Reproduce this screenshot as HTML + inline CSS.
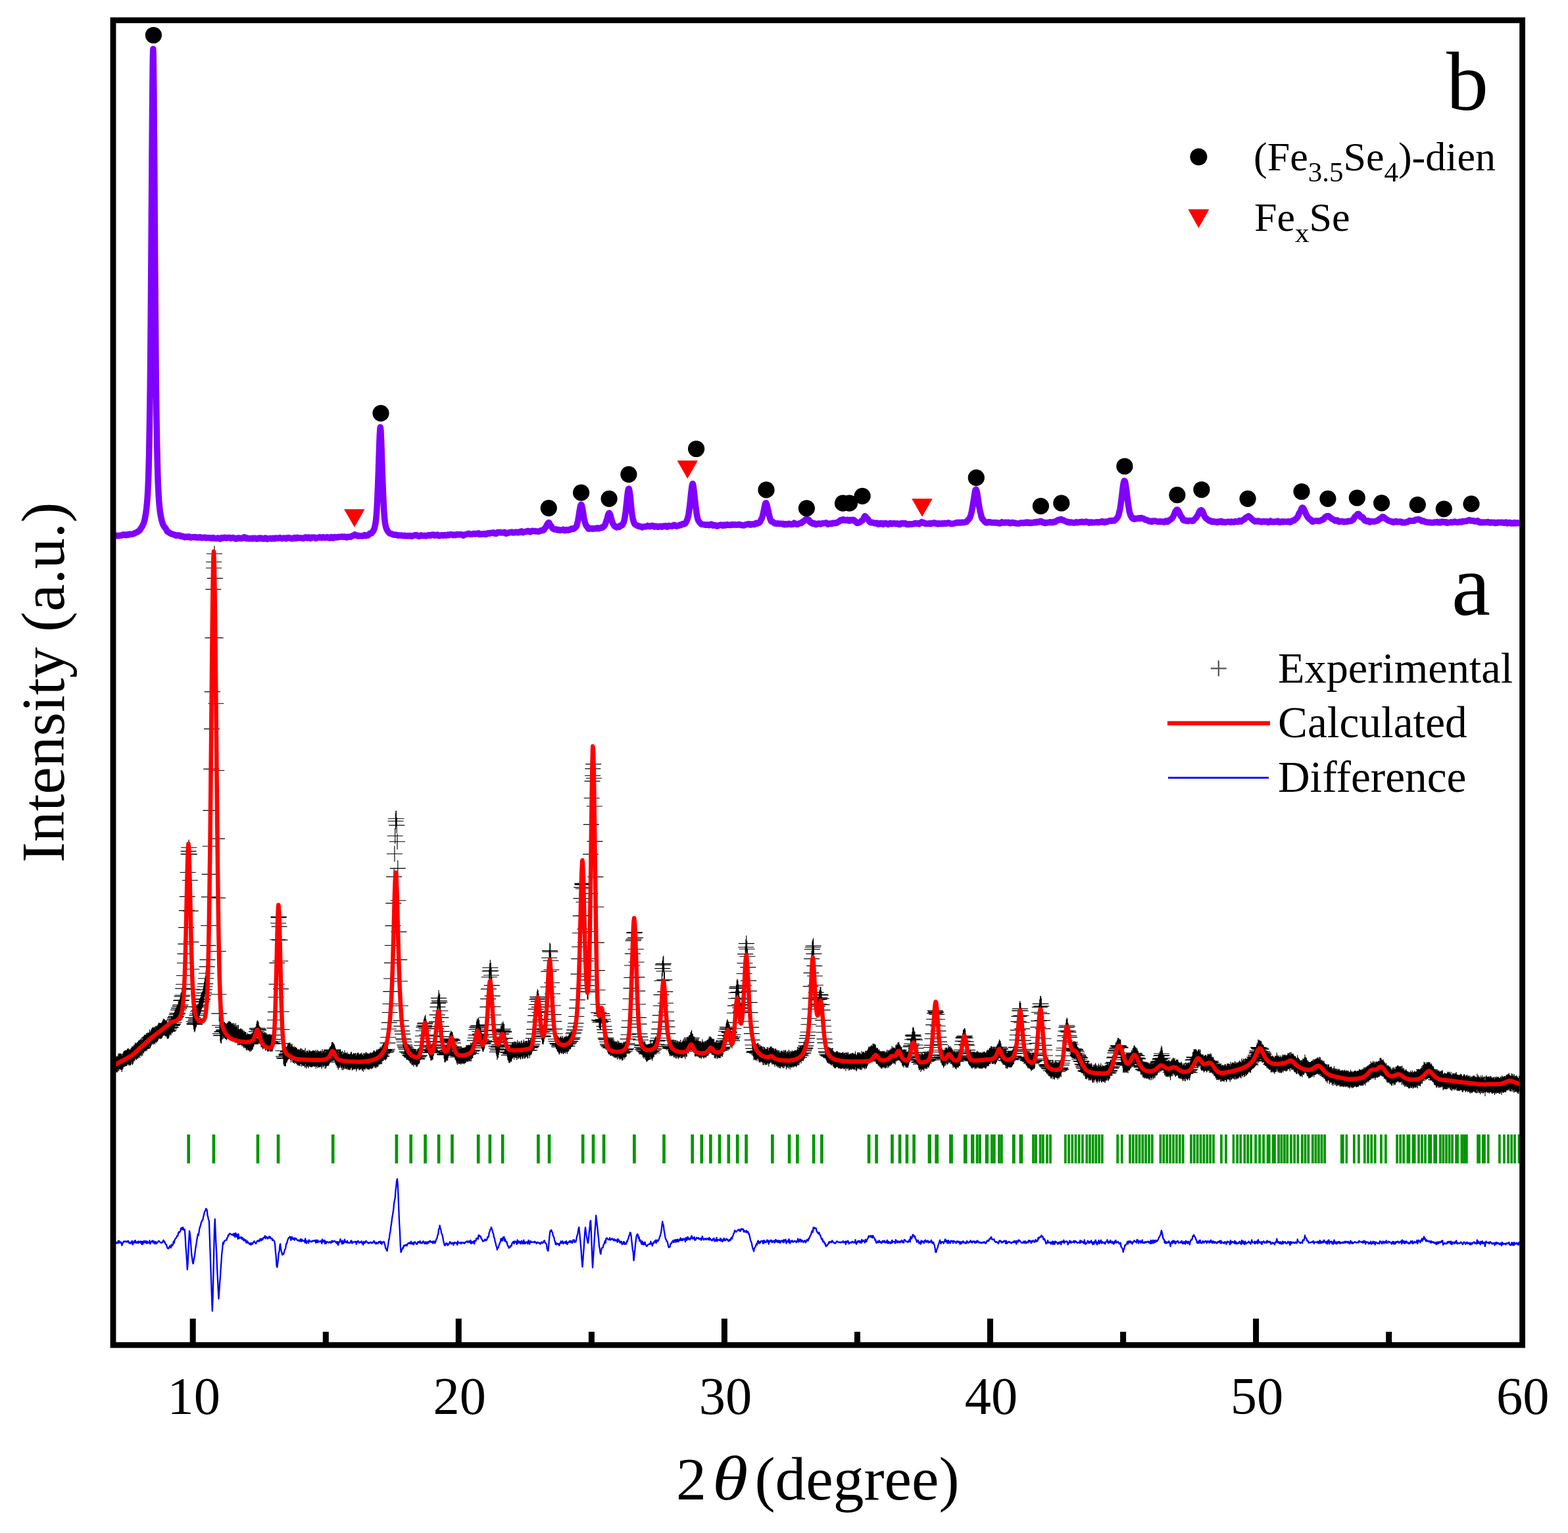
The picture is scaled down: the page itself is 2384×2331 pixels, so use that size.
<!DOCTYPE html>
<html><head><meta charset="utf-8"><title>XRD patterns</title>
<style>
html,body{margin:0;padding:0;background:#fff;}
body{width:2384px;height:2331px;overflow:hidden;}
svg{display:block;}
text{font-family:"Liberation Serif","Times New Roman",serif;fill:#000;}
</style></head><body>
<svg width="2384" height="2331" viewBox="0 0 2384 2331">
<defs><clipPath id="pa"><rect x="176" y="35" width="2134" height="2005"/></clipPath></defs>
<rect width="2384" height="2331" fill="#fff"/>
<g fill="none" stroke-linejoin="round" stroke-linecap="butt">
<g stroke="#009600"><path d="M286.7 1725v44M324.9 1725v44M392 1725v44M423 1725v44M506.2 1725v44M602.9 1725v44M624.7 1725v44M646.6 1725v44M667.1 1725v44M687.5 1725v44M727.2 1725v44M744.9 1725v44M764.2 1725v44M818.4 1725v44M835.1 1725v44M886.2 1725v44M902 1725v44M918.1 1725v44M964.4 1725v44M1009.5 1725v44M1052.7 1725v44M1066.8 1725v44M1080.4 1725v44M1094 1725v44M1107.8 1725v44M1121.2 1725v44M1134.6 1725v44M1174.4 1725v44M1200.1 1725v44M1212.4 1725v44M1237.1 1725v44M1249.4 1725v44M1321.1 1725v44M1332.6 1725v44M1356.5 1725v44M1368.1 1725v44M1378.9 1725v44M1389.6 1725v44" stroke-width="4.6"/><path d="M1485.8 1725v44M1490 1725v44M1508 1725v44M1511.8 1725v44M1519 1725v44M1522.9 1725v44M1571 1725v44M1575 1725v44M1581.7 1725v44M1585.9 1725v44M1592 1725v44M1597 1725v44M1619.9 1725v44M1625.1 1725v44M1630.3 1725v44M1635.5 1725v44M1640.7 1725v44M1645.9 1725v44M1652.3 1725v44M1657 1725v44M1661.7 1725v44M1666.4 1725v44M1671.1 1725v44M1675.8 1725v44M1699.2 1725v44M1705.8 1725v44M1718 1725v44M1722.8 1725v44M1727.7 1725v44M1732.5 1725v44M1737.3 1725v44M1742.1 1725v44M1747 1725v44M1751.8 1725v44M1764.4 1725v44M1769.3 1725v44M1774.2 1725v44M1779.1 1725v44M1784 1725v44M1788.9 1725v44M1793.8 1725v44M1798.7 1725v44M1810.9 1725v44M1815.8 1725v44M1820.6 1725v44M1825.5 1725v44M1830.4 1725v44M1835.3 1725v44M1840.1 1725v44M1845 1725v44M1856.9 1725v44M1864 1725v44M1881.2 1725v44M1886.2 1725v44M1892.3 1725v44M1897.2 1725v44M1902.2 1725v44M1909.1 1725v44M1915.1 1725v44M1921.1 1725v44M1927.6 1725v44M1929.8 1725v44M1935.8 1725v44M1938 1725v44M1944 1725v44M1948.4 1725v44M1952.9 1725v44M1957.3 1725v44M1962.9 1725v44M1968.1 1725v44M1973.3 1725v44M1979.8 1725v44M1984.5 1725v44M1989.3 1725v44M1995.8 1725v44M2000.4 1725v44M2004.9 1725v44M2009.5 1725v44M2014.1 1725v44M2058.8 1725v44M2065.9 1725v44M2074.8 1725v44M2080 1725v44M2085.2 1725v44M2099.9 1725v44M2106.9 1725v44M2124.1 1725v44M2129.1 1725v44M2134.1 1725v44M2157 1725v44M2162 1725v44M2167 1725v44M2173.1 1725v44M2175.3 1725v44M2189.9 1725v44M2194.4 1725v44M2199 1725v44M2203.6 1725v44M2208.1 1725v44M2222.4 1725v44M2226.2 1725v44M2229.9 1725v44M2247 1725v44M2249.2 1725v44M2254.9 1725v44M2257 1725v44M2279.9 1725v44M2287 1725v44M2293.1 1725v44M2298.1 1725v44M2303 1725v44" stroke-width="3.7"/><path d="M1413.3 1725v44" stroke-width="5.3"/><path d="M1424.2 1725v44" stroke-width="5.7"/><path d="M1446 1725v44" stroke-width="5.8"/><path d="M1467.8 1725v44" stroke-width="5.7"/><path d="M1478.7 1725v44" stroke-width="5.3"/><path d="M1500.4 1725v44" stroke-width="5.3"/><path d="M1541.3 1725v44" stroke-width="4.9"/><path d="M1552.4 1725v44" stroke-width="5.8"/><path d="M1875.4 1725v44" stroke-width="3.5"/><path d="M2040.8 1725v44" stroke-width="5.7"/><path d="M2047.3 1725v44" stroke-width="3.5"/><path d="M2090.8 1725v44" stroke-width="3.5"/><path d="M2141.4 1725v44" stroke-width="5.8"/><path d="M2149.6 1725v44" stroke-width="5.8"/><path d="M2182.2 1725v44" stroke-width="5.8"/><path d="M2215.1 1725v44" stroke-width="5.7"/><path d="M2262.8 1725v44" stroke-width="3.5"/><path d="M2309.4 1725v44" stroke-width="3.5"/></g>
<g clip-path="url(#pa)">
<path d="M160.5 1621.2h24m-12-12v24M161.3 1617.9h24m-12-12v24M162.1 1620h24m-12-12v24M162.9 1622.1h24m-12-12v24M163.7 1617.6h24m-12-12v24M164.5 1617.7h24m-12-12v24M165.3 1618.8h24m-12-12v24M166.2 1618.5h24m-12-12v24M167 1617.6h24m-12-12v24M167.8 1613.8h24m-12-12v24M168.6 1616.5h24m-12-12v24M169.4 1613.6h24m-12-12v24M170.2 1613.7h24m-12-12v24M171 1615.3h24m-12-12v24M171.8 1613.6h24m-12-12v24M172.6 1614.8h24m-12-12v24M173.4 1617.9h24m-12-12v24M174.2 1613.9h24m-12-12v24M175 1613.4h24m-12-12v24M175.9 1610.5h24m-12-12v24M176.7 1610.5h24m-12-12v24M177.5 1609.4h24m-12-12v24M178.3 1609.8h24m-12-12v24M179.1 1608.5h24m-12-12v24M179.9 1608.7h24m-12-12v24M180.7 1609h24m-12-12v24M181.5 1607.3h24m-12-12v24M182.3 1606.3h24m-12-12v24M183.1 1605.9h24m-12-12v24M183.9 1608.2h24m-12-12v24M184.7 1607.2h24m-12-12v24M185.5 1608.2h24m-12-12v24M186.4 1607.8h24m-12-12v24M187.2 1605.3h24m-12-12v24M188 1606.4h24m-12-12v24M188.8 1602.5h24m-12-12v24M189.6 1607.3h24m-12-12v24M190.4 1605h24m-12-12v24M191.2 1602.1h24m-12-12v24M192 1600h24m-12-12v24M192.8 1601.6h24m-12-12v24M193.6 1597.4h24m-12-12v24M194.4 1598.3h24m-12-12v24M195.2 1599.9h24m-12-12v24M196.1 1598.2h24m-12-12v24M196.9 1596.6h24m-12-12v24M197.7 1598h24m-12-12v24M198.5 1594.3h24m-12-12v24M199.3 1595.5h24m-12-12v24M200.1 1593.6h24m-12-12v24M200.9 1592.4h24m-12-12v24M201.7 1593.6h24m-12-12v24M202.5 1590.7h24m-12-12v24M203.3 1594.3h24m-12-12v24M204.1 1589.8h24m-12-12v24M204.9 1592.9h24m-12-12v24M205.7 1587.6h24m-12-12v24M206.6 1589.4h24m-12-12v24M207.4 1585.9h24m-12-12v24M208.2 1585h24m-12-12v24M209 1586.5h24m-12-12v24M209.8 1586.5h24m-12-12v24M210.6 1582.9h24m-12-12v24M211.4 1585.8h24m-12-12v24M212.2 1582.1h24m-12-12v24M213 1582.7h24m-12-12v24M213.8 1582.4h24m-12-12v24M214.6 1582h24m-12-12v24M215.4 1577.6h24m-12-12v24M216.3 1582h24m-12-12v24M217.1 1579.7h24m-12-12v24M217.9 1577.4h24m-12-12v24M218.7 1575.9h24m-12-12v24M219.5 1574.3h24m-12-12v24M220.3 1574.2h24m-12-12v24M220.8 1576.7h24m-12-12v24M221.1 1575.2h24m-12-12v24M221.9 1573.4h24m-12-12v24M222.7 1573.7h24m-12-12v24M223.5 1576.2h24m-12-12v24M224.3 1572.8h24m-12-12v24M225.1 1571.8h24m-12-12v24M225.9 1574.1h24m-12-12v24M226.8 1572.2h24m-12-12v24M227.6 1570.9h24m-12-12v24M228.4 1569.3h24m-12-12v24M229.2 1567.3h24m-12-12v24M230 1567.3h24m-12-12v24M230.8 1567.7h24m-12-12v24M231.6 1567.4h24m-12-12v24M232.4 1567.7h24m-12-12v24M233.2 1567.4h24m-12-12v24M234 1566.2h24m-12-12v24M234.8 1565.6h24m-12-12v24M235.6 1563.1h24m-12-12v24M236.5 1560.8h24m-12-12v24M237.3 1562.6h24m-12-12v24M238.1 1561.4h24m-12-12v24M238.9 1562.7h24m-12-12v24M239.7 1564.1h24m-12-12v24M240.5 1563.6h24m-12-12v24M241.3 1564.6h24m-12-12v24M242.1 1567h24m-12-12v24M242.9 1568.1h24m-12-12v24M243.7 1566.5h24m-12-12v24M244.5 1566.7h24m-12-12v24M245.3 1564.1h24m-12-12v24M246.1 1561.3h24m-12-12v24M247 1561.3h24m-12-12v24M247.8 1562.5h24m-12-12v24M248.6 1557.5h24m-12-12v24M249.4 1559.3h24m-12-12v24M250.2 1558.5h24m-12-12v24M251 1557.1h24m-12-12v24M251.8 1552h24m-12-12v24M252.6 1554.7h24m-12-12v24M253.4 1550.1h24m-12-12v24M254.2 1547.9h24m-12-12v24M255 1546.2h24m-12-12v24M255.8 1545.6h24m-12-12v24M256.7 1542.9h24m-12-12v24M257.5 1540.6h24m-12-12v24M258.3 1540.8h24m-12-12v24M259.1 1535.6h24m-12-12v24M259.9 1532.9h24m-12-12v24M260.7 1533.2h24m-12-12v24M261.5 1530.4h24m-12-12v24M262.3 1528.1h24m-12-12v24M263.1 1521.5h24m-12-12v24M263.9 1520.8h24m-12-12v24M264.7 1515.1h24m-12-12v24M265.5 1513.2h24m-12-12v24M266.3 1503.1h24m-12-12v24M267.2 1496.7h24m-12-12v24M268 1483.5h24m-12-12v24M268.8 1464.2h24m-12-12v24M269.6 1450.4h24m-12-12v24M270.4 1435.4h24m-12-12v24M271.2 1410.3h24m-12-12v24M272 1384.6h24m-12-12v24M272.8 1363.4h24m-12-12v24M273.6 1326.5h24m-12-12v24M274.4 1298.6h24m-12-12v24M274.5 1294.3h24m-12-12v24M275.2 1288.7h24m-12-12v24M276 1298.8h24m-12-12v24M276.9 1338.5h24m-12-12v24M277.7 1385.1h24m-12-12v24M278.5 1432.3h24m-12-12v24M279.3 1473.7h24m-12-12v24M280.1 1504.2h24m-12-12v24M280.9 1530.9h24m-12-12v24M281.7 1547.4h24m-12-12v24M282.5 1553.2h24m-12-12v24M283.3 1556.6h24m-12-12v24M284.1 1557.6h24m-12-12v24M284.9 1554.8h24m-12-12v24M285.7 1551.3h24m-12-12v24M286.5 1549.3h24m-12-12v24M287.4 1543.9h24m-12-12v24M288.2 1541.2h24m-12-12v24M289 1538h24m-12-12v24M289.8 1541.2h24m-12-12v24M290.6 1536.5h24m-12-12v24M291.4 1532h24m-12-12v24M292.2 1529.6h24m-12-12v24M293 1528h24m-12-12v24M293.8 1523.7h24m-12-12v24M294.6 1522.5h24m-12-12v24M295.4 1519.7h24m-12-12v24M296.2 1519.1h24m-12-12v24M297.1 1513.9h24m-12-12v24M297.9 1509.8h24m-12-12v24M298.7 1504.8h24m-12-12v24M299.5 1500.2h24m-12-12v24M300.3 1495.8h24m-12-12v24M301.1 1487.7h24m-12-12v24M301.9 1480h24m-12-12v24M302.7 1469.8h24m-12-12v24M303.5 1459.3h24m-12-12v24M304.3 1437.6h24m-12-12v24M305.1 1407.5h24m-12-12v24M305.9 1363.9h24m-12-12v24M306.7 1329.4h24m-12-12v24M307.6 1286.7h24m-12-12v24M308.4 1232.4h24m-12-12v24M309.2 1169.3h24m-12-12v24M310 1108.4h24m-12-12v24M310.8 1051.8h24m-12-12v24M311.6 969.8h24m-12-12v24M312.4 896.1h24m-12-12v24M313 863.7h24m-12-12v24M313.2 854.5h24m-12-12v24M314 842h24m-12-12v24M314.8 879.4h24m-12-12v24M315.6 969.8h24m-12-12v24M316.4 1069.7h24m-12-12v24M317.3 1171.5h24m-12-12v24M318.1 1275.4h24m-12-12v24M318.9 1365.4h24m-12-12v24M319.7 1446.5h24m-12-12v24M320.5 1512h24m-12-12v24M321.3 1541.1h24m-12-12v24M322.1 1559.2h24m-12-12v24M322.9 1571.5h24m-12-12v24M323.7 1574h24m-12-12v24M324.5 1574.7h24m-12-12v24M325.3 1569h24m-12-12v24M326.1 1568.6h24m-12-12v24M326.9 1562.1h24m-12-12v24M327.8 1567.4h24m-12-12v24M328.6 1565.9h24m-12-12v24M329.4 1566h24m-12-12v24M330.2 1567.3h24m-12-12v24M331 1568h24m-12-12v24M331.8 1568.3h24m-12-12v24M332.6 1569.7h24m-12-12v24M333.4 1567.2h24m-12-12v24M334.2 1567.6h24m-12-12v24M335 1564.8h24m-12-12v24M335.8 1566.2h24m-12-12v24M336.6 1564.8h24m-12-12v24M337.5 1564.7h24m-12-12v24M338.3 1566h24m-12-12v24M339.1 1566.8h24m-12-12v24M339.9 1567.8h24m-12-12v24M340.7 1568.7h24m-12-12v24M341.5 1567.9h24m-12-12v24M342.3 1568.1h24m-12-12v24M343.1 1570.9h24m-12-12v24M343.9 1567.8h24m-12-12v24M344.7 1569.9h24m-12-12v24M345.5 1573.7h24m-12-12v24M346.3 1567.8h24m-12-12v24M347.1 1571.3h24m-12-12v24M348 1573.8h24m-12-12v24M348.8 1570.7h24m-12-12v24M349.6 1577.5h24m-12-12v24M350.4 1570.2h24m-12-12v24M351.2 1576.7h24m-12-12v24M352 1577.2h24m-12-12v24M352.8 1576.7h24m-12-12v24M353.6 1575.5h24m-12-12v24M354.4 1577.2h24m-12-12v24M355.2 1576h24m-12-12v24M356 1579.3h24m-12-12v24M356.8 1577.1h24m-12-12v24M357.7 1579.1h24m-12-12v24M358.5 1581.7h24m-12-12v24M359.3 1579.3h24m-12-12v24M360.1 1581h24m-12-12v24M360.9 1582.5h24m-12-12v24M361.7 1580.9h24m-12-12v24M362.5 1585.3h24m-12-12v24M363.3 1584.6h24m-12-12v24M364.1 1582.4h24m-12-12v24M364.9 1585.2h24m-12-12v24M365.7 1584.6h24m-12-12v24M366.5 1585.2h24m-12-12v24M367.3 1586.7h24m-12-12v24M368.2 1585.3h24m-12-12v24M369 1587.3h24m-12-12v24M369.8 1584.2h24m-12-12v24M370.6 1586h24m-12-12v24M371.4 1583.6h24m-12-12v24M372.2 1583.8h24m-12-12v24M373 1580.4h24m-12-12v24M373.8 1578.9h24m-12-12v24M374.6 1576h24m-12-12v24M375.4 1576.2h24m-12-12v24M376.2 1574h24m-12-12v24M377 1572.7h24m-12-12v24M377.9 1568.6h24m-12-12v24M378.7 1564.8h24m-12-12v24M379.5 1563.2h24m-12-12v24M380.3 1564.8h24m-12-12v24M381.1 1566.3h24m-12-12v24M381.9 1571.2h24m-12-12v24M382.7 1573.3h24m-12-12v24M383.5 1573.2h24m-12-12v24M384.3 1575.6h24m-12-12v24M385.1 1580.4h24m-12-12v24M385.9 1580.2h24m-12-12v24M386.7 1580.5h24m-12-12v24M387.5 1583.5h24m-12-12v24M388.4 1581.8h24m-12-12v24M389.2 1582.5h24m-12-12v24M390 1582.6h24m-12-12v24M390.8 1580.9h24m-12-12v24M391.6 1585.8h24m-12-12v24M392.4 1583.2h24m-12-12v24M393.2 1584.6h24m-12-12v24M394 1584.7h24m-12-12v24M394.8 1587.3h24m-12-12v24M395.6 1586.4h24m-12-12v24M396.4 1586.7h24m-12-12v24M397.2 1584.3h24m-12-12v24M398.1 1586.7h24m-12-12v24M398.9 1584.6h24m-12-12v24M399.7 1587.1h24m-12-12v24M400.5 1586.8h24m-12-12v24M401.3 1585.5h24m-12-12v24M402.1 1587.2h24m-12-12v24M402.9 1583.2h24m-12-12v24M403.7 1580.4h24m-12-12v24M404.5 1573.9h24m-12-12v24M405.3 1563.3h24m-12-12v24M406.1 1551h24m-12-12v24M406.9 1538.6h24m-12-12v24M407.7 1516.2h24m-12-12v24M408.6 1496.5h24m-12-12v24M409.4 1464.1h24m-12-12v24M410.2 1428.7h24m-12-12v24M411 1403.7h24m-12-12v24M411.4 1395.2h24m-12-12v24M411.8 1394.1h24m-12-12v24M412.6 1408.9h24m-12-12v24M413.4 1429.4h24m-12-12v24M414.2 1461.2h24m-12-12v24M415 1503.6h24m-12-12v24M415.8 1538.2h24m-12-12v24M416.6 1565.5h24m-12-12v24M417.4 1586.6h24m-12-12v24M418.3 1597.7h24m-12-12v24M419.1 1606.3h24m-12-12v24M419.9 1608.5h24m-12-12v24M420.7 1609h24m-12-12v24M421.5 1609.4h24m-12-12v24M422.3 1608.9h24m-12-12v24M423.1 1603.4h24m-12-12v24M423.9 1604.6h24m-12-12v24M424.7 1602.1h24m-12-12v24M425.5 1599.7h24m-12-12v24M426.3 1598.9h24m-12-12v24M427.1 1597.7h24m-12-12v24M427.9 1598.2h24m-12-12v24M428.8 1597.1h24m-12-12v24M429.6 1599.2h24m-12-12v24M430.4 1603.6h24m-12-12v24M431.2 1599.6h24m-12-12v24M432 1599.3h24m-12-12v24M432.8 1602.8h24m-12-12v24M433.6 1603.9h24m-12-12v24M434.4 1604.2h24m-12-12v24M435.2 1602.4h24m-12-12v24M436 1606.1h24m-12-12v24M436.8 1603.9h24m-12-12v24M437.6 1603.9h24m-12-12v24M438.5 1605.1h24m-12-12v24M439.3 1606.1h24m-12-12v24M440.1 1607.7h24m-12-12v24M440.9 1607.8h24m-12-12v24M441.7 1607.1h24m-12-12v24M442.5 1608.8h24m-12-12v24M443.3 1607.8h24m-12-12v24M444.1 1609.2h24m-12-12v24M444.9 1606h24m-12-12v24M445.7 1606h24m-12-12v24M446.5 1609.8h24m-12-12v24M447.3 1606.8h24m-12-12v24M448.1 1608.6h24m-12-12v24M449 1609h24m-12-12v24M449.8 1608.5h24m-12-12v24M450.6 1608.6h24m-12-12v24M451.4 1611.4h24m-12-12v24M452.2 1605.6h24m-12-12v24M453 1610.8h24m-12-12v24M453.8 1613h24m-12-12v24M454.6 1609.6h24m-12-12v24M455.4 1609.6h24m-12-12v24M456.2 1610.8h24m-12-12v24M457 1612.5h24m-12-12v24M457.8 1608h24m-12-12v24M458.7 1610h24m-12-12v24M459.5 1609.6h24m-12-12v24M460.3 1610.8h24m-12-12v24M461.1 1610.2h24m-12-12v24M461.9 1611h24m-12-12v24M462.7 1609.4h24m-12-12v24M463.5 1610.2h24m-12-12v24M464.3 1609.1h24m-12-12v24M465.1 1609.2h24m-12-12v24M465.9 1610h24m-12-12v24M466.7 1610h24m-12-12v24M467.5 1608.5h24m-12-12v24M468.3 1612.7h24m-12-12v24M469.2 1610.1h24m-12-12v24M470 1608.3h24m-12-12v24M470.8 1612h24m-12-12v24M471.6 1609.3h24m-12-12v24M472.4 1611.1h24m-12-12v24M473.2 1610.4h24m-12-12v24M474 1610.8h24m-12-12v24M474.8 1610.6h24m-12-12v24M475.6 1609.5h24m-12-12v24M476.4 1610.4h24m-12-12v24M477.2 1613.4h24m-12-12v24M478 1606.9h24m-12-12v24M478.9 1610.3h24m-12-12v24M479.7 1610.8h24m-12-12v24M480.5 1608.5h24m-12-12v24M481.3 1607.9h24m-12-12v24M482.1 1613h24m-12-12v24M482.9 1609h24m-12-12v24M483.7 1612.5h24m-12-12v24M484.5 1609.8h24m-12-12v24M485.3 1608.8h24m-12-12v24M486.1 1608.8h24m-12-12v24M486.9 1608.4h24m-12-12v24M487.7 1608.4h24m-12-12v24M488.5 1606.3h24m-12-12v24M489.4 1604.6h24m-12-12v24M490.2 1603.1h24m-12-12v24M491 1603.1h24m-12-12v24M491.8 1600.6h24m-12-12v24M492.6 1596.4h24m-12-12v24M493.4 1596.2h24m-12-12v24M494.2 1597.8h24m-12-12v24M495 1597.5h24m-12-12v24M495.8 1599.6h24m-12-12v24M496.6 1600.6h24m-12-12v24M497.4 1603.5h24m-12-12v24M498.2 1606.1h24m-12-12v24M499.1 1608.2h24m-12-12v24M499.9 1607.8h24m-12-12v24M500.7 1611.8h24m-12-12v24M501.5 1609.3h24m-12-12v24M502.3 1614.8h24m-12-12v24M503.1 1611.9h24m-12-12v24M503.9 1611.6h24m-12-12v24M504.7 1610.4h24m-12-12v24M505.5 1607.2h24m-12-12v24M506.3 1611.4h24m-12-12v24M507.1 1612.1h24m-12-12v24M507.9 1614.9h24m-12-12v24M508.7 1610.1h24m-12-12v24M509.6 1615.2h24m-12-12v24M510.4 1612.1h24m-12-12v24M511.2 1613.7h24m-12-12v24M512 1608.9h24m-12-12v24M512.8 1613.1h24m-12-12v24M513.6 1612.4h24m-12-12v24M514.4 1614.1h24m-12-12v24M515.2 1613.3h24m-12-12v24M516 1611.5h24m-12-12v24M516.8 1614.7h24m-12-12v24M517.6 1614.4h24m-12-12v24M518.4 1614.3h24m-12-12v24M519.3 1615h24m-12-12v24M520.1 1615.2h24m-12-12v24M520.9 1613.6h24m-12-12v24M521.7 1611.6h24m-12-12v24M522.5 1611.6h24m-12-12v24M523.3 1615.8h24m-12-12v24M524.1 1614.9h24m-12-12v24M524.9 1614h24m-12-12v24M525.7 1613.2h24m-12-12v24M526.5 1614h24m-12-12v24M527.3 1614h24m-12-12v24M528.1 1613.5h24m-12-12v24M528.9 1613h24m-12-12v24M529.8 1617.3h24m-12-12v24M530.6 1614.4h24m-12-12v24M531.4 1613.2h24m-12-12v24M532.2 1612.2h24m-12-12v24M533 1613.1h24m-12-12v24M533.8 1615.2h24m-12-12v24M534.6 1615.3h24m-12-12v24M535.4 1613.9h24m-12-12v24M536.2 1614.3h24m-12-12v24M537 1613.7h24m-12-12v24M537.8 1612.5h24m-12-12v24M538.6 1616.1h24m-12-12v24M539.5 1614.7h24m-12-12v24M540.3 1617.8h24m-12-12v24M541.1 1612.8h24m-12-12v24M541.9 1613.7h24m-12-12v24M542.7 1615.2h24m-12-12v24M543.5 1613.4h24m-12-12v24M544.3 1611.6h24m-12-12v24M545.1 1612.2h24m-12-12v24M545.9 1613.7h24m-12-12v24M546.7 1613.9h24m-12-12v24M547.5 1613.1h24m-12-12v24M548.3 1614.7h24m-12-12v24M549.1 1614.5h24m-12-12v24M550 1613.4h24m-12-12v24M550.8 1612.8h24m-12-12v24M551.6 1612.2h24m-12-12v24M552.4 1613.2h24m-12-12v24M553.2 1613.5h24m-12-12v24M554 1612h24m-12-12v24M554.8 1612.4h24m-12-12v24M555.6 1611h24m-12-12v24M556.4 1609.1h24m-12-12v24M557.2 1609.4h24m-12-12v24M558 1611.8h24m-12-12v24M558.8 1611h24m-12-12v24M559.7 1612.3h24m-12-12v24M560.5 1609.6h24m-12-12v24M561.3 1610.4h24m-12-12v24M562.1 1610.6h24m-12-12v24M562.9 1609.6h24m-12-12v24M563.7 1606.7h24m-12-12v24M564.5 1606.7h24m-12-12v24M565.3 1606.5h24m-12-12v24M566.1 1604.1h24m-12-12v24M566.3 1606.1h24m-12-12v24M566.9 1606.3h24m-12-12v24M567.7 1603.2h24m-12-12v24M568.5 1605.9h24m-12-12v24M569.3 1601.4h24m-12-12v24M570.2 1600.3h24m-12-12v24M571 1598.9h24m-12-12v24M571.8 1596.6h24m-12-12v24M572.6 1598.2h24m-12-12v24M573.4 1598h24m-12-12v24M574.2 1600.5h24m-12-12v24M575 1598.7h24m-12-12v24M575.8 1597.9h24m-12-12v24M576.6 1595.6h24m-12-12v24M577.4 1585.8h24m-12-12v24M578.2 1577.2h24m-12-12v24M579 1564.7h24m-12-12v24M579.9 1554.9h24m-12-12v24M580.7 1539.5h24m-12-12v24M581.5 1526.5h24m-12-12v24M582.3 1507.6h24m-12-12v24M583.1 1488h24m-12-12v24M583.9 1464.1h24m-12-12v24M584.7 1437.5h24m-12-12v24M585.5 1407.6h24m-12-12v24M586.3 1373.3h24m-12-12v24M587.1 1333.1h24m-12-12v24M587.9 1298.2h24m-12-12v24M588.7 1271h24m-12-12v24M589.5 1248.5h24m-12-12v24M590 1244.7h24m-12-12v24M590.4 1244.7h24m-12-12v24M591.2 1254.9h24m-12-12v24M592 1279.7h24m-12-12v24M592.8 1320.3h24m-12-12v24M593.6 1369.2h24m-12-12v24M594.4 1416.9h24m-12-12v24M595.2 1459.4h24m-12-12v24M596 1492h24m-12-12v24M596.8 1529.2h24m-12-12v24M597.6 1551.8h24m-12-12v24M598.4 1560.4h24m-12-12v24M599.2 1567.6h24m-12-12v24M600.1 1572.4h24m-12-12v24M600.9 1579.2h24m-12-12v24M601.7 1581h24m-12-12v24M602.5 1584.2h24m-12-12v24M603.3 1589.1h24m-12-12v24M604.1 1591.6h24m-12-12v24M604.9 1593.5h24m-12-12v24M605.7 1595.5h24m-12-12v24M606.5 1599.5h24m-12-12v24M607.3 1599.3h24m-12-12v24M608.1 1599.8h24m-12-12v24M608.9 1599.8h24m-12-12v24M609.7 1601.6h24m-12-12v24M610.6 1601.6h24m-12-12v24M611.4 1604.3h24m-12-12v24M612.2 1605.3h24m-12-12v24M613 1602.6h24m-12-12v24M613.8 1606.3h24m-12-12v24M614.6 1607.8h24m-12-12v24M615.4 1607.5h24m-12-12v24M616.2 1606.2h24m-12-12v24M617 1609.9h24m-12-12v24M617.8 1607.3h24m-12-12v24M618.6 1606.7h24m-12-12v24M619.4 1607.1h24m-12-12v24M620.3 1608.8h24m-12-12v24M621.1 1610.3h24m-12-12v24M621.9 1610.5h24m-12-12v24M622.7 1608.9h24m-12-12v24M623.5 1606.5h24m-12-12v24M624.3 1606.6h24m-12-12v24M625.1 1605.2h24m-12-12v24M625.9 1604.7h24m-12-12v24M626.7 1600.1h24m-12-12v24M627.5 1599.7h24m-12-12v24M628.3 1596.2h24m-12-12v24M629.1 1589.7h24m-12-12v24M629.9 1584.3h24m-12-12v24M630.8 1575.2h24m-12-12v24M631.6 1567.2h24m-12-12v24M632.4 1561.9h24m-12-12v24M633.2 1559.6h24m-12-12v24M634 1556.9h24m-12-12v24M634.8 1555.2h24m-12-12v24M635.6 1561.1h24m-12-12v24M636.4 1564.3h24m-12-12v24M637.2 1573.7h24m-12-12v24M638 1579h24m-12-12v24M638.8 1583.8h24m-12-12v24M639.6 1591.1h24m-12-12v24M640.5 1593h24m-12-12v24M641.3 1595.8h24m-12-12v24M642.1 1597.1h24m-12-12v24M642.9 1600.7h24m-12-12v24M643.7 1600.5h24m-12-12v24M644.5 1600h24m-12-12v24M645.3 1598.4h24m-12-12v24M646.1 1599.4h24m-12-12v24M646.9 1594.1h24m-12-12v24M647.7 1590.2h24m-12-12v24M648.5 1588.8h24m-12-12v24M649.3 1583.5h24m-12-12v24M650.1 1575.1h24m-12-12v24M651 1564h24m-12-12v24M651.8 1553.6h24m-12-12v24M652.6 1543.1h24m-12-12v24M653.4 1531.1h24m-12-12v24M654.2 1525.4h24m-12-12v24M655 1517.6h24m-12-12v24M655.8 1521.8h24m-12-12v24M656.6 1524h24m-12-12v24M657.4 1537h24m-12-12v24M658.2 1547.4h24m-12-12v24M659 1560.6h24m-12-12v24M659.8 1568.4h24m-12-12v24M660.7 1576.4h24m-12-12v24M661.5 1584.8h24m-12-12v24M662.3 1592.5h24m-12-12v24M663.1 1597.7h24m-12-12v24M663.9 1602.6h24m-12-12v24M664.7 1603.8h24m-12-12v24M665.5 1602.6h24m-12-12v24M666.3 1600.6h24m-12-12v24M667.1 1601.3h24m-12-12v24M667.9 1599.3h24m-12-12v24M668.7 1600.7h24m-12-12v24M669.5 1596.6h24m-12-12v24M670.3 1594h24m-12-12v24M671.2 1589.3h24m-12-12v24M672 1583.4h24m-12-12v24M672.8 1582.1h24m-12-12v24M673.6 1579.2h24m-12-12v24M674.4 1580.6h24m-12-12v24M675.2 1581h24m-12-12v24M676 1582h24m-12-12v24M676.8 1585.8h24m-12-12v24M677.6 1592.3h24m-12-12v24M678.4 1591.9h24m-12-12v24M679.2 1595.1h24m-12-12v24M680 1598.7h24m-12-12v24M680.9 1600.1h24m-12-12v24M681.7 1602.1h24m-12-12v24M682.5 1604.7h24m-12-12v24M683.3 1607.2h24m-12-12v24M684.1 1602.5h24m-12-12v24M684.9 1605.4h24m-12-12v24M685.7 1605.7h24m-12-12v24M686.5 1605.6h24m-12-12v24M687.3 1605.5h24m-12-12v24M688.1 1605.2h24m-12-12v24M688.9 1607.1h24m-12-12v24M689.7 1604.9h24m-12-12v24M690.5 1605.3h24m-12-12v24M691.4 1605.3h24m-12-12v24M692.2 1605.3h24m-12-12v24M693 1604.7h24m-12-12v24M693.8 1606.3h24m-12-12v24M694.6 1604.6h24m-12-12v24M695.4 1604.6h24m-12-12v24M696.2 1604h24m-12-12v24M697 1602.3h24m-12-12v24M697.8 1602.3h24m-12-12v24M698.6 1601.6h24m-12-12v24M699.4 1603.1h24m-12-12v24M700.2 1601.4h24m-12-12v24M701.1 1600.4h24m-12-12v24M701.9 1601.8h24m-12-12v24M702.7 1601.7h24m-12-12v24M703.5 1597.5h24m-12-12v24M704.3 1601.9h24m-12-12v24M705.1 1598.3h24m-12-12v24M705.9 1596.8h24m-12-12v24M706.7 1596.9h24m-12-12v24M707.5 1593.3h24m-12-12v24M708.3 1589.7h24m-12-12v24M709.1 1590.7h24m-12-12v24M709.9 1582.1h24m-12-12v24M710.7 1578.2h24m-12-12v24M711.6 1573.9h24m-12-12v24M712.4 1565.5h24m-12-12v24M713.2 1562.4h24m-12-12v24M714 1560.5h24m-12-12v24M714.8 1562.9h24m-12-12v24M715.6 1559.2h24m-12-12v24M716.4 1562.8h24m-12-12v24M717.2 1568.5h24m-12-12v24M718 1572.3h24m-12-12v24M718.8 1574.4h24m-12-12v24M719.6 1580.3h24m-12-12v24M720.4 1582.6h24m-12-12v24M721.3 1585.1h24m-12-12v24M722.1 1587.5h24m-12-12v24M722.9 1586.8h24m-12-12v24M723.7 1584.6h24m-12-12v24M724.5 1582.2h24m-12-12v24M725.3 1576.8h24m-12-12v24M726.1 1573.4h24m-12-12v24M726.9 1567.5h24m-12-12v24M727.7 1558.2h24m-12-12v24M728.5 1547h24m-12-12v24M729.3 1531.1h24m-12-12v24M730.1 1518.9h24m-12-12v24M730.9 1503.8h24m-12-12v24M731.8 1485.7h24m-12-12v24M732.6 1476.7h24m-12-12v24M733.4 1471.5h24m-12-12v24M734.2 1476.1h24m-12-12v24M735 1483h24m-12-12v24M735.8 1498.3h24m-12-12v24M736.6 1514.4h24m-12-12v24M737.4 1530.7h24m-12-12v24M738.2 1543.2h24m-12-12v24M739 1558.1h24m-12-12v24M739.8 1566.4h24m-12-12v24M740.6 1577h24m-12-12v24M741.5 1583.5h24m-12-12v24M742.3 1590.8h24m-12-12v24M743.1 1594h24m-12-12v24M743.9 1599.5h24m-12-12v24M744.7 1596.7h24m-12-12v24M745.5 1596.4h24m-12-12v24M746.3 1591.8h24m-12-12v24M747.1 1588.6h24m-12-12v24M747.9 1583.9h24m-12-12v24M748.7 1580.4h24m-12-12v24M749.5 1572h24m-12-12v24M750.3 1572.3h24m-12-12v24M751.1 1567h24m-12-12v24M752 1569.7h24m-12-12v24M752.8 1564.9h24m-12-12v24M753.6 1567.8h24m-12-12v24M754.4 1569.1h24m-12-12v24M755.2 1578.5h24m-12-12v24M756 1579h24m-12-12v24M756.8 1585.6h24m-12-12v24M757.6 1588.8h24m-12-12v24M758.4 1590.4h24m-12-12v24M759.2 1595.6h24m-12-12v24M760 1599.7h24m-12-12v24M760.8 1600.7h24m-12-12v24M761.7 1604.3h24m-12-12v24M762.5 1604.2h24m-12-12v24M763.3 1604.3h24m-12-12v24M764.1 1602.2h24m-12-12v24M764.9 1601.8h24m-12-12v24M765.7 1602.5h24m-12-12v24M766.5 1598.6h24m-12-12v24M767.3 1597.4h24m-12-12v24M768.1 1596.2h24m-12-12v24M768.9 1596h24m-12-12v24M769.7 1599.4h24m-12-12v24M770.5 1595.5h24m-12-12v24M771.3 1595.8h24m-12-12v24M772.2 1597h24m-12-12v24M773 1596.5h24m-12-12v24M773.8 1600h24m-12-12v24M774.6 1593.5h24m-12-12v24M775.4 1597.5h24m-12-12v24M776.2 1598h24m-12-12v24M777 1595.2h24m-12-12v24M777.8 1595.9h24m-12-12v24M778.6 1597.4h24m-12-12v24M779.4 1599.1h24m-12-12v24M780.2 1595.2h24m-12-12v24M781 1594.1h24m-12-12v24M781.9 1597.9h24m-12-12v24M782.7 1598.6h24m-12-12v24M783.5 1595.7h24m-12-12v24M784.3 1592.8h24m-12-12v24M785.1 1598.1h24m-12-12v24M785.9 1595.5h24m-12-12v24M786.7 1597.4h24m-12-12v24M787.5 1595.5h24m-12-12v24M788.3 1594.8h24m-12-12v24M789.1 1594.6h24m-12-12v24M789.9 1597.4h24m-12-12v24M790.7 1597.1h24m-12-12v24M791.5 1591.6h24m-12-12v24M792.4 1593.1h24m-12-12v24M793.2 1596.9h24m-12-12v24M794 1593.2h24m-12-12v24M794.8 1591h24m-12-12v24M795.6 1592h24m-12-12v24M796.4 1590.2h24m-12-12v24M797.2 1587.8h24m-12-12v24M798 1583.6h24m-12-12v24M798.8 1578.9h24m-12-12v24M799.6 1572.1h24m-12-12v24M800.4 1565.1h24m-12-12v24M801.2 1553.9h24m-12-12v24M802.1 1544.3h24m-12-12v24M802.9 1534.3h24m-12-12v24M803.7 1527.5h24m-12-12v24M804.5 1519.6h24m-12-12v24M805.3 1515.9h24m-12-12v24M806.1 1518h24m-12-12v24M806.9 1522.6h24m-12-12v24M807.7 1531.3h24m-12-12v24M808.5 1539.5h24m-12-12v24M809.3 1550.9h24m-12-12v24M810.1 1559h24m-12-12v24M810.9 1564.3h24m-12-12v24M811.7 1569.4h24m-12-12v24M812.6 1575.1h24m-12-12v24M813.4 1576.3h24m-12-12v24M814.2 1575.5h24m-12-12v24M815 1571.7h24m-12-12v24M815.8 1567.7h24m-12-12v24M816.6 1565.6h24m-12-12v24M817.4 1558.7h24m-12-12v24M818.2 1549.9h24m-12-12v24M819 1538.3h24m-12-12v24M819.8 1531h24m-12-12v24M820.6 1516h24m-12-12v24M821.4 1500.7h24m-12-12v24M822.3 1477.1h24m-12-12v24M823.1 1456.5h24m-12-12v24M823.9 1445.6h24m-12-12v24M824.7 1447.2h24m-12-12v24M825.5 1460.7h24m-12-12v24M826.3 1474.7h24m-12-12v24M827.1 1494.2h24m-12-12v24M827.9 1511h24m-12-12v24M828.7 1529h24m-12-12v24M829.5 1542.6h24m-12-12v24M830.3 1553.1h24m-12-12v24M831.1 1564.6h24m-12-12v24M831.9 1571.7h24m-12-12v24M832.8 1580h24m-12-12v24M833.6 1583.3h24m-12-12v24M834.4 1583.3h24m-12-12v24M835.2 1586.2h24m-12-12v24M836 1587.4h24m-12-12v24M836.8 1587.7h24m-12-12v24M837.6 1590h24m-12-12v24M838.4 1591.8h24m-12-12v24M839.2 1589h24m-12-12v24M840 1589.3h24m-12-12v24M840.8 1586.7h24m-12-12v24M841.6 1590h24m-12-12v24M842.5 1589.6h24m-12-12v24M843.3 1587h24m-12-12v24M844.1 1590.6h24m-12-12v24M844.9 1591h24m-12-12v24M845.7 1588.8h24m-12-12v24M846.5 1589.1h24m-12-12v24M847.3 1588h24m-12-12v24M848.1 1590.2h24m-12-12v24M848.9 1586.4h24m-12-12v24M849.7 1587.7h24m-12-12v24M850.5 1590.6h24m-12-12v24M851.3 1587.2h24m-12-12v24M852.1 1587.1h24m-12-12v24M853 1585.4h24m-12-12v24M853.8 1583h24m-12-12v24M854.6 1583.7h24m-12-12v24M855.4 1583.3h24m-12-12v24M856.2 1579.8h24m-12-12v24M857 1580.4h24m-12-12v24M857.8 1580.1h24m-12-12v24M858.6 1577.9h24m-12-12v24M859.4 1571.7h24m-12-12v24M860.2 1570h24m-12-12v24M861 1566h24m-12-12v24M861.8 1566.3h24m-12-12v24M862.7 1561.2h24m-12-12v24M863.5 1555.9h24m-12-12v24M864.3 1545.5h24m-12-12v24M865.1 1532.8h24m-12-12v24M865.9 1520.3h24m-12-12v24M866.7 1503.1h24m-12-12v24M867.5 1481.1h24m-12-12v24M868.3 1457.8h24m-12-12v24M869.1 1439.7h24m-12-12v24M869.9 1418.7h24m-12-12v24M870.7 1392.6h24m-12-12v24M871.5 1366.1h24m-12-12v24M872.3 1349.3h24m-12-12v24M873.2 1343.3h24m-12-12v24M873.5 1345.4h24m-12-12v24M874 1344.3h24m-12-12v24M874.8 1351.2h24m-12-12v24M875.6 1371.7h24m-12-12v24M876.4 1392.4h24m-12-12v24M877.2 1412.7h24m-12-12v24M878 1433.1h24m-12-12v24M878.8 1461.1h24m-12-12v24M879.6 1484.3h24m-12-12v24M880.4 1498.6h24m-12-12v24M881.2 1508.1h24m-12-12v24M882 1507.8h24m-12-12v24M882.9 1490.1h24m-12-12v24M883.7 1457.7h24m-12-12v24M884.5 1416.5h24m-12-12v24M885.3 1358.6h24m-12-12v24M886.1 1298.9h24m-12-12v24M886.9 1253.6h24m-12-12v24M887.7 1213.5h24m-12-12v24M888.5 1187.8h24m-12-12v24M889 1179.5h24m-12-12v24M889.3 1168.9h24m-12-12v24M890.1 1161.9h24m-12-12v24M890.9 1183.2h24m-12-12v24M891.7 1226h24m-12-12v24M892.5 1279.4h24m-12-12v24M893.4 1333.3h24m-12-12v24M894.2 1379h24m-12-12v24M895 1433.3h24m-12-12v24M895.8 1475.6h24m-12-12v24M896.6 1505.2h24m-12-12v24M897.4 1527.2h24m-12-12v24M898.2 1539.8h24m-12-12v24M899 1551.1h24m-12-12v24M899.8 1551.7h24m-12-12v24M900.6 1554.4h24m-12-12v24M901.4 1552.5h24m-12-12v24M902.2 1544.2h24m-12-12v24M903.1 1541.4h24m-12-12v24M903.9 1544.3h24m-12-12v24M904.7 1550h24m-12-12v24M905.5 1553.2h24m-12-12v24M906.3 1560.5h24m-12-12v24M907.1 1565.6h24m-12-12v24M907.9 1570.1h24m-12-12v24M908.7 1579.6h24m-12-12v24M909.5 1578h24m-12-12v24M910.3 1581h24m-12-12v24M911.1 1584.2h24m-12-12v24M911.9 1587.8h24m-12-12v24M912.7 1589.5h24m-12-12v24M913.6 1591.3h24m-12-12v24M914.4 1591.4h24m-12-12v24M915.2 1589.8h24m-12-12v24M916 1593.4h24m-12-12v24M916.8 1592.8h24m-12-12v24M917.6 1593.3h24m-12-12v24M918.4 1592h24m-12-12v24M919.2 1593.8h24m-12-12v24M920 1594h24m-12-12v24M920.8 1595.4h24m-12-12v24M921.6 1593.7h24m-12-12v24M922.4 1596.3h24m-12-12v24M923.3 1596.7h24m-12-12v24M924.1 1595.1h24m-12-12v24M924.9 1596.2h24m-12-12v24M925.7 1596.1h24m-12-12v24M926.5 1598.9h24m-12-12v24M927.3 1594h24m-12-12v24M928.1 1597.5h24m-12-12v24M928.9 1595.6h24m-12-12v24M929.7 1597.6h24m-12-12v24M930.5 1599.6h24m-12-12v24M931.3 1597.5h24m-12-12v24M932.1 1598.7h24m-12-12v24M932.9 1597.2h24m-12-12v24M933.8 1601.3h24m-12-12v24M934.6 1599.7h24m-12-12v24M935.4 1599.8h24m-12-12v24M936.2 1595.9h24m-12-12v24M937 1595.9h24m-12-12v24M937.8 1598.7h24m-12-12v24M938.6 1596.1h24m-12-12v24M939.4 1595.1h24m-12-12v24M940.2 1594.7h24m-12-12v24M941 1588.7h24m-12-12v24M941.8 1586.9h24m-12-12v24M942.6 1579.8h24m-12-12v24M943.5 1573.2h24m-12-12v24M944.3 1562.1h24m-12-12v24M945.1 1552h24m-12-12v24M945.9 1535h24m-12-12v24M946.7 1518.7h24m-12-12v24M947.5 1502.6h24m-12-12v24M948.3 1486.5h24m-12-12v24M949.1 1468h24m-12-12v24M949.9 1450.1h24m-12-12v24M950.7 1430.3h24m-12-12v24M951.5 1428.1h24m-12-12v24M952.2 1418.7h24m-12-12v24M952.3 1418h24m-12-12v24M953.1 1417.5h24m-12-12v24M954 1425.9h24m-12-12v24M954.8 1443.2h24m-12-12v24M955.6 1463h24m-12-12v24M956.4 1485.8h24m-12-12v24M957.2 1506.8h24m-12-12v24M958 1527h24m-12-12v24M958.8 1547.3h24m-12-12v24M959.6 1557.1h24m-12-12v24M960.4 1571.8h24m-12-12v24M961.2 1576.6h24m-12-12v24M962 1581.2h24m-12-12v24M962.8 1588.7h24m-12-12v24M963.7 1592.6h24m-12-12v24M964.5 1589.8h24m-12-12v24M965.3 1595.8h24m-12-12v24M966.1 1594.2h24m-12-12v24M966.9 1597.9h24m-12-12v24M967.7 1596h24m-12-12v24M968.5 1595h24m-12-12v24M969.3 1598.8h24m-12-12v24M970.1 1600.1h24m-12-12v24M970.9 1602.4h24m-12-12v24M971.7 1602.3h24m-12-12v24M972.5 1601.2h24m-12-12v24M973.3 1600.2h24m-12-12v24M974.2 1599.9h24m-12-12v24M975 1599.9h24m-12-12v24M975.8 1598.7h24m-12-12v24M976.6 1599.1h24m-12-12v24M977.4 1595.2h24m-12-12v24M978.2 1598.7h24m-12-12v24M979 1597.8h24m-12-12v24M979.8 1601h24m-12-12v24M980.6 1597.5h24m-12-12v24M981.4 1594.8h24m-12-12v24M982.2 1595.4h24m-12-12v24M983 1591.7h24m-12-12v24M983.9 1591.4h24m-12-12v24M984.7 1588.1h24m-12-12v24M985.5 1591.4h24m-12-12v24M986.3 1588.1h24m-12-12v24M987.1 1583h24m-12-12v24M987.9 1581.7h24m-12-12v24M988.7 1578.5h24m-12-12v24M989.5 1571.9h24m-12-12v24M990.3 1564.6h24m-12-12v24M991.1 1554.1h24m-12-12v24M991.9 1543.9h24m-12-12v24M992.7 1529.2h24m-12-12v24M993.5 1512.6h24m-12-12v24M994.4 1491.2h24m-12-12v24M995.2 1472.6h24m-12-12v24M996 1467.1h24m-12-12v24M996.8 1465.3h24m-12-12v24M997.6 1476.7h24m-12-12v24M998.4 1489.9h24m-12-12v24M999.2 1507.9h24m-12-12v24M1000 1525.2h24m-12-12v24M1000.8 1538.7h24m-12-12v24M1001.6 1552.3h24m-12-12v24M1002.4 1561.4h24m-12-12v24M1003.2 1571.6h24m-12-12v24M1004.1 1582h24m-12-12v24M1004.9 1588.8h24m-12-12v24M1005.7 1591.1h24m-12-12v24M1006.5 1594.1h24m-12-12v24M1007.3 1592.2h24m-12-12v24M1008.1 1592.7h24m-12-12v24M1008.9 1594.3h24m-12-12v24M1009.7 1592.9h24m-12-12v24M1010.5 1593.2h24m-12-12v24M1011.3 1592.4h24m-12-12v24M1012.1 1596h24m-12-12v24M1012.9 1593.3h24m-12-12v24M1013.7 1596h24m-12-12v24M1014.6 1593.4h24m-12-12v24M1015.4 1597.5h24m-12-12v24M1016.2 1594.5h24m-12-12v24M1017 1597.4h24m-12-12v24M1017.8 1593.9h24m-12-12v24M1018.6 1595.7h24m-12-12v24M1019.4 1598.2h24m-12-12v24M1020.2 1595.3h24m-12-12v24M1021 1596.6h24m-12-12v24M1021.8 1595.8h24m-12-12v24M1022.6 1593h24m-12-12v24M1023.4 1596.9h24m-12-12v24M1024.3 1597h24m-12-12v24M1025.1 1594.6h24m-12-12v24M1025.9 1597h24m-12-12v24M1026.7 1594.8h24m-12-12v24M1027.5 1594.3h24m-12-12v24M1028.3 1595.6h24m-12-12v24M1029.1 1594.3h24m-12-12v24M1029.9 1598.4h24m-12-12v24M1030.7 1592.1h24m-12-12v24M1031.5 1594.9h24m-12-12v24M1032.3 1594.5h24m-12-12v24M1033.1 1588.9h24m-12-12v24M1033.9 1588h24m-12-12v24M1034.8 1589.9h24m-12-12v24M1035.6 1586.6h24m-12-12v24M1036.4 1586.1h24m-12-12v24M1037.2 1585.6h24m-12-12v24M1038 1582h24m-12-12v24M1038.8 1580.4h24m-12-12v24M1039.6 1578.3h24m-12-12v24M1040.4 1583.8h24m-12-12v24M1041.2 1583.7h24m-12-12v24M1042 1587.3h24m-12-12v24M1042.8 1588.9h24m-12-12v24M1043.6 1588.1h24m-12-12v24M1044.5 1594.1h24m-12-12v24M1045.3 1594.2h24m-12-12v24M1046.1 1594.8h24m-12-12v24M1046.9 1592.4h24m-12-12v24M1047.7 1594.1h24m-12-12v24M1048.5 1594.3h24m-12-12v24M1049.3 1594.7h24m-12-12v24M1050.1 1593.9h24m-12-12v24M1050.9 1596.4h24m-12-12v24M1051.7 1596.2h24m-12-12v24M1052.5 1596.6h24m-12-12v24M1053.3 1595.3h24m-12-12v24M1054.1 1598.1h24m-12-12v24M1055 1596.5h24m-12-12v24M1055.8 1592.2h24m-12-12v24M1056.6 1595.3h24m-12-12v24M1057.4 1596.2h24m-12-12v24M1058.2 1597.7h24m-12-12v24M1059 1595.7h24m-12-12v24M1059.8 1595.6h24m-12-12v24M1060.6 1594.8h24m-12-12v24M1061.4 1596.4h24m-12-12v24M1062.2 1594.3h24m-12-12v24M1063 1593.5h24m-12-12v24M1063.8 1592.5h24m-12-12v24M1064.7 1593.5h24m-12-12v24M1065.5 1590.9h24m-12-12v24M1066.3 1588h24m-12-12v24M1067.1 1590.5h24m-12-12v24M1067.9 1587.7h24m-12-12v24M1068.7 1589h24m-12-12v24M1069.5 1589.4h24m-12-12v24M1070.3 1591.4h24m-12-12v24M1071.1 1592.2h24m-12-12v24M1071.9 1590.9h24m-12-12v24M1072.7 1592.6h24m-12-12v24M1073.5 1591.9h24m-12-12v24M1074.3 1597.1h24m-12-12v24M1075.2 1595.9h24m-12-12v24M1076 1597.8h24m-12-12v24M1076.8 1595.5h24m-12-12v24M1077.6 1593.2h24m-12-12v24M1078.4 1598.6h24m-12-12v24M1079.2 1596.5h24m-12-12v24M1080 1596.6h24m-12-12v24M1080.8 1596.3h24m-12-12v24M1081.6 1597.1h24m-12-12v24M1082.4 1596.7h24m-12-12v24M1083.2 1593.2h24m-12-12v24M1084 1596.7h24m-12-12v24M1084.9 1593.7h24m-12-12v24M1085.7 1592.9h24m-12-12v24M1086.5 1594.9h24m-12-12v24M1087.3 1592.1h24m-12-12v24M1088.1 1588.1h24m-12-12v24M1088.9 1583.1h24m-12-12v24M1089.7 1582.8h24m-12-12v24M1090.5 1579.5h24m-12-12v24M1091.3 1574.3h24m-12-12v24M1092.1 1568.2h24m-12-12v24M1092.9 1565h24m-12-12v24M1093.7 1561.7h24m-12-12v24M1094.5 1563.2h24m-12-12v24M1095.4 1565.5h24m-12-12v24M1096.2 1568.8h24m-12-12v24M1097 1570.1h24m-12-12v24M1097.8 1575.7h24m-12-12v24M1098.6 1578.8h24m-12-12v24M1099.4 1578.7h24m-12-12v24M1100.2 1579.8h24m-12-12v24M1101 1582.3h24m-12-12v24M1101.8 1576.9h24m-12-12v24M1102.6 1573.2h24m-12-12v24M1103.4 1564h24m-12-12v24M1104.2 1554.9h24m-12-12v24M1105.1 1540.2h24m-12-12v24M1105.9 1529.4h24m-12-12v24M1106.7 1518.2h24m-12-12v24M1107.5 1509.5h24m-12-12v24M1108.3 1502.3h24m-12-12v24M1109.1 1500.4h24m-12-12v24M1109.9 1502.8h24m-12-12v24M1110.7 1508.6h24m-12-12v24M1111.5 1517.9h24m-12-12v24M1112.3 1527.5h24m-12-12v24M1113.1 1532.2h24m-12-12v24M1113.9 1538.8h24m-12-12v24M1114.7 1536.7h24m-12-12v24M1115.6 1533.1h24m-12-12v24M1116.4 1528.7h24m-12-12v24M1117.2 1519.2h24m-12-12v24M1118 1508.4h24m-12-12v24M1118.8 1498.4h24m-12-12v24M1119.6 1480.5h24m-12-12v24M1120.4 1464.5h24m-12-12v24M1121.2 1450.6h24m-12-12v24M1122 1440.2h24m-12-12v24M1122.8 1434.6h24m-12-12v24M1123.6 1443h24m-12-12v24M1124.4 1454.2h24m-12-12v24M1125.3 1470.8h24m-12-12v24M1126.1 1491.1h24m-12-12v24M1126.9 1506.8h24m-12-12v24M1127.7 1524.3h24m-12-12v24M1128.5 1539.6h24m-12-12v24M1129.3 1553h24m-12-12v24M1130.1 1562.1h24m-12-12v24M1130.9 1571.6h24m-12-12v24M1131.7 1581.3h24m-12-12v24M1132.5 1589h24m-12-12v24M1133.3 1594.4h24m-12-12v24M1134.1 1600.2h24m-12-12v24M1134.9 1598.6h24m-12-12v24M1135.8 1599.3h24m-12-12v24M1136.6 1600.5h24m-12-12v24M1137.4 1599.5h24m-12-12v24M1138.2 1598.9h24m-12-12v24M1139 1601.7h24m-12-12v24M1139.8 1598.3h24m-12-12v24M1140.6 1597.7h24m-12-12v24M1141.4 1600.8h24m-12-12v24M1142.2 1603.6h24m-12-12v24M1143 1601.7h24m-12-12v24M1143.8 1604.1h24m-12-12v24M1144.6 1602.2h24m-12-12v24M1145.5 1602.6h24m-12-12v24M1146.3 1602.8h24m-12-12v24M1147.1 1604h24m-12-12v24M1147.9 1607.4h24m-12-12v24M1148.7 1603.3h24m-12-12v24M1149.5 1607.8h24m-12-12v24M1150.3 1604.1h24m-12-12v24M1151.1 1605.6h24m-12-12v24M1151.9 1607.4h24m-12-12v24M1152.7 1607.2h24m-12-12v24M1153.5 1606.8h24m-12-12v24M1154.3 1603.9h24m-12-12v24M1155.1 1606.8h24m-12-12v24M1156 1604.6h24m-12-12v24M1156.8 1609.7h24m-12-12v24M1157.6 1605.3h24m-12-12v24M1158.4 1605.5h24m-12-12v24M1159.2 1603.2h24m-12-12v24M1160 1604h24m-12-12v24M1160.8 1602.8h24m-12-12v24M1161.6 1606.4h24m-12-12v24M1162.4 1605h24m-12-12v24M1163.2 1606.8h24m-12-12v24M1164 1605.6h24m-12-12v24M1164.8 1606.5h24m-12-12v24M1165.7 1609.7h24m-12-12v24M1166.5 1606.9h24m-12-12v24M1167.3 1606.1h24m-12-12v24M1168.1 1609.7h24m-12-12v24M1168.9 1607.7h24m-12-12v24M1169.7 1609h24m-12-12v24M1170.5 1611.2h24m-12-12v24M1171.3 1608.8h24m-12-12v24M1172.1 1611.5h24m-12-12v24M1172.9 1609.2h24m-12-12v24M1173.7 1612.6h24m-12-12v24M1174.5 1612.4h24m-12-12v24M1175.3 1609.8h24m-12-12v24M1176.2 1610.3h24m-12-12v24M1177 1609.4h24m-12-12v24M1177.8 1611h24m-12-12v24M1178.6 1612.5h24m-12-12v24M1179.4 1608.7h24m-12-12v24M1180.2 1612.3h24m-12-12v24M1181 1609h24m-12-12v24M1181.8 1609.7h24m-12-12v24M1182.6 1608.3h24m-12-12v24M1183.4 1614.2h24m-12-12v24M1184.2 1611.1h24m-12-12v24M1185 1611.4h24m-12-12v24M1185.9 1610h24m-12-12v24M1186.7 1612.7h24m-12-12v24M1187.5 1607.9h24m-12-12v24M1188.3 1611h24m-12-12v24M1189.1 1614.2h24m-12-12v24M1189.9 1610.2h24m-12-12v24M1190.7 1610.7h24m-12-12v24M1191.5 1611.5h24m-12-12v24M1192.3 1609.1h24m-12-12v24M1193.1 1610.2h24m-12-12v24M1193.9 1611.4h24m-12-12v24M1194.7 1610.1h24m-12-12v24M1195.5 1610.1h24m-12-12v24M1196.4 1608.8h24m-12-12v24M1197.2 1609.6h24m-12-12v24M1198 1608.9h24m-12-12v24M1198.8 1610.7h24m-12-12v24M1199.6 1609.3h24m-12-12v24M1200.4 1607.5h24m-12-12v24M1201.2 1603.7h24m-12-12v24M1202 1608h24m-12-12v24M1202.8 1607.6h24m-12-12v24M1203.6 1604.5h24m-12-12v24M1204.4 1602.3h24m-12-12v24M1205.2 1602.9h24m-12-12v24M1206.1 1605.2h24m-12-12v24M1206.9 1601.3h24m-12-12v24M1207.7 1601.2h24m-12-12v24M1208.5 1601.1h24m-12-12v24M1209.3 1601.3h24m-12-12v24M1210.1 1597.9h24m-12-12v24M1210.9 1596h24m-12-12v24M1211.7 1593.3h24m-12-12v24M1212.5 1594.1h24m-12-12v24M1213.3 1590.3h24m-12-12v24M1214.1 1585.1h24m-12-12v24M1214.9 1578.9h24m-12-12v24M1215.7 1574.6h24m-12-12v24M1216.6 1569.2h24m-12-12v24M1217.4 1557.7h24m-12-12v24M1218.2 1548.7h24m-12-12v24M1219 1534.2h24m-12-12v24M1219.8 1517.9h24m-12-12v24M1220.6 1499.8h24m-12-12v24M1221.4 1479.3h24m-12-12v24M1222.2 1457.8h24m-12-12v24M1223 1443.5h24m-12-12v24M1223.8 1440.7h24m-12-12v24M1224.6 1438.4h24m-12-12v24M1225.4 1450.3h24m-12-12v24M1226.3 1468.6h24m-12-12v24M1227.1 1484h24m-12-12v24M1227.9 1498h24m-12-12v24M1228.7 1509.1h24m-12-12v24M1229.5 1520.5h24m-12-12v24M1230.3 1526.7h24m-12-12v24M1231.1 1529.8h24m-12-12v24M1231.9 1527.7h24m-12-12v24M1232.7 1526.7h24m-12-12v24M1233.5 1519.6h24m-12-12v24M1234.3 1516.9h24m-12-12v24M1235.1 1512.2h24m-12-12v24M1235.9 1513.2h24m-12-12v24M1236.8 1518.5h24m-12-12v24M1237.6 1527.6h24m-12-12v24M1238.4 1535.9h24m-12-12v24M1239.2 1551.3h24m-12-12v24M1240 1560.2h24m-12-12v24M1240.8 1569.7h24m-12-12v24M1241.6 1579.9h24m-12-12v24M1242.4 1585.6h24m-12-12v24M1243.2 1594.2h24m-12-12v24M1244 1599.4h24m-12-12v24M1244.8 1601h24m-12-12v24M1245.6 1603.8h24m-12-12v24M1246.5 1603.7h24m-12-12v24M1247.3 1605.1h24m-12-12v24M1248.1 1603.5h24m-12-12v24M1248.9 1606.1h24m-12-12v24M1249.7 1604.9h24m-12-12v24M1250.5 1606h24m-12-12v24M1251.3 1607.3h24m-12-12v24M1252.1 1608.3h24m-12-12v24M1252.9 1606.1h24m-12-12v24M1253.7 1606.7h24m-12-12v24M1254.5 1609h24m-12-12v24M1255.3 1610.6h24m-12-12v24M1256.1 1610.8h24m-12-12v24M1257 1611.9h24m-12-12v24M1257.8 1612.8h24m-12-12v24M1258.6 1611.8h24m-12-12v24M1259.4 1611.3h24m-12-12v24M1260.2 1610h24m-12-12v24M1261 1610.3h24m-12-12v24M1261.8 1611.2h24m-12-12v24M1262.6 1612.4h24m-12-12v24M1263.4 1612.5h24m-12-12v24M1264.2 1612.3h24m-12-12v24M1265 1612.2h24m-12-12v24M1265.8 1613.5h24m-12-12v24M1266.7 1612.9h24m-12-12v24M1267.5 1613.1h24m-12-12v24M1268.3 1613.2h24m-12-12v24M1269.1 1612h24m-12-12v24M1269.9 1611.4h24m-12-12v24M1270.7 1613.7h24m-12-12v24M1271.5 1613.7h24m-12-12v24M1272.3 1612.8h24m-12-12v24M1273.1 1612.5h24m-12-12v24M1273.9 1616.6h24m-12-12v24M1274.7 1612.1h24m-12-12v24M1275.5 1612.9h24m-12-12v24M1276.3 1613.7h24m-12-12v24M1277.2 1611.6h24m-12-12v24M1278 1613.5h24m-12-12v24M1278.8 1616h24m-12-12v24M1279.6 1614.8h24m-12-12v24M1280.4 1614.3h24m-12-12v24M1281.2 1614.3h24m-12-12v24M1282 1613.6h24m-12-12v24M1282.8 1614.8h24m-12-12v24M1283.6 1613.2h24m-12-12v24M1284.4 1612.8h24m-12-12v24M1285.2 1613.6h24m-12-12v24M1286 1614.8h24m-12-12v24M1286.9 1613.9h24m-12-12v24M1287.7 1614.4h24m-12-12v24M1288.5 1610.4h24m-12-12v24M1289.3 1615.2h24m-12-12v24M1290.1 1616.9h24m-12-12v24M1290.9 1615.3h24m-12-12v24M1291.7 1612.8h24m-12-12v24M1292.5 1612h24m-12-12v24M1293.3 1613.7h24m-12-12v24M1294.1 1611.8h24m-12-12v24M1294.9 1614.3h24m-12-12v24M1295.7 1612.4h24m-12-12v24M1296.5 1614.6h24m-12-12v24M1297.4 1615.2h24m-12-12v24M1298.2 1610h24m-12-12v24M1299 1613.5h24m-12-12v24M1299.8 1612h24m-12-12v24M1300.6 1610.9h24m-12-12v24M1301.4 1612h24m-12-12v24M1302.2 1612.5h24m-12-12v24M1303 1614.3h24m-12-12v24M1303.8 1609.5h24m-12-12v24M1304.6 1612.3h24m-12-12v24M1305.4 1612.7h24m-12-12v24M1306.2 1609.5h24m-12-12v24M1307.1 1608.4h24m-12-12v24M1307.9 1606.4h24m-12-12v24M1308.7 1603.6h24m-12-12v24M1309.5 1605h24m-12-12v24M1310.3 1603.5h24m-12-12v24M1311.1 1602.8h24m-12-12v24M1311.9 1604.1h24m-12-12v24M1312.7 1601.6h24m-12-12v24M1313.5 1601.4h24m-12-12v24M1314.3 1603.2h24m-12-12v24M1315.1 1598.8h24m-12-12v24M1315.9 1599h24m-12-12v24M1316.7 1599.9h24m-12-12v24M1317.6 1599.3h24m-12-12v24M1318.4 1601.3h24m-12-12v24M1319.2 1600.3h24m-12-12v24M1320 1604.5h24m-12-12v24M1320.8 1605.8h24m-12-12v24M1321.6 1605.9h24m-12-12v24M1322.4 1605.3h24m-12-12v24M1323.2 1608h24m-12-12v24M1324 1609.3h24m-12-12v24M1324.8 1607.4h24m-12-12v24M1325.6 1610.2h24m-12-12v24M1326.4 1611.3h24m-12-12v24M1327.3 1611h24m-12-12v24M1328.1 1613.3h24m-12-12v24M1328.9 1612.9h24m-12-12v24M1329.7 1610h24m-12-12v24M1330.5 1611.4h24m-12-12v24M1331.3 1610h24m-12-12v24M1332.1 1612.1h24m-12-12v24M1332.9 1609.9h24m-12-12v24M1333.7 1612.5h24m-12-12v24M1334.5 1611.5h24m-12-12v24M1335.3 1612.2h24m-12-12v24M1336.1 1610.3h24m-12-12v24M1336.9 1608h24m-12-12v24M1337.8 1612.4h24m-12-12v24M1338.6 1609h24m-12-12v24M1339.4 1610.7h24m-12-12v24M1340.2 1608.6h24m-12-12v24M1341 1608.2h24m-12-12v24M1341.8 1609.1h24m-12-12v24M1342.6 1606.2h24m-12-12v24M1343.4 1607.2h24m-12-12v24M1344.2 1602.5h24m-12-12v24M1345 1606h24m-12-12v24M1345.8 1604.4h24m-12-12v24M1346.6 1604.7h24m-12-12v24M1347.5 1605h24m-12-12v24M1348.3 1605.3h24m-12-12v24M1349.1 1606.8h24m-12-12v24M1349.9 1600.7h24m-12-12v24M1350.7 1602.4h24m-12-12v24M1351.5 1599.7h24m-12-12v24M1352.3 1600.9h24m-12-12v24M1353.1 1597.1h24m-12-12v24M1353.9 1597.6h24m-12-12v24M1354.7 1596.6h24m-12-12v24M1355.5 1599.4h24m-12-12v24M1356.3 1601.8h24m-12-12v24M1357.1 1601.7h24m-12-12v24M1358 1604.3h24m-12-12v24M1358.8 1603.7h24m-12-12v24M1359.6 1607.7h24m-12-12v24M1360.4 1609.6h24m-12-12v24M1361.2 1608.4h24m-12-12v24M1362 1611.6h24m-12-12v24M1362.8 1607.4h24m-12-12v24M1363.6 1608.1h24m-12-12v24M1364.4 1609.2h24m-12-12v24M1365.2 1610.7h24m-12-12v24M1366 1611.5h24m-12-12v24M1366.8 1611.3h24m-12-12v24M1367.7 1610.9h24m-12-12v24M1368.5 1611.5h24m-12-12v24M1369.3 1608.6h24m-12-12v24M1370.1 1605.6h24m-12-12v24M1370.9 1602.1h24m-12-12v24M1371.7 1603h24m-12-12v24M1372.5 1591.6h24m-12-12v24M1373.3 1589.8h24m-12-12v24M1374.1 1587h24m-12-12v24M1374.9 1580.7h24m-12-12v24M1375.7 1574.8h24m-12-12v24M1376.5 1573.5h24m-12-12v24M1377.3 1575.7h24m-12-12v24M1378.2 1579.7h24m-12-12v24M1379 1581.2h24m-12-12v24M1379.8 1589h24m-12-12v24M1380.6 1593.8h24m-12-12v24M1381.4 1600.3h24m-12-12v24M1382.2 1605.6h24m-12-12v24M1383 1607.2h24m-12-12v24M1383.8 1607.8h24m-12-12v24M1384.6 1612.1h24m-12-12v24M1385.4 1615.4h24m-12-12v24M1386.2 1614.5h24m-12-12v24M1387 1614.3h24m-12-12v24M1387.9 1617.9h24m-12-12v24M1388.7 1612.9h24m-12-12v24M1389.5 1615.8h24m-12-12v24M1390.3 1613.6h24m-12-12v24M1391.1 1614.4h24m-12-12v24M1391.9 1614.4h24m-12-12v24M1392.7 1616.4h24m-12-12v24M1393.5 1612.5h24m-12-12v24M1394.3 1612.9h24m-12-12v24M1395.1 1611.1h24m-12-12v24M1395.9 1614h24m-12-12v24M1396.7 1612.2h24m-12-12v24M1397.5 1613.1h24m-12-12v24M1398.4 1610.3h24m-12-12v24M1399.2 1610.7h24m-12-12v24M1400 1611.8h24m-12-12v24M1400.8 1608.6h24m-12-12v24M1401.6 1607.8h24m-12-12v24M1402.4 1604.9h24m-12-12v24M1403.2 1599.7h24m-12-12v24M1404 1592.5h24m-12-12v24M1404.8 1589.4h24m-12-12v24M1405.6 1579.5h24m-12-12v24M1406.4 1571.8h24m-12-12v24M1407.2 1558.4h24m-12-12v24M1408.1 1549.7h24m-12-12v24M1408.9 1540.6h24m-12-12v24M1409.7 1536.7h24m-12-12v24M1410.5 1538.1h24m-12-12v24M1411.3 1539.5h24m-12-12v24M1412.1 1542.4h24m-12-12v24M1412.9 1550h24m-12-12v24M1413.7 1560h24m-12-12v24M1414.5 1567.6h24m-12-12v24M1415.3 1577.1h24m-12-12v24M1416.1 1584.1h24m-12-12v24M1416.9 1588.3h24m-12-12v24M1417.7 1597h24m-12-12v24M1418.6 1604h24m-12-12v24M1419.4 1604.6h24m-12-12v24M1420.2 1607.1h24m-12-12v24M1421 1607.8h24m-12-12v24M1421.8 1608.9h24m-12-12v24M1422.6 1611.7h24m-12-12v24M1423.4 1609.8h24m-12-12v24M1424.2 1608.6h24m-12-12v24M1425 1605.1h24m-12-12v24M1425.8 1608.3h24m-12-12v24M1426.6 1605.3h24m-12-12v24M1427.4 1604.5h24m-12-12v24M1428.3 1607.2h24m-12-12v24M1429.1 1605.9h24m-12-12v24M1429.9 1600.9h24m-12-12v24M1430.7 1604.4h24m-12-12v24M1431.5 1603.7h24m-12-12v24M1432.3 1602.5h24m-12-12v24M1433.1 1605.9h24m-12-12v24M1433.9 1603.7h24m-12-12v24M1434.7 1605.7h24m-12-12v24M1435.5 1606.6h24m-12-12v24M1436.3 1608.2h24m-12-12v24M1437.1 1612.1h24m-12-12v24M1437.9 1609.4h24m-12-12v24M1438.8 1610.2h24m-12-12v24M1439.6 1610.9h24m-12-12v24M1440.4 1612.9h24m-12-12v24M1441.2 1612.2h24m-12-12v24M1442 1614h24m-12-12v24M1442.8 1611.6h24m-12-12v24M1443.6 1610.5h24m-12-12v24M1444.4 1611.2h24m-12-12v24M1445.2 1611.3h24m-12-12v24M1446 1608.7h24m-12-12v24M1446.8 1608.9h24m-12-12v24M1447.6 1608.8h24m-12-12v24M1448.5 1602.1h24m-12-12v24M1449.3 1599.1h24m-12-12v24M1450.1 1596.5h24m-12-12v24M1450.9 1588.5h24m-12-12v24M1451.7 1583.1h24m-12-12v24M1452.5 1578.3h24m-12-12v24M1453.3 1577.2h24m-12-12v24M1454.1 1575.8h24m-12-12v24M1454.9 1575.3h24m-12-12v24M1455.7 1578.1h24m-12-12v24M1456.5 1583.9h24m-12-12v24M1457.3 1588.1h24m-12-12v24M1458.1 1589.7h24m-12-12v24M1459 1596.6h24m-12-12v24M1459.8 1601h24m-12-12v24M1460.6 1605.4h24m-12-12v24M1461.4 1606.7h24m-12-12v24M1462.2 1608h24m-12-12v24M1463 1609.6h24m-12-12v24M1463.8 1608.5h24m-12-12v24M1464.6 1611.7h24m-12-12v24M1465.4 1611.2h24m-12-12v24M1466.2 1613h24m-12-12v24M1467 1610.8h24m-12-12v24M1467.8 1611.8h24m-12-12v24M1468.7 1611h24m-12-12v24M1469.5 1610.9h24m-12-12v24M1470.3 1613.5h24m-12-12v24M1471.1 1611.7h24m-12-12v24M1471.9 1613.1h24m-12-12v24M1472.7 1610.7h24m-12-12v24M1473.5 1612.5h24m-12-12v24M1474.3 1609.8h24m-12-12v24M1475.1 1611.6h24m-12-12v24M1475.9 1611.5h24m-12-12v24M1476.7 1613h24m-12-12v24M1477.5 1612.4h24m-12-12v24M1478.3 1611.8h24m-12-12v24M1479.2 1613.2h24m-12-12v24M1480 1612.2h24m-12-12v24M1480.8 1612.7h24m-12-12v24M1481.6 1612.9h24m-12-12v24M1482.4 1611.6h24m-12-12v24M1483.2 1611.2h24m-12-12v24M1484 1612h24m-12-12v24M1484.8 1610.8h24m-12-12v24M1485.6 1611.9h24m-12-12v24M1486.4 1612.9h24m-12-12v24M1487.2 1612.4h24m-12-12v24M1488 1610.4h24m-12-12v24M1488.9 1608.2h24m-12-12v24M1489.7 1609.2h24m-12-12v24M1490.5 1608.2h24m-12-12v24M1491.3 1609.2h24m-12-12v24M1492.1 1606.1h24m-12-12v24M1492.9 1605.4h24m-12-12v24M1493.7 1605.9h24m-12-12v24M1494.5 1603.1h24m-12-12v24M1495.3 1602.6h24m-12-12v24M1496.1 1605.5h24m-12-12v24M1496.9 1605.9h24m-12-12v24M1497.7 1605.3h24m-12-12v24M1498.5 1605.4h24m-12-12v24M1499.4 1604h24m-12-12v24M1500.2 1606.6h24m-12-12v24M1501 1606h24m-12-12v24M1501.8 1606.2h24m-12-12v24M1502.6 1604h24m-12-12v24M1503.4 1603h24m-12-12v24M1504.2 1600.7h24m-12-12v24M1505 1599.3h24m-12-12v24M1505.8 1598.8h24m-12-12v24M1506.6 1595.8h24m-12-12v24M1507.4 1592.4h24m-12-12v24M1508.2 1594.3h24m-12-12v24M1509.1 1595.2h24m-12-12v24M1509.9 1598.6h24m-12-12v24M1510.7 1602.8h24m-12-12v24M1511.5 1604.6h24m-12-12v24M1512.3 1604.7h24m-12-12v24M1513.1 1607.3h24m-12-12v24M1513.9 1606.8h24m-12-12v24M1514.7 1606.7h24m-12-12v24M1515.5 1607.3h24m-12-12v24M1516.3 1608.6h24m-12-12v24M1517.1 1612.4h24m-12-12v24M1517.9 1608.6h24m-12-12v24M1518.7 1612.6h24m-12-12v24M1519.6 1612.9h24m-12-12v24M1520.4 1610.7h24m-12-12v24M1521.2 1610.8h24m-12-12v24M1522 1609.9h24m-12-12v24M1522.8 1610.6h24m-12-12v24M1523.6 1611.4h24m-12-12v24M1524.4 1610.1h24m-12-12v24M1525.2 1611.2h24m-12-12v24M1526 1611h24m-12-12v24M1526.8 1609.1h24m-12-12v24M1527.6 1608.2h24m-12-12v24M1528.4 1606.5h24m-12-12v24M1529.3 1605.8h24m-12-12v24M1530.1 1601.8h24m-12-12v24M1530.9 1601.7h24m-12-12v24M1531.7 1598.3h24m-12-12v24M1532.5 1592.8h24m-12-12v24M1533.3 1592.2h24m-12-12v24M1534.1 1581.2h24m-12-12v24M1534.9 1573.7h24m-12-12v24M1535.7 1566.4h24m-12-12v24M1536.5 1553.3h24m-12-12v24M1537.3 1545.3h24m-12-12v24M1538.1 1536.6h24m-12-12v24M1538.9 1533.9h24m-12-12v24M1539.8 1537h24m-12-12v24M1540.6 1544.2h24m-12-12v24M1541.4 1554.7h24m-12-12v24M1542.2 1564.4h24m-12-12v24M1543 1574.5h24m-12-12v24M1543.8 1582.1h24m-12-12v24M1544.6 1587.5h24m-12-12v24M1545.4 1595.6h24m-12-12v24M1546.2 1597.8h24m-12-12v24M1547 1601.2h24m-12-12v24M1547.8 1607.2h24m-12-12v24M1548.6 1608.3h24m-12-12v24M1549.5 1609.2h24m-12-12v24M1550.3 1611.3h24m-12-12v24M1551.1 1612.6h24m-12-12v24M1551.9 1610.2h24m-12-12v24M1552.7 1612.8h24m-12-12v24M1553.5 1611.8h24m-12-12v24M1554.3 1614.2h24m-12-12v24M1555.1 1613.4h24m-12-12v24M1555.9 1616.7h24m-12-12v24M1556.7 1615.6h24m-12-12v24M1557.5 1613.7h24m-12-12v24M1558.3 1614.7h24m-12-12v24M1559.1 1612.5h24m-12-12v24M1560 1613.6h24m-12-12v24M1560.8 1612.9h24m-12-12v24M1561.6 1610.3h24m-12-12v24M1562.4 1603.8h24m-12-12v24M1563.2 1601.4h24m-12-12v24M1564 1595.5h24m-12-12v24M1564.8 1586.4h24m-12-12v24M1565.6 1577.2h24m-12-12v24M1566.4 1561.8h24m-12-12v24M1567.2 1552.4h24m-12-12v24M1568 1539.2h24m-12-12v24M1568.8 1531.4h24m-12-12v24M1569.7 1526.4h24m-12-12v24M1570.5 1526.5h24m-12-12v24M1571.3 1529.9h24m-12-12v24M1572.1 1541.3h24m-12-12v24M1572.9 1551.6h24m-12-12v24M1573.7 1564.1h24m-12-12v24M1574.5 1579.2h24m-12-12v24M1575.3 1589.3h24m-12-12v24M1576.1 1596.2h24m-12-12v24M1576.9 1605h24m-12-12v24M1577.7 1612.3h24m-12-12v24M1578.5 1618.5h24m-12-12v24M1579.3 1620.3h24m-12-12v24M1580.2 1621.7h24m-12-12v24M1581 1619.1h24m-12-12v24M1581.8 1622.5h24m-12-12v24M1582.6 1624.1h24m-12-12v24M1583.4 1624.6h24m-12-12v24M1584.2 1625.1h24m-12-12v24M1585 1624.5h24m-12-12v24M1585.8 1627.9h24m-12-12v24M1586.6 1627.8h24m-12-12v24M1587.4 1625.7h24m-12-12v24M1588.2 1624.6h24m-12-12v24M1589 1629.3h24m-12-12v24M1589.9 1625.6h24m-12-12v24M1590.7 1628.3h24m-12-12v24M1591.5 1629.4h24m-12-12v24M1592.3 1625.2h24m-12-12v24M1593.1 1627.1h24m-12-12v24M1593.9 1626.2h24m-12-12v24M1594.7 1627.5h24m-12-12v24M1595.5 1627.2h24m-12-12v24M1596.3 1629.5h24m-12-12v24M1597.1 1627.4h24m-12-12v24M1597.9 1626.2h24m-12-12v24M1598.7 1627.6h24m-12-12v24M1599.5 1624.8h24m-12-12v24M1600.4 1623.7h24m-12-12v24M1601.2 1626.1h24m-12-12v24M1602 1619.3h24m-12-12v24M1602.8 1616.5h24m-12-12v24M1603.6 1612.9h24m-12-12v24M1604.4 1605.5h24m-12-12v24M1605.2 1597h24m-12-12v24M1606 1593.7h24m-12-12v24M1606.8 1582.6h24m-12-12v24M1607.6 1574.8h24m-12-12v24M1608.4 1568h24m-12-12v24M1609.2 1561.9h24m-12-12v24M1610.1 1559.2h24m-12-12v24M1610.9 1561.2h24m-12-12v24M1611.7 1567.2h24m-12-12v24M1612.5 1569.3h24m-12-12v24M1613.3 1574.9h24m-12-12v24M1614.1 1577.3h24m-12-12v24M1614.9 1584.9h24m-12-12v24M1615.7 1587.7h24m-12-12v24M1616.5 1594h24m-12-12v24M1617.3 1594.7h24m-12-12v24M1618.1 1596.4h24m-12-12v24M1618.9 1596.8h24m-12-12v24M1619.7 1596.3h24m-12-12v24M1620.6 1594.9h24m-12-12v24M1621.4 1598.1h24m-12-12v24M1622.2 1595.4h24m-12-12v24M1623 1596.1h24m-12-12v24M1623.8 1598.1h24m-12-12v24M1624.6 1598.5h24m-12-12v24M1625.4 1601.2h24m-12-12v24M1626.2 1603.7h24m-12-12v24M1627 1604.2h24m-12-12v24M1627.8 1605.8h24m-12-12v24M1628.6 1607.4h24m-12-12v24M1629.4 1610.5h24m-12-12v24M1630.3 1608.3h24m-12-12v24M1631.1 1613.4h24m-12-12v24M1631.9 1613.3h24m-12-12v24M1632.7 1614.5h24m-12-12v24M1633.5 1618h24m-12-12v24M1634.3 1619h24m-12-12v24M1635.1 1621.9h24m-12-12v24M1635.9 1624h24m-12-12v24M1636.7 1620h24m-12-12v24M1637.5 1624.5h24m-12-12v24M1638.3 1628.5h24m-12-12v24M1639.1 1627.7h24m-12-12v24M1639.9 1629.3h24m-12-12v24M1640.8 1627.9h24m-12-12v24M1641.6 1626.2h24m-12-12v24M1642.4 1627.2h24m-12-12v24M1643.2 1630.4h24m-12-12v24M1644 1631.1h24m-12-12v24M1644.8 1628.9h24m-12-12v24M1645.6 1629.8h24m-12-12v24M1646.4 1630.9h24m-12-12v24M1647.2 1628.1h24m-12-12v24M1648 1630.3h24m-12-12v24M1648.8 1633.4h24m-12-12v24M1649.6 1634.4h24m-12-12v24M1650.5 1631.1h24m-12-12v24M1651.3 1634.1h24m-12-12v24M1652.1 1630.7h24m-12-12v24M1652.9 1630.3h24m-12-12v24M1653.7 1628.3h24m-12-12v24M1654.5 1633.1h24m-12-12v24M1655.3 1631.2h24m-12-12v24M1656.1 1635.3h24m-12-12v24M1656.9 1632.4h24m-12-12v24M1657.7 1632.2h24m-12-12v24M1658.5 1629.3h24m-12-12v24M1659.3 1634.3h24m-12-12v24M1660.1 1631.5h24m-12-12v24M1661 1631.9h24m-12-12v24M1661.8 1628.8h24m-12-12v24M1662.6 1633.6h24m-12-12v24M1663.4 1633.7h24m-12-12v24M1664.2 1631.3h24m-12-12v24M1665 1632.4h24m-12-12v24M1665.8 1632.8h24m-12-12v24M1666.6 1633.6h24m-12-12v24M1667.4 1632.3h24m-12-12v24M1668.2 1634.7h24m-12-12v24M1669 1631.6h24m-12-12v24M1669.8 1630.9h24m-12-12v24M1670.7 1630.9h24m-12-12v24M1671.5 1627.5h24m-12-12v24M1672.3 1629.7h24m-12-12v24M1673.1 1631.9h24m-12-12v24M1673.9 1630h24m-12-12v24M1674.7 1627.5h24m-12-12v24M1675.5 1628.2h24m-12-12v24M1676.3 1623.2h24m-12-12v24M1677.1 1624.2h24m-12-12v24M1677.9 1623.5h24m-12-12v24M1678.7 1621.6h24m-12-12v24M1679.5 1616.9h24m-12-12v24M1680.3 1616.7h24m-12-12v24M1681.2 1615.3h24m-12-12v24M1682 1608.7h24m-12-12v24M1682.8 1607.3h24m-12-12v24M1683.6 1600.8h24m-12-12v24M1684.4 1597.1h24m-12-12v24M1685.2 1598.2h24m-12-12v24M1686 1594.9h24m-12-12v24M1686.8 1593.1h24m-12-12v24M1687.6 1590.4h24m-12-12v24M1688.4 1589.9h24m-12-12v24M1689.2 1591.1h24m-12-12v24M1690 1592.8h24m-12-12v24M1690.9 1592.3h24m-12-12v24M1691.7 1593.1h24m-12-12v24M1692.5 1601h24m-12-12v24M1693.3 1603.8h24m-12-12v24M1694.1 1608h24m-12-12v24M1694.9 1611.5h24m-12-12v24M1695.7 1619h24m-12-12v24M1696.5 1617.8h24m-12-12v24M1697.3 1619.4h24m-12-12v24M1698.1 1616.4h24m-12-12v24M1698.9 1618.7h24m-12-12v24M1699.7 1618.5h24m-12-12v24M1700.5 1619.1h24m-12-12v24M1701.4 1618.8h24m-12-12v24M1702.2 1616.3h24m-12-12v24M1703 1620h24m-12-12v24M1703.8 1615.5h24m-12-12v24M1704.6 1615.7h24m-12-12v24M1705.4 1615.7h24m-12-12v24M1706.2 1612.2h24m-12-12v24M1707 1613.4h24m-12-12v24M1707.8 1611.9h24m-12-12v24M1708.6 1608.8h24m-12-12v24M1709.4 1610.4h24m-12-12v24M1710.2 1606.2h24m-12-12v24M1711.1 1605.2h24m-12-12v24M1711.9 1602.6h24m-12-12v24M1712.7 1601.2h24m-12-12v24M1713.5 1603h24m-12-12v24M1714.3 1604.2h24m-12-12v24M1715.1 1605.1h24m-12-12v24M1715.9 1608.5h24m-12-12v24M1716.7 1605.4h24m-12-12v24M1717.5 1609.1h24m-12-12v24M1718.3 1609.9h24m-12-12v24M1719.1 1616.5h24m-12-12v24M1719.9 1615.3h24m-12-12v24M1720.7 1617h24m-12-12v24M1721.6 1617.5h24m-12-12v24M1722.4 1621.8h24m-12-12v24M1723.2 1621h24m-12-12v24M1724 1623h24m-12-12v24M1724.8 1620.6h24m-12-12v24M1725.6 1626.2h24m-12-12v24M1726.4 1625.7h24m-12-12v24M1727.2 1626.5h24m-12-12v24M1728 1628h24m-12-12v24M1728.8 1626.3h24m-12-12v24M1729.6 1626.7h24m-12-12v24M1730.4 1628.3h24m-12-12v24M1731.3 1628.1h24m-12-12v24M1732.1 1627.3h24m-12-12v24M1732.9 1627.9h24m-12-12v24M1733.7 1627.2h24m-12-12v24M1734.5 1629.1h24m-12-12v24M1735.3 1629.4h24m-12-12v24M1736.1 1628h24m-12-12v24M1736.9 1630.8h24m-12-12v24M1737.7 1625.6h24m-12-12v24M1738.5 1627.4h24m-12-12v24M1739.3 1630.2h24m-12-12v24M1740.1 1626.8h24m-12-12v24M1740.9 1624.8h24m-12-12v24M1741.8 1629h24m-12-12v24M1742.6 1627.4h24m-12-12v24M1743.4 1624.3h24m-12-12v24M1744.2 1626.8h24m-12-12v24M1745 1623.6h24m-12-12v24M1745.8 1622.5h24m-12-12v24M1746.6 1623.6h24m-12-12v24M1747.4 1622.4h24m-12-12v24M1748.2 1620.2h24m-12-12v24M1749 1618.5h24m-12-12v24M1749.8 1614.8h24m-12-12v24M1750.6 1613.7h24m-12-12v24M1751.5 1610.9h24m-12-12v24M1752.3 1609.6h24m-12-12v24M1753.1 1605.5h24m-12-12v24M1753.9 1602h24m-12-12v24M1754.7 1604.5h24m-12-12v24M1755.5 1609h24m-12-12v24M1756.3 1614.6h24m-12-12v24M1757.1 1616.6h24m-12-12v24M1757.9 1617.5h24m-12-12v24M1758.7 1623h24m-12-12v24M1759.5 1621.3h24m-12-12v24M1760.3 1625.1h24m-12-12v24M1761.1 1623.5h24m-12-12v24M1762 1625.6h24m-12-12v24M1762.8 1625.6h24m-12-12v24M1763.6 1624.5h24m-12-12v24M1764.4 1625.4h24m-12-12v24M1765.2 1623.3h24m-12-12v24M1766 1624.7h24m-12-12v24M1766.8 1626.3h24m-12-12v24M1767.6 1630.5h24m-12-12v24M1768.4 1625.1h24m-12-12v24M1769.2 1623.8h24m-12-12v24M1770 1621.8h24m-12-12v24M1770.8 1624.6h24m-12-12v24M1771.7 1620.2h24m-12-12v24M1772.5 1621.3h24m-12-12v24M1773.3 1623.1h24m-12-12v24M1774.1 1620.8h24m-12-12v24M1774.9 1625.2h24m-12-12v24M1775.7 1624.9h24m-12-12v24M1776.5 1622.9h24m-12-12v24M1777.3 1623.5h24m-12-12v24M1778.1 1622.9h24m-12-12v24M1778.9 1623.4h24m-12-12v24M1779.7 1626.7h24m-12-12v24M1780.5 1627.6h24m-12-12v24M1781.3 1627.7h24m-12-12v24M1782.2 1628h24m-12-12v24M1783 1627.2h24m-12-12v24M1783.8 1629h24m-12-12v24M1784.6 1626.6h24m-12-12v24M1785.4 1629.1h24m-12-12v24M1786.2 1631.5h24m-12-12v24M1787 1631.4h24m-12-12v24M1787.8 1628.8h24m-12-12v24M1788.6 1629.1h24m-12-12v24M1789.4 1631.7h24m-12-12v24M1790.2 1632.3h24m-12-12v24M1791 1627.3h24m-12-12v24M1791.9 1628.8h24m-12-12v24M1792.7 1629.6h24m-12-12v24M1793.5 1630.8h24m-12-12v24M1794.3 1627.4h24m-12-12v24M1795.1 1629.2h24m-12-12v24M1795.9 1627.3h24m-12-12v24M1796.7 1630.8h24m-12-12v24M1797.5 1626.3h24m-12-12v24M1798.3 1623.3h24m-12-12v24M1799.1 1620.7h24m-12-12v24M1799.9 1620.4h24m-12-12v24M1800.7 1617.3h24m-12-12v24M1801.5 1612h24m-12-12v24M1802.4 1611.1h24m-12-12v24M1803.2 1607.2h24m-12-12v24M1804 1608.1h24m-12-12v24M1804.8 1607.3h24m-12-12v24M1805.6 1607.2h24m-12-12v24M1806.4 1608.2h24m-12-12v24M1807.2 1608h24m-12-12v24M1808 1610.7h24m-12-12v24M1808.8 1610.5h24m-12-12v24M1809.6 1608.6h24m-12-12v24M1810.4 1607.4h24m-12-12v24M1811.2 1610.8h24m-12-12v24M1812.1 1607.4h24m-12-12v24M1812.9 1608.6h24m-12-12v24M1813.7 1613.8h24m-12-12v24M1814.5 1614.9h24m-12-12v24M1815.3 1616.5h24m-12-12v24M1816.1 1615.6h24m-12-12v24M1816.9 1614.9h24m-12-12v24M1817.7 1616.7h24m-12-12v24M1818.5 1618.7h24m-12-12v24M1819.3 1616.9h24m-12-12v24M1820.1 1617h24m-12-12v24M1820.9 1615.9h24m-12-12v24M1821.7 1616h24m-12-12v24M1822.6 1618.6h24m-12-12v24M1823.4 1617.6h24m-12-12v24M1824.2 1614.8h24m-12-12v24M1825 1614.6h24m-12-12v24M1825.8 1615.1h24m-12-12v24M1826.6 1616.6h24m-12-12v24M1827.4 1614.2h24m-12-12v24M1828.2 1616h24m-12-12v24M1829 1613.5h24m-12-12v24M1829.8 1615.6h24m-12-12v24M1830.6 1619h24m-12-12v24M1831.4 1620.8h24m-12-12v24M1832.3 1618.8h24m-12-12v24M1833.1 1620.6h24m-12-12v24M1833.9 1624.2h24m-12-12v24M1834.7 1623.6h24m-12-12v24M1835.5 1624.5h24m-12-12v24M1836.3 1627.3h24m-12-12v24M1837.1 1627.8h24m-12-12v24M1837.9 1630.1h24m-12-12v24M1838.7 1630.3h24m-12-12v24M1839.5 1628.8h24m-12-12v24M1840.3 1630h24m-12-12v24M1841.1 1630.5h24m-12-12v24M1841.9 1628.8h24m-12-12v24M1842.8 1629.6h24m-12-12v24M1843.6 1632.7h24m-12-12v24M1844.4 1628.9h24m-12-12v24M1845.2 1632.8h24m-12-12v24M1846 1631.8h24m-12-12v24M1846.8 1631.1h24m-12-12v24M1847.6 1632h24m-12-12v24M1848.4 1631.9h24m-12-12v24M1849.2 1632.9h24m-12-12v24M1850 1630.3h24m-12-12v24M1850.8 1630.5h24m-12-12v24M1851.6 1630.3h24m-12-12v24M1852.5 1633.4h24m-12-12v24M1853.3 1631.8h24m-12-12v24M1854.1 1628.9h24m-12-12v24M1854.9 1629.6h24m-12-12v24M1855.7 1628.9h24m-12-12v24M1856.5 1629.8h24m-12-12v24M1857.3 1629.9h24m-12-12v24M1858.1 1632.9h24m-12-12v24M1858.9 1626.5h24m-12-12v24M1859.7 1630.6h24m-12-12v24M1860.5 1629.5h24m-12-12v24M1861.3 1627.6h24m-12-12v24M1862.1 1628.3h24m-12-12v24M1863 1627.6h24m-12-12v24M1863.8 1628.2h24m-12-12v24M1864.6 1629.4h24m-12-12v24M1865.4 1625.4h24m-12-12v24M1866.2 1629.5h24m-12-12v24M1867 1626.7h24m-12-12v24M1867.8 1629.3h24m-12-12v24M1868.6 1627.5h24m-12-12v24M1869.4 1628.5h24m-12-12v24M1870.2 1627.2h24m-12-12v24M1871 1627.8h24m-12-12v24M1871.8 1626h24m-12-12v24M1872.7 1624.4h24m-12-12v24M1873.5 1626.4h24m-12-12v24M1874.3 1626.2h24m-12-12v24M1875.1 1628h24m-12-12v24M1875.9 1621.5h24m-12-12v24M1876.7 1623.9h24m-12-12v24M1877.5 1625.5h24m-12-12v24M1878.3 1621.7h24m-12-12v24M1879.1 1622.9h24m-12-12v24M1879.9 1626.1h24m-12-12v24M1880.7 1624.6h24m-12-12v24M1881.5 1620.8h24m-12-12v24M1882.3 1623.8h24m-12-12v24M1883.2 1623h24m-12-12v24M1884 1621.9h24m-12-12v24M1884.8 1620.8h24m-12-12v24M1885.6 1620.1h24m-12-12v24M1886.4 1617.8h24m-12-12v24M1887.2 1617.7h24m-12-12v24M1888 1618.9h24m-12-12v24M1888.8 1617.4h24m-12-12v24M1889.6 1619.2h24m-12-12v24M1890.4 1615.1h24m-12-12v24M1891.2 1611.1h24m-12-12v24M1892 1613.3h24m-12-12v24M1892.9 1613.1h24m-12-12v24M1893.7 1612h24m-12-12v24M1894.5 1610.2h24m-12-12v24M1895.3 1607.4h24m-12-12v24M1896.1 1609.2h24m-12-12v24M1896.9 1604.3h24m-12-12v24M1897.7 1604.5h24m-12-12v24M1898.5 1601.1h24m-12-12v24M1899.3 1597.8h24m-12-12v24M1900.1 1599.9h24m-12-12v24M1900.9 1592.5h24m-12-12v24M1901.7 1593.7h24m-12-12v24M1902.5 1594.8h24m-12-12v24M1903.4 1593.3h24m-12-12v24M1904.2 1595.3h24m-12-12v24M1905 1594.7h24m-12-12v24M1905.8 1595.4h24m-12-12v24M1906.6 1600.8h24m-12-12v24M1907.4 1598.9h24m-12-12v24M1908.2 1600.8h24m-12-12v24M1909 1601.2h24m-12-12v24M1909.8 1603.4h24m-12-12v24M1910.6 1607h24m-12-12v24M1911.4 1608.4h24m-12-12v24M1912.2 1608.8h24m-12-12v24M1913.1 1609h24m-12-12v24M1913.9 1612.1h24m-12-12v24M1914.7 1609.5h24m-12-12v24M1915.5 1612.3h24m-12-12v24M1916.3 1613.2h24m-12-12v24M1917.1 1612.9h24m-12-12v24M1917.9 1615h24m-12-12v24M1918.7 1614.2h24m-12-12v24M1919.5 1614.5h24m-12-12v24M1920.3 1618.7h24m-12-12v24M1921.1 1617.5h24m-12-12v24M1921.9 1618.4h24m-12-12v24M1922.7 1617h24m-12-12v24M1923.6 1618.5h24m-12-12v24M1924.4 1618.4h24m-12-12v24M1925.2 1619.2h24m-12-12v24M1926 1621.1h24m-12-12v24M1926.8 1617.3h24m-12-12v24M1927.6 1618.1h24m-12-12v24M1928.4 1617.7h24m-12-12v24M1929.2 1612.5h24m-12-12v24M1930 1615.7h24m-12-12v24M1930.8 1617.8h24m-12-12v24M1931.6 1618.7h24m-12-12v24M1932.4 1616.8h24m-12-12v24M1933.3 1619.3h24m-12-12v24M1934.1 1619.4h24m-12-12v24M1934.9 1616.7h24m-12-12v24M1935.7 1619.3h24m-12-12v24M1936.5 1619.7h24m-12-12v24M1937.3 1617.5h24m-12-12v24M1938.1 1615.2h24m-12-12v24M1938.9 1618.8h24m-12-12v24M1939.7 1616.3h24m-12-12v24M1940.5 1615.8h24m-12-12v24M1941.3 1616.4h24m-12-12v24M1942.1 1615.2h24m-12-12v24M1942.9 1617.3h24m-12-12v24M1943.8 1616.5h24m-12-12v24M1944.6 1616.8h24m-12-12v24M1945.4 1615.5h24m-12-12v24M1946.2 1612.9h24m-12-12v24M1947 1613.4h24m-12-12v24M1947.8 1614.6h24m-12-12v24M1948.6 1612.3h24m-12-12v24M1949.4 1617h24m-12-12v24M1950.2 1612.2h24m-12-12v24M1951 1611.8h24m-12-12v24M1951.8 1614.7h24m-12-12v24M1952.6 1614.5h24m-12-12v24M1953.5 1614h24m-12-12v24M1954.3 1614.5h24m-12-12v24M1955.1 1616.3h24m-12-12v24M1955.9 1617.7h24m-12-12v24M1956.7 1618.5h24m-12-12v24M1957.5 1617.7h24m-12-12v24M1958.3 1619.5h24m-12-12v24M1959.1 1620.9h24m-12-12v24M1959.9 1621.4h24m-12-12v24M1960.7 1616.2h24m-12-12v24M1961.5 1620.1h24m-12-12v24M1962.3 1620.8h24m-12-12v24M1963.1 1622.1h24m-12-12v24M1964 1623.2h24m-12-12v24M1964.8 1624.7h24m-12-12v24M1965.6 1624.6h24m-12-12v24M1966.4 1623.9h24m-12-12v24M1967.2 1624.1h24m-12-12v24M1968 1625.9h24m-12-12v24M1968.8 1621.4h24m-12-12v24M1969.6 1621.9h24m-12-12v24M1970.4 1622.8h24m-12-12v24M1971.2 1620h24m-12-12v24M1972 1615.5h24m-12-12v24M1972.8 1619.4h24m-12-12v24M1973.7 1619.6h24m-12-12v24M1974.5 1621.3h24m-12-12v24M1975.3 1624.3h24m-12-12v24M1976.1 1624.7h24m-12-12v24M1976.9 1624.8h24m-12-12v24M1977.7 1627.7h24m-12-12v24M1978.5 1627.5h24m-12-12v24M1979.3 1626.9h24m-12-12v24M1980.1 1627.1h24m-12-12v24M1980.9 1626.8h24m-12-12v24M1981.7 1625.6h24m-12-12v24M1982.5 1625.1h24m-12-12v24M1983.3 1625.5h24m-12-12v24M1984.2 1623.5h24m-12-12v24M1985 1622.6h24m-12-12v24M1985.8 1625.9h24m-12-12v24M1986.6 1623h24m-12-12v24M1987.4 1622.8h24m-12-12v24M1988.2 1622h24m-12-12v24M1989 1621.8h24m-12-12v24M1989.8 1621.3h24m-12-12v24M1990.6 1621h24m-12-12v24M1991.4 1619.5h24m-12-12v24M1992.2 1622.1h24m-12-12v24M1993 1619.8h24m-12-12v24M1993.9 1622.6h24m-12-12v24M1994.7 1618.7h24m-12-12v24M1995.5 1620.5h24m-12-12v24M1996.3 1624.4h24m-12-12v24M1997.1 1623.5h24m-12-12v24M1997.9 1623.6h24m-12-12v24M1998.7 1626.1h24m-12-12v24M1999.5 1624.9h24m-12-12v24M2000.3 1627.5h24m-12-12v24M2001.1 1625h24m-12-12v24M2001.9 1628.5h24m-12-12v24M2002.7 1629h24m-12-12v24M2003.5 1631.5h24m-12-12v24M2004.4 1632.7h24m-12-12v24M2005.2 1630.8h24m-12-12v24M2006 1635h24m-12-12v24M2006.8 1632.2h24m-12-12v24M2007.6 1630.5h24m-12-12v24M2008.4 1630.4h24m-12-12v24M2009.2 1636.7h24m-12-12v24M2010 1634.6h24m-12-12v24M2010.8 1634h24m-12-12v24M2011.6 1634.2h24m-12-12v24M2012.4 1633.9h24m-12-12v24M2013.2 1637.8h24m-12-12v24M2014.1 1635.9h24m-12-12v24M2014.9 1638.9h24m-12-12v24M2015.7 1636.1h24m-12-12v24M2016.5 1633.1h24m-12-12v24M2017.3 1638.1h24m-12-12v24M2018.1 1636.4h24m-12-12v24M2018.9 1636.8h24m-12-12v24M2019.7 1639.7h24m-12-12v24M2020.5 1637.1h24m-12-12v24M2021.3 1639.4h24m-12-12v24M2022.1 1637.9h24m-12-12v24M2022.9 1636.9h24m-12-12v24M2023.7 1639h24m-12-12v24M2024.6 1637.5h24m-12-12v24M2025.4 1640.4h24m-12-12v24M2026.2 1640.2h24m-12-12v24M2027 1639h24m-12-12v24M2027.8 1640h24m-12-12v24M2028.6 1640h24m-12-12v24M2029.4 1639h24m-12-12v24M2030.2 1640.9h24m-12-12v24M2031 1639.3h24m-12-12v24M2031.8 1640.8h24m-12-12v24M2032.6 1638.6h24m-12-12v24M2033.4 1640.3h24m-12-12v24M2034.3 1640.9h24m-12-12v24M2035.1 1639.3h24m-12-12v24M2035.9 1640h24m-12-12v24M2036.7 1639.9h24m-12-12v24M2037.5 1642h24m-12-12v24M2038.3 1639.9h24m-12-12v24M2039.1 1641.6h24m-12-12v24M2039.9 1643.2h24m-12-12v24M2040.7 1641.5h24m-12-12v24M2041.5 1638.5h24m-12-12v24M2042.3 1641.1h24m-12-12v24M2043.1 1642.4h24m-12-12v24M2043.9 1640.4h24m-12-12v24M2044.8 1642.4h24m-12-12v24M2045.6 1641.7h24m-12-12v24M2046.4 1641.3h24m-12-12v24M2047.2 1640.2h24m-12-12v24M2048 1639.8h24m-12-12v24M2048.8 1640.1h24m-12-12v24M2049.6 1640.5h24m-12-12v24M2050.4 1641.2h24m-12-12v24M2051.2 1640.9h24m-12-12v24M2052 1639.7h24m-12-12v24M2052.8 1640.2h24m-12-12v24M2053.6 1640.5h24m-12-12v24M2054.5 1637.4h24m-12-12v24M2055.3 1638.5h24m-12-12v24M2056.1 1638.3h24m-12-12v24M2056.9 1639h24m-12-12v24M2057.7 1638.7h24m-12-12v24M2058.5 1638.4h24m-12-12v24M2059.3 1637.2h24m-12-12v24M2060.1 1639.2h24m-12-12v24M2060.9 1638.2h24m-12-12v24M2061.7 1634.9h24m-12-12v24M2062.5 1637h24m-12-12v24M2063.3 1634.7h24m-12-12v24M2064.1 1638.4h24m-12-12v24M2065 1634.5h24m-12-12v24M2065.8 1633.8h24m-12-12v24M2066.6 1633.8h24m-12-12v24M2067.4 1632.5h24m-12-12v24M2068.2 1631.8h24m-12-12v24M2069 1633.3h24m-12-12v24M2069.8 1630.4h24m-12-12v24M2070.6 1630.4h24m-12-12v24M2071.4 1630h24m-12-12v24M2072.2 1626.1h24m-12-12v24M2073 1629.6h24m-12-12v24M2073.8 1627.7h24m-12-12v24M2074.7 1627.9h24m-12-12v24M2075.5 1625.1h24m-12-12v24M2076.3 1627.7h24m-12-12v24M2077.1 1627.1h24m-12-12v24M2077.9 1625.8h24m-12-12v24M2078.7 1630h24m-12-12v24M2079.5 1627.3h24m-12-12v24M2080.3 1625.9h24m-12-12v24M2081.1 1626.2h24m-12-12v24M2081.9 1626.8h24m-12-12v24M2082.7 1626.6h24m-12-12v24M2083.5 1625.2h24m-12-12v24M2084.3 1625.5h24m-12-12v24M2085.2 1625.2h24m-12-12v24M2086 1620.6h24m-12-12v24M2086.8 1621.3h24m-12-12v24M2087.6 1620.5h24m-12-12v24M2088.4 1622.2h24m-12-12v24M2089.2 1624.6h24m-12-12v24M2090 1624.1h24m-12-12v24M2090.8 1622.5h24m-12-12v24M2091.6 1624.7h24m-12-12v24M2092.4 1627.9h24m-12-12v24M2093.2 1626.8h24m-12-12v24M2094 1628.7h24m-12-12v24M2094.9 1630.5h24m-12-12v24M2095.7 1628.4h24m-12-12v24M2096.5 1633.3h24m-12-12v24M2097.3 1633.6h24m-12-12v24M2098.1 1634.8h24m-12-12v24M2098.9 1633.2h24m-12-12v24M2099.7 1634.1h24m-12-12v24M2100.5 1634.8h24m-12-12v24M2101.3 1636.5h24m-12-12v24M2102.1 1636.5h24m-12-12v24M2102.9 1636.7h24m-12-12v24M2103.7 1639.3h24m-12-12v24M2104.5 1638.5h24m-12-12v24M2105.4 1635.4h24m-12-12v24M2106.2 1635.3h24m-12-12v24M2107 1638.6h24m-12-12v24M2107.8 1635.2h24m-12-12v24M2108.6 1637.4h24m-12-12v24M2109.4 1637.3h24m-12-12v24M2110.2 1633.7h24m-12-12v24M2111 1633.8h24m-12-12v24M2111.8 1634h24m-12-12v24M2112.6 1632.3h24m-12-12v24M2113.4 1632h24m-12-12v24M2114.2 1632.8h24m-12-12v24M2115.1 1634.8h24m-12-12v24M2115.9 1633h24m-12-12v24M2116.7 1633.7h24m-12-12v24M2117.5 1633.8h24m-12-12v24M2118.3 1632.9h24m-12-12v24M2119.1 1637.7h24m-12-12v24M2119.9 1632.6h24m-12-12v24M2120.7 1635.7h24m-12-12v24M2121.5 1638.1h24m-12-12v24M2122.3 1635.7h24m-12-12v24M2123.1 1639.2h24m-12-12v24M2123.9 1640.7h24m-12-12v24M2124.7 1637.9h24m-12-12v24M2125.6 1639.9h24m-12-12v24M2126.4 1638.3h24m-12-12v24M2127.2 1641.1h24m-12-12v24M2128 1640.7h24m-12-12v24M2128.8 1641.1h24m-12-12v24M2129.6 1643h24m-12-12v24M2130.4 1641.8h24m-12-12v24M2131.2 1643.3h24m-12-12v24M2132 1642.3h24m-12-12v24M2132.8 1639.7h24m-12-12v24M2133.6 1641.9h24m-12-12v24M2134.4 1642.3h24m-12-12v24M2135.3 1639.4h24m-12-12v24M2136.1 1643.6h24m-12-12v24M2136.9 1641.7h24m-12-12v24M2137.7 1642.2h24m-12-12v24M2138.5 1640.2h24m-12-12v24M2139.3 1641.6h24m-12-12v24M2140.1 1641.9h24m-12-12v24M2140.9 1640.9h24m-12-12v24M2141.7 1641.4h24m-12-12v24M2142.5 1637.9h24m-12-12v24M2143.3 1643h24m-12-12v24M2144.1 1639.1h24m-12-12v24M2144.9 1637.3h24m-12-12v24M2145.8 1638.9h24m-12-12v24M2146.6 1638.7h24m-12-12v24M2147.4 1639.9h24m-12-12v24M2148.2 1636.1h24m-12-12v24M2149 1636.3h24m-12-12v24M2149.8 1632.7h24m-12-12v24M2150.6 1635.6h24m-12-12v24M2151.4 1631.3h24m-12-12v24M2152.2 1631.5h24m-12-12v24M2153 1626.5h24m-12-12v24M2153.8 1629.3h24m-12-12v24M2154.6 1627.2h24m-12-12v24M2155.5 1629.7h24m-12-12v24M2156.3 1630.1h24m-12-12v24M2157.1 1626.9h24m-12-12v24M2157.9 1628h24m-12-12v24M2158.7 1627.5h24m-12-12v24M2159.5 1626.5h24m-12-12v24M2160.3 1627.5h24m-12-12v24M2161.1 1627.2h24m-12-12v24M2161.9 1626.8h24m-12-12v24M2162.7 1629.6h24m-12-12v24M2163.5 1631h24m-12-12v24M2164.3 1629.1h24m-12-12v24M2165.1 1631.1h24m-12-12v24M2166 1633h24m-12-12v24M2166.8 1633.6h24m-12-12v24M2167.6 1633.8h24m-12-12v24M2168.4 1637h24m-12-12v24M2169.2 1637.8h24m-12-12v24M2170 1638.4h24m-12-12v24M2170.8 1637.7h24m-12-12v24M2171.6 1641.6h24m-12-12v24M2172.4 1641.8h24m-12-12v24M2173.2 1639.1h24m-12-12v24M2174 1639.9h24m-12-12v24M2174.8 1642.3h24m-12-12v24M2175.7 1639.6h24m-12-12v24M2176.5 1641.7h24m-12-12v24M2177.3 1641.4h24m-12-12v24M2178.1 1640.5h24m-12-12v24M2178.9 1641.4h24m-12-12v24M2179.7 1639.6h24m-12-12v24M2180.5 1641.2h24m-12-12v24M2181.3 1639.2h24m-12-12v24M2182.1 1645.7h24m-12-12v24M2182.9 1644.6h24m-12-12v24M2183.7 1644.3h24m-12-12v24M2184.5 1643h24m-12-12v24M2185.3 1644.1h24m-12-12v24M2186.2 1644.6h24m-12-12v24M2187 1644.3h24m-12-12v24M2187.8 1644.2h24m-12-12v24M2188.6 1641.5h24m-12-12v24M2189.4 1643.7h24m-12-12v24M2190.2 1642.4h24m-12-12v24M2191 1641.6h24m-12-12v24M2191.8 1641.8h24m-12-12v24M2192.6 1644.2h24m-12-12v24M2193.4 1645.3h24m-12-12v24M2194.2 1641.8h24m-12-12v24M2195 1646.6h24m-12-12v24M2195.9 1646.3h24m-12-12v24M2196.7 1643.7h24m-12-12v24M2197.5 1643.7h24m-12-12v24M2198.3 1644.4h24m-12-12v24M2199.1 1646.1h24m-12-12v24M2199.9 1644.1h24m-12-12v24M2200.7 1643.2h24m-12-12v24M2201.5 1645.5h24m-12-12v24M2202.3 1642h24m-12-12v24M2203.1 1645.4h24m-12-12v24M2203.9 1647h24m-12-12v24M2204.7 1645.9h24m-12-12v24M2205.5 1646.7h24m-12-12v24M2206.4 1646.4h24m-12-12v24M2207.2 1646.8h24m-12-12v24M2208 1646.1h24m-12-12v24M2208.8 1644.7h24m-12-12v24M2209.6 1645.7h24m-12-12v24M2210.4 1646.1h24m-12-12v24M2211.2 1648.2h24m-12-12v24M2212 1648.9h24m-12-12v24M2212.8 1647.2h24m-12-12v24M2213.6 1645.5h24m-12-12v24M2214.4 1645.6h24m-12-12v24M2215.2 1646.6h24m-12-12v24M2216.1 1649h24m-12-12v24M2216.9 1647.6h24m-12-12v24M2217.7 1647.1h24m-12-12v24M2218.5 1646.1h24m-12-12v24M2219.3 1648.7h24m-12-12v24M2220.1 1647.9h24m-12-12v24M2220.9 1647.5h24m-12-12v24M2221.7 1647.9h24m-12-12v24M2222.5 1650.3h24m-12-12v24M2223.3 1647.7h24m-12-12v24M2224.1 1650.6h24m-12-12v24M2224.9 1650h24m-12-12v24M2225.7 1648.3h24m-12-12v24M2226.6 1649.7h24m-12-12v24M2227.4 1648.3h24m-12-12v24M2228.2 1647.3h24m-12-12v24M2229 1648.2h24m-12-12v24M2229.8 1647.4h24m-12-12v24M2230.6 1649.6h24m-12-12v24M2231.4 1649h24m-12-12v24M2232.2 1649.9h24m-12-12v24M2233 1650.4h24m-12-12v24M2233.8 1644.6h24m-12-12v24M2234.6 1649.8h24m-12-12v24M2235.4 1646.8h24m-12-12v24M2236.3 1649.8h24m-12-12v24M2237.1 1648.4h24m-12-12v24M2237.9 1649.9h24m-12-12v24M2238.7 1651.9h24m-12-12v24M2239.5 1647.3h24m-12-12v24M2240.3 1650.1h24m-12-12v24M2241.1 1649.7h24m-12-12v24M2241.9 1647h24m-12-12v24M2242.7 1650.8h24m-12-12v24M2243.5 1649.9h24m-12-12v24M2244.3 1649.1h24m-12-12v24M2245.1 1648.8h24m-12-12v24M2245.9 1654.7h24m-12-12v24M2246.8 1649.3h24m-12-12v24M2247.6 1647.2h24m-12-12v24M2248.4 1648.5h24m-12-12v24M2249.2 1649.4h24m-12-12v24M2250 1649.3h24m-12-12v24M2250.8 1649.8h24m-12-12v24M2251.6 1648.4h24m-12-12v24M2252.4 1650.7h24m-12-12v24M2253.2 1649.2h24m-12-12v24M2254 1647.9h24m-12-12v24M2254.8 1648.7h24m-12-12v24M2255.6 1649.4h24m-12-12v24M2256.5 1651.2h24m-12-12v24M2257.3 1650.7h24m-12-12v24M2258.1 1649.4h24m-12-12v24M2258.9 1650h24m-12-12v24M2259.7 1650.2h24m-12-12v24M2260.5 1653h24m-12-12v24M2261.3 1649h24m-12-12v24M2262.1 1650.6h24m-12-12v24M2262.9 1651h24m-12-12v24M2263.7 1648.4h24m-12-12v24M2264.5 1650.1h24m-12-12v24M2265.3 1650h24m-12-12v24M2266.1 1649h24m-12-12v24M2267 1650.5h24m-12-12v24M2267.8 1651.1h24m-12-12v24M2268.6 1651.2h24m-12-12v24M2269.4 1649.1h24m-12-12v24M2270.2 1649.6h24m-12-12v24M2271 1652.7h24m-12-12v24M2271.8 1647.3h24m-12-12v24M2272.6 1649.1h24m-12-12v24M2273.4 1649.9h24m-12-12v24M2274.2 1648.5h24m-12-12v24M2275 1649h24m-12-12v24M2275.8 1648h24m-12-12v24M2276.7 1648.5h24m-12-12v24M2277.5 1648.9h24m-12-12v24M2278.3 1646.3h24m-12-12v24M2279.1 1646.6h24m-12-12v24M2279.9 1645.9h24m-12-12v24M2280.7 1645.1h24m-12-12v24M2281.5 1645.4h24m-12-12v24M2282.3 1643.5h24m-12-12v24M2283.1 1646.2h24m-12-12v24M2283.9 1647.6h24m-12-12v24M2284.7 1647.6h24m-12-12v24M2285.5 1647.2h24m-12-12v24M2286.3 1644h24m-12-12v24M2287.2 1648h24m-12-12v24M2288 1645h24m-12-12v24M2288.8 1646.4h24m-12-12v24M2289.6 1649.6h24m-12-12v24M2290.4 1645.6h24m-12-12v24M2291.2 1648.8h24m-12-12v24M2292 1648.3h24m-12-12v24M2292.8 1648h24m-12-12v24M2293.6 1647.2h24m-12-12v24M2294.4 1649.5h24m-12-12v24M2295.2 1648.4h24m-12-12v24M2296 1650.9h24m-12-12v24M2296.9 1651.3h24m-12-12v24M2297.7 1647.6h24m-12-12v24M2298.5 1649h24m-12-12v24M2299.3 1649.5h24m-12-12v24M2300.1 1648.3h24m-12-12v24M2300.9 1648.5h24m-12-12v24" stroke="#000" stroke-width="1.15"/>
<path d="M172.5 1620.1L173.3 1619.7L174.1 1619.2L174.9 1618.8L175.7 1618.4L176.5 1617.9L177.3 1617.5L178.2 1617.1L179 1616.6L179.8 1616.2L180.6 1615.8L181.4 1615.3L182.2 1614.9L183 1614.5L183.8 1614L184.6 1613.6L185.4 1613.2L186.2 1612.7L187 1612.3L187.9 1611.9L188.7 1611.4L189.5 1611L190.3 1610.6L191.1 1610.1L191.9 1609.7L192.7 1609.3L193.5 1608.8L194.3 1608.4L195.1 1608L195.9 1607.5L196.7 1607.1L197.5 1606.7L198.4 1606.2L199.2 1605.8L200 1605.4L200.8 1604.6L201.6 1603.9L202.4 1603.2L203.2 1602.4L204 1601.7L204.8 1601L205.6 1600.2L206.4 1599.5L207.2 1598.8L208.1 1598L208.9 1597.3L209.7 1596.6L210.5 1595.8L211.3 1595.1L212.1 1594.4L212.9 1593.6L213.7 1592.9L214.5 1592.2L215.3 1591.4L216.1 1590.7L216.9 1590L217.7 1589.2L218.6 1588.5L219.4 1587.7L220.2 1587L221 1586.3L221.8 1585.5L222.6 1584.8L223.4 1584L224.2 1583.3L225 1582.6L225.8 1581.8L226.6 1581.1L227.4 1580.3L228.3 1579.6L229.1 1578.8L229.9 1578.1L230.7 1577.5L231.5 1576.9L232.3 1576.3L232.8 1575.9L233.1 1575.7L233.9 1575.1L234.7 1574.5L235.5 1573.9L236.3 1573.3L237.1 1572.7L237.9 1572.1L238.8 1571.5L239.6 1570.9L240.4 1570.2L241.2 1569.6L242 1569L242.8 1568.4L243.6 1567.8L244.4 1567.2L245.2 1566.5L246 1565.9L246.8 1565.3L247.6 1564.6L248.5 1564L249.3 1563.3L250.1 1562.7L250.9 1562L251.7 1561.4L252.5 1560.7L253.3 1560L254.1 1559.4L254.9 1558.7L255.7 1558L256.5 1557.3L257.3 1556.6L258.1 1555.8L259 1555.1L259.8 1554.3L260.6 1554L261.4 1553.9L262.2 1553.8L263 1553.6L263.8 1553.4L264.6 1553.2L265.4 1553L266.2 1552.7L267 1552.3L267.8 1552L268.7 1551.5L269.5 1551L270.3 1550.4L271.1 1549.6L271.9 1548.8L272.7 1547.8L273.5 1546.6L274.3 1545.1L275.1 1543.2L275.9 1540.7L276.7 1537.3L277.5 1532.5L278.3 1525.7L279.2 1516L280 1502.4L280.8 1483.9L281.6 1459.8L282.4 1429.9L283.2 1395.1L284 1357.6L284.8 1321.9L285.6 1294.6L286.4 1283.1L286.5 1283L287.2 1291.2L288 1316.2L288.9 1350.9L289.7 1388.5L290.5 1424.1L291.3 1455.2L292.1 1480.6L292.9 1500.3L293.7 1515L294.5 1525.5L295.3 1532.9L296.1 1538.2L296.9 1541.9L297.7 1544.7L298.5 1546.8L299.4 1548.4L300.2 1549.7L301 1550.8L301.8 1551.6L302.6 1552.3L303.4 1552.9L304.2 1553.3L305 1553.5L305.8 1553.6L306.6 1553.6L307.4 1553.3L308.2 1552.9L309.1 1552.3L309.9 1551.3L310.7 1549.8L311.5 1547.5L312.3 1544.1L313.1 1538.8L313.9 1530.7L314.7 1518.6L315.5 1500.9L316.3 1475.8L317.1 1441.4L317.9 1396.2L318.7 1339.4L319.6 1271L320.4 1193.1L321.2 1109.1L322 1024.8L322.8 947.4L323.6 885.5L324.4 847.5L325 838.6L325.2 839.7L326 863.3L326.8 914.6L327.6 985.9L328.4 1068.3L329.3 1154L330.1 1236.3L330.9 1310.7L331.7 1374.3L332.5 1426.2L333.3 1466.7L334.1 1497.1L334.9 1519.2L335.7 1534.7L336.5 1545.5L337.3 1552.9L338.1 1558.1L338.9 1561.7L339.8 1564.4L340.6 1566.6L341.4 1568.3L342.2 1569.8L343 1571.1L343.8 1572.2L344.6 1573.3L345.4 1574.2L346.2 1575.1L347 1575.9L347.8 1576.7L348.6 1577.4L349.5 1578.1L350.3 1578.7L351.1 1579.1L351.9 1579.5L352.7 1579.9L353.5 1580.2L354.3 1580.6L355.1 1580.9L355.9 1581.1L356.7 1581.4L357.5 1581.7L358.3 1581.9L359.1 1582.1L360 1582.4L360.8 1582.6L361.6 1582.8L362.4 1582.9L363.2 1583.1L364 1583.3L364.8 1583.4L365.6 1583.6L366.4 1583.7L367.2 1583.8L368 1583.9L368.8 1584L369.7 1584.1L370.5 1584.2L371.3 1584.3L372.1 1584.3L372.9 1584.4L373.7 1584.4L374.5 1584.4L375.3 1584.4L376.1 1584.4L376.9 1584.3L377.7 1584.2L378.5 1584L379.3 1583.8L380.2 1583.6L381 1583.4L381.8 1583.2L382.6 1582.8L383.4 1582.3L384.2 1581.6L385 1580.7L385.8 1579.4L386.6 1577.8L387.4 1575.8L388.2 1573.4L389 1570.7L389.9 1568.2L390.7 1566.3L391.5 1565.8L392.3 1566.9L393.1 1569.3L393.9 1572.4L394.7 1575.6L395.5 1578.5L396.3 1581L397.1 1583.1L397.9 1584.9L398.7 1586.4L399.5 1587.6L400.4 1588.6L401.2 1589.4L402 1590.2L402.8 1590.8L403.6 1591.3L404.4 1591.8L405.2 1592.2L406 1592.5L406.8 1592.8L407.6 1593L408.4 1593.2L409.2 1593.2L410.1 1593.2L410.9 1593.1L411.7 1592.9L412.5 1592.4L413.3 1591.6L414.1 1590.2L414.9 1587.7L415.7 1583.4L416.5 1576.2L417.3 1564.8L418.1 1547.8L418.9 1524.4L419.7 1494.8L420.6 1460.8L421.4 1426.2L422.2 1396.5L423 1378.7L423.4 1376L423.8 1378L424.6 1394.7L425.4 1423.9L426.2 1458.9L427 1493.7L427.8 1524.5L428.6 1549.2L429.4 1567.5L430.3 1580.1L431.1 1588.3L431.9 1593.4L432.7 1596.7L433.5 1598.8L434.3 1600.2L435.1 1601.3L435.9 1602.2L436.7 1603L437.5 1603.7L438.3 1604.3L439.1 1604.9L439.9 1605.4L440.8 1605.9L441.6 1606.4L442.4 1606.8L443.2 1607.2L444 1607.6L444.8 1608L445.6 1608.4L446.4 1608.8L447.2 1609.1L448 1609.5L448.8 1609.8L449.6 1610.1L450.5 1610.3L451.3 1610.4L452.1 1610.5L452.9 1610.6L453.7 1610.6L454.5 1610.7L455.3 1610.8L456.1 1610.8L456.9 1610.9L457.7 1610.9L458.5 1611L459.3 1611L460.1 1611.1L461 1611.1L461.8 1611.2L462.6 1611.2L463.4 1611.3L464.2 1611.3L465 1611.3L465.8 1611.4L466.6 1611.4L467.4 1611.4L468.2 1611.5L469 1611.5L469.8 1611.5L470.7 1611.6L471.5 1611.6L472.3 1611.6L473.1 1611.6L473.9 1611.7L474.7 1611.7L475.5 1611.7L476.3 1611.7L477.1 1611.7L477.9 1611.8L478.7 1611.8L479.5 1611.8L480.3 1611.8L481.2 1611.8L482 1611.8L482.8 1611.8L483.6 1611.8L484.4 1611.8L485.2 1611.8L486 1611.7L486.8 1611.7L487.6 1611.7L488.4 1611.6L489.2 1611.6L490 1611.5L490.9 1611.4L491.7 1611.4L492.5 1611.2L493.3 1611.1L494.1 1610.9L494.9 1610.7L495.7 1610.5L496.5 1610.1L497.3 1609.7L498.1 1609.2L498.9 1608.5L499.7 1607.7L500.5 1606.6L501.4 1605.3L502.2 1603.8L503 1602.1L503.8 1600.3L504.6 1598.8L505.4 1598L506.2 1598.2L507 1599.3L507.8 1601L508.6 1602.9L509.4 1604.7L510.2 1606.3L511.1 1607.6L511.9 1608.6L512.7 1609.5L513.5 1610.2L514.3 1610.7L515.1 1611.2L515.9 1611.6L516.7 1611.9L517.5 1612.1L518.3 1612.4L519.1 1612.5L519.9 1612.7L520.7 1612.9L521.6 1613L522.4 1613.1L523.2 1613.2L524 1613.3L524.8 1613.4L525.6 1613.5L526.4 1613.6L527.2 1613.7L528 1613.7L528.8 1613.8L529.6 1613.9L530.4 1613.9L531.3 1614L532.1 1614L532.9 1614.1L533.7 1614.1L534.5 1614.1L535.3 1614.2L536.1 1614.2L536.9 1614.2L537.7 1614.3L538.5 1614.3L539.3 1614.3L540.1 1614.3L540.9 1614.3L541.8 1614.4L542.6 1614.4L543.4 1614.4L544.2 1614.4L545 1614.4L545.8 1614.4L546.6 1614.4L547.4 1614.4L548.2 1614.4L549 1614.4L549.8 1614.4L550.6 1614.3L551.5 1614.2L552.3 1614.2L553.1 1614.1L553.9 1614L554.7 1613.9L555.5 1613.8L556.3 1613.7L557.1 1613.6L557.9 1613.5L558.7 1613.4L559.5 1613.3L560.3 1613.2L561.1 1613L562 1612.9L562.8 1612.7L563.6 1612.5L564.4 1612.4L565.2 1612.2L566 1611.9L566.8 1611.7L567.6 1611.5L568.4 1611.2L569.2 1610.9L570 1610.6L570.8 1610.3L571.7 1609.9L572.5 1609.5L573.3 1609.1L574.1 1608.6L574.9 1608.1L575.7 1607.6L576.5 1607L577.3 1606.3L578.1 1605.6L578.3 1605.4L578.9 1604.8L579.7 1603.9L580.5 1602.9L581.3 1601.8L582.2 1600.6L583 1599.2L583.8 1597.7L584.6 1595.9L585.4 1593.9L586.2 1591.6L587 1589L587.8 1585.9L588.6 1582.4L589.4 1578.3L590.2 1573.5L591 1567.8L591.9 1561L592.7 1552.8L593.5 1543L594.3 1531L595.1 1516.5L595.9 1498.9L596.7 1477.6L597.5 1452.4L598.3 1423.5L599.1 1392.4L599.9 1362.3L600.7 1338.6L601.5 1326.8L602 1327L602.4 1330.6L603.2 1348.6L604 1376L604.8 1407.1L605.6 1437.4L606.4 1464.6L607.2 1487.9L608 1507.4L608.8 1523.4L609.6 1536.6L610.4 1547.5L611.2 1556.4L612.1 1563.9L612.9 1570.1L613.7 1575.3L614.5 1579.8L615.3 1583.5L616.1 1586.8L616.9 1589.6L617.7 1592L618.5 1594.1L619.3 1595.9L620.1 1597.5L620.9 1598.9L621.7 1600.2L622.6 1601.3L623.4 1602.2L624.2 1603.1L625 1603.9L625.8 1604.6L626.6 1605.2L627.4 1605.7L628.2 1606.1L629 1606.5L629.8 1606.9L630.6 1607.2L631.4 1607.4L632.3 1607.6L633.1 1607.7L633.9 1607.7L634.7 1607.6L635.5 1607.2L636.3 1606.7L637.1 1605.7L637.9 1604.2L638.7 1602L639.5 1598.8L640.3 1594.6L641.1 1589.3L641.9 1583.1L642.8 1576.1L643.6 1569L644.4 1562.5L645.2 1557.6L646 1555.1L646.8 1555.7L647.6 1559.2L648.4 1564.8L649.2 1571.4L650 1578.3L650.8 1584.6L651.6 1590L652.5 1594.4L653.3 1597.5L654.1 1599.6L654.9 1600.8L655.7 1601.1L656.5 1600.7L657.3 1599.6L658.1 1597.9L658.9 1595.4L659.7 1592.1L660.5 1587.7L661.3 1582.3L662.1 1575.5L663 1567.6L663.8 1558.8L664.6 1549.8L665.4 1542.1L666.2 1537.6L667 1537.6L667.8 1542.1L668.6 1549.7L669.4 1558.5L670.2 1567.2L671 1574.9L671.8 1581.4L672.7 1586.6L673.5 1590.8L674.3 1593.9L675.1 1596.2L675.9 1597.9L676.7 1598.9L677.5 1599.4L678.3 1599.4L679.1 1598.9L679.9 1597.7L680.7 1596L681.5 1593.7L682.3 1590.9L683.2 1587.6L684 1584.2L684.8 1581L685.6 1578.8L686.4 1578L687.2 1578.9L688 1581.3L688.8 1584.5L689.6 1588.2L690.4 1591.7L691.2 1594.8L692 1597.5L692.9 1599.7L693.7 1601.3L694.5 1602.5L695.3 1603.4L696.1 1603.9L696.9 1604.3L697.7 1604.6L698.5 1604.7L699.3 1604.8L700.1 1604.8L700.9 1604.8L701.7 1604.8L702.5 1604.8L703.4 1604.7L704.2 1604.6L705 1604.5L705.8 1604.4L706.6 1604.3L707.4 1604.1L708.2 1603.9L709 1603.7L709.8 1603.5L710.6 1603.2L711.4 1603L712.2 1602.6L713.1 1602.2L713.9 1601.8L714.7 1601.3L715.5 1600.6L716.3 1599.9L717.1 1598.9L717.9 1597.6L718.7 1596L719.5 1594L720.3 1591.5L721.1 1588.4L721.9 1584.7L722.7 1580.5L723.6 1576L724.4 1571.7L725.2 1568.5L726 1567L726.8 1567.7L727.6 1570.2L728.4 1573.7L729.2 1577.5L730 1580.9L730.8 1583.9L731.6 1586.1L732.4 1587.7L733.3 1588.6L734.1 1588.8L734.9 1588.3L735.7 1587L736.5 1584.8L737.3 1581.4L738.1 1576.6L738.9 1570.1L739.7 1561.8L740.5 1551.5L741.3 1539.4L742.1 1526.1L742.9 1512.6L743.8 1500.8L744.6 1492.9L745.4 1491.2L746.2 1496L747 1506L747.8 1518.8L748.6 1532.3L749.4 1545L750.2 1556.2L751 1565.5L751.8 1572.9L752.6 1578.6L753.5 1582.6L754.3 1585.5L755.1 1587.2L755.9 1588.2L756.7 1588.4L757.5 1587.9L758.3 1586.8L759.1 1585.1L759.9 1582.9L760.7 1580.3L761.5 1577.4L762.3 1574.8L763.1 1572.8L764 1572L764.8 1572.6L765.6 1574.6L766.4 1577.5L767.2 1580.7L768 1583.9L768.8 1586.9L769.6 1589.4L770.4 1591.4L771.2 1593L772 1594.2L772.8 1595.1L773.7 1595.7L774.5 1596.1L775.3 1596.4L776.1 1596.7L776.9 1596.8L777.7 1596.9L778.5 1597L779.3 1597.1L780.1 1597.1L780.9 1597.1L781.7 1597.2L782.5 1597.2L783.3 1597.2L784.2 1597.1L785 1597.1L785.8 1597.1L786.6 1597L787.4 1597L788.2 1596.9L789 1596.9L789.8 1596.8L790.6 1596.7L791.4 1596.7L792.2 1596.6L793 1596.5L793.9 1596.4L794.7 1596.3L795.5 1596.2L796.3 1596.1L797.1 1596L797.9 1595.8L798.7 1595.7L799.5 1595.5L800.3 1595.4L801.1 1595.3L801.9 1595.1L802.7 1595L803.5 1594.8L804.4 1594.5L805.2 1594.2L806 1593.8L806.8 1593.1L807.6 1592L808.4 1590.4L809.2 1587.9L810 1584.3L810.8 1579.4L811.6 1572.8L812.4 1564.6L813.2 1555.1L814.1 1544.8L814.9 1534.5L815.7 1525.6L816.5 1519L817.3 1516.1L818.1 1517.2L818.9 1522L819.7 1529.6L820.5 1538.8L821.3 1548.2L822.1 1557L822.9 1564.4L823.7 1570L824.6 1573.7L825.4 1575.6L826.2 1575.6L827 1573.9L827.8 1570.5L828.6 1565.1L829.4 1557.6L830.2 1547.7L831 1535.4L831.8 1520.9L832.6 1504.5L833.4 1487.6L834.3 1472.4L835.1 1461.9L835.9 1459.1L836.7 1464.9L837.5 1477.3L838.3 1493.4L839.1 1510.3L839.9 1526.1L840.7 1540L841.5 1551.4L842.3 1560.6L843.1 1567.7L843.9 1573L844.8 1577L845.6 1579.9L846.4 1582L847.2 1583.6L848 1584.8L848.8 1585.7L849.6 1586.4L850.4 1587.1L851.2 1587.6L852 1588L852.8 1588.3L853.6 1588.6L854.5 1588.8L855.3 1588.9L856.1 1589L856.9 1589L857.7 1589L858.5 1588.9L859.3 1588.7L860.1 1588.5L860.9 1588.2L861.7 1587.9L862.5 1587.5L863.3 1587L864.1 1586.5L865 1585.9L865.8 1585.1L866.6 1584.3L867.4 1583.3L868.2 1582.1L869 1580.8L869.8 1579.2L870.6 1577.4L871.4 1575.3L872.2 1572.9L873 1569.9L873.8 1566.3L874.7 1562L875.5 1556.7L876.3 1550.1L877.1 1541.9L877.9 1531.4L878.7 1518.2L879.5 1501.5L880.3 1480.6L881.1 1455.1L881.9 1424.8L882.7 1390.6L883.5 1355.7L884.3 1326.2L885.2 1309.6L885.5 1308L886 1311.5L886.8 1331L887.6 1361.6L888.4 1395.7L889.2 1427.9L890 1455.5L890.8 1477.8L891.6 1494.4L892.4 1505.2L893.2 1509.7L894 1506.7L894.9 1494.8L895.7 1472L896.5 1437L897.3 1389.6L898.1 1331.9L898.9 1268.7L899.7 1207.8L900.5 1159.5L901 1141L901.3 1134.7L902.1 1140.2L902.9 1174.9L903.7 1230.5L904.5 1295.9L905.4 1361.3L906.2 1419.7L907 1467.1L907.8 1502.1L908.6 1525.3L909.4 1538.6L910.2 1544.5L911 1545.1L911.8 1542.5L912.6 1538.5L913.4 1534.7L914.2 1532.5L915.1 1532.9L915.9 1536.2L916.7 1541.9L917.5 1549.3L918.3 1557.3L919.1 1565.3L919.9 1572.5L920.7 1578.7L921.5 1583.7L922.3 1587.6L923.1 1590.5L923.9 1592.6L924.7 1594.1L925.6 1595.1L926.4 1595.9L927.2 1596.5L928 1597L928.8 1597.3L929.6 1597.7L930.4 1597.9L931.2 1598.2L932 1598.4L932.8 1598.6L933.6 1598.7L934.4 1598.9L935.3 1599L936.1 1599.1L936.9 1599.1L937.7 1599.2L938.5 1599.2L939.3 1599.2L940.1 1599.2L940.9 1599.1L941.7 1599L942.5 1598.9L943.3 1598.8L944.1 1598.6L944.9 1598.4L945.8 1598.1L946.6 1597.8L947.4 1597.4L948.2 1597L949 1596.4L949.8 1595.7L950.6 1594.8L951.4 1593.7L952.2 1592.3L953 1590.4L953.8 1587.8L954.6 1584.3L955.5 1579.3L956.3 1572.2L957.1 1562.6L957.9 1549.8L958.7 1533.4L959.5 1513.2L960.3 1489.7L961.1 1464L961.9 1438.3L962.7 1415.7L963.5 1400.4L964.2 1396L964.3 1396.1L965.1 1404.1L966 1422L966.8 1445.9L967.6 1471.9L968.4 1496.9L969.2 1519.4L970 1538.3L970.8 1553.5L971.6 1565.2L972.4 1573.8L973.2 1580L974 1584.4L974.8 1587.6L975.7 1589.8L976.5 1591.4L977.3 1592.6L978.1 1593.6L978.9 1594.3L979.7 1594.9L980.5 1595.4L981.3 1595.8L982.1 1596.1L982.9 1596.4L983.7 1596.5L984.5 1596.7L985.3 1596.8L986.2 1596.8L987 1596.8L987.8 1596.7L988.6 1596.6L989.4 1596.4L990.2 1596.2L991 1595.9L991.8 1595.6L992.6 1595.2L993.4 1594.7L994.2 1594.1L995 1593.4L995.9 1592.5L996.7 1591.4L997.5 1590.1L998.3 1588.5L999.1 1586.4L999.9 1583.7L1000.7 1580.3L1001.5 1575.8L1002.3 1570.1L1003.1 1562.8L1003.9 1553.8L1004.7 1542.9L1005.5 1530.4L1006.4 1516.9L1007.2 1504.1L1008 1494.6L1008.8 1491L1009.6 1494.6L1010.4 1504.1L1011.2 1516.9L1012 1530.5L1012.8 1543.1L1013.6 1554.1L1014.4 1563.2L1015.2 1570.6L1016.1 1576.4L1016.9 1580.9L1017.7 1584.5L1018.5 1587.2L1019.3 1589.3L1020.1 1591L1020.9 1592.4L1021.7 1593.5L1022.5 1594.4L1023.3 1595.2L1024.1 1595.9L1024.9 1596.4L1025.7 1596.9L1026.6 1597.4L1027.4 1597.8L1028.2 1598.1L1029 1598.4L1029.8 1598.6L1030.6 1598.9L1031.4 1599.1L1032.2 1599.3L1033 1599.4L1033.8 1599.5L1034.6 1599.7L1035.4 1599.7L1036.3 1599.8L1037.1 1599.9L1037.9 1599.9L1038.7 1599.9L1039.5 1599.9L1040.3 1599.8L1041.1 1599.7L1041.9 1599.4L1042.7 1599.1L1043.5 1598.6L1044.3 1597.9L1045.1 1596.9L1045.9 1595.8L1046.8 1594.4L1047.6 1592.8L1048.4 1591.1L1049.2 1589.6L1050 1588.5L1050.8 1588L1051.6 1588.4L1052.4 1589.4L1053.2 1591L1054 1592.7L1054.8 1594.4L1055.6 1595.9L1056.5 1597.2L1057.3 1598.3L1058.1 1599.1L1058.9 1599.8L1059.7 1600.2L1060.5 1600.6L1061.3 1600.8L1062.1 1601L1062.9 1601.1L1063.7 1601.2L1064.5 1601.3L1065.3 1601.4L1066.1 1601.4L1067 1601.4L1067.8 1601.4L1068.6 1601.4L1069.4 1601.3L1070.2 1601.3L1071 1601.1L1071.8 1600.9L1072.6 1600.7L1073.4 1600.3L1074.2 1599.8L1075 1599.2L1075.8 1598.4L1076.7 1597.4L1077.5 1596.3L1078.3 1595.2L1079.1 1594.1L1079.9 1593.3L1080.7 1593L1081.5 1593.2L1082.3 1594L1083.1 1595L1083.9 1596.1L1084.7 1597.2L1085.5 1598.1L1086.3 1598.8L1087.2 1599.4L1088 1599.8L1088.8 1600.1L1089.6 1600.3L1090.4 1600.3L1091.2 1600.3L1092 1600.3L1092.8 1600.1L1093.6 1599.9L1094.4 1599.7L1095.2 1599.3L1096 1598.8L1096.9 1598.1L1097.7 1597.2L1098.5 1595.9L1099.3 1594.3L1100.1 1592.1L1100.9 1589.4L1101.7 1586L1102.5 1582.1L1103.3 1577.8L1104.1 1573.4L1104.9 1569.5L1105.7 1566.8L1106.5 1566L1107.4 1567.4L1108.2 1570.4L1109 1574.3L1109.8 1578.3L1110.6 1582L1111.4 1585L1112.2 1586.9L1113 1587.5L1113.8 1586.3L1114.6 1583.1L1115.4 1577.3L1116.2 1568.9L1117.1 1558.3L1117.9 1546.4L1118.7 1534.8L1119.5 1525.3L1120.3 1519.4L1121.1 1518.1L1121.9 1521.4L1122.7 1528.1L1123.5 1536.6L1124.3 1545L1125.1 1551.7L1125.9 1555.6L1126.7 1556.3L1127.6 1553.8L1128.4 1548.2L1129.2 1539.6L1130 1528.3L1130.8 1514.4L1131.6 1498.4L1132.4 1481.6L1133.2 1466.3L1134 1455.6L1134.8 1452.6L1135.6 1458.2L1136.4 1470.7L1137.3 1486.9L1138.1 1504L1138.9 1519.9L1139.7 1533.8L1140.5 1545.5L1141.3 1555.2L1142.1 1563.2L1142.9 1569.8L1143.7 1575.2L1144.5 1579.7L1145.3 1583.4L1146.1 1586.6L1146.9 1589.3L1147.8 1591.6L1148.6 1593.5L1149.4 1595.2L1150.2 1596.7L1151 1598L1151.8 1599.2L1152.6 1600.2L1153.4 1601.1L1154.2 1601.9L1155 1602.6L1155.8 1603.3L1156.6 1603.9L1157.5 1604.4L1158.3 1604.9L1159.1 1605.4L1159.9 1605.8L1160.7 1606.1L1161.5 1606.5L1162.3 1606.8L1163.1 1607L1163.9 1607.3L1164.7 1607.4L1165.5 1607.5L1166.3 1607.5L1167.1 1607.5L1168 1607.3L1168.8 1607.1L1169.6 1606.8L1170.4 1606.5L1171.2 1606.2L1172 1606L1172.8 1606L1173.6 1606.2L1174.4 1606.7L1175.2 1607.3L1176 1607.9L1176.8 1608.5L1177.7 1609.1L1178.5 1609.7L1179.3 1610.1L1180.1 1610.5L1180.9 1610.8L1181.7 1611.1L1182.5 1611.3L1183.3 1611.4L1184.1 1611.6L1184.9 1611.7L1185.7 1611.8L1186.5 1611.9L1187.3 1612L1188.2 1612.1L1189 1612.2L1189.8 1612.2L1190.6 1612.3L1191.4 1612.4L1192.2 1612.4L1193 1612.5L1193.8 1612.5L1194.6 1612.6L1195.4 1612.6L1196.2 1612.6L1197 1612.6L1197.9 1612.7L1198.7 1612.7L1199.5 1612.7L1200.3 1612.6L1201.1 1612.5L1201.9 1612.4L1202.7 1612.3L1203.5 1612.2L1204.3 1612L1205.1 1611.9L1205.9 1611.7L1206.7 1611.5L1207.5 1611.3L1208.4 1611.1L1209.2 1610.9L1210 1610.6L1210.8 1610.3L1211.6 1610L1212.4 1609.6L1213.2 1609.2L1214 1608.8L1214.8 1608.3L1215.6 1607.8L1216.4 1607.1L1217.2 1606.5L1218.1 1605.7L1218.9 1604.8L1219.7 1603.8L1220.5 1602.7L1221.3 1601.4L1222.1 1599.9L1222.9 1598.1L1223.7 1596L1224.5 1593.6L1225.3 1590.7L1226.1 1587.2L1226.9 1583L1227.7 1577.8L1228.6 1571.5L1229.4 1563.7L1230.2 1554L1231 1542.1L1231.8 1527.6L1232.6 1510.7L1233.4 1492.2L1234.2 1474.4L1235 1461L1235.8 1456L1236.6 1460.8L1237.4 1473.3L1238.3 1489.5L1239.1 1505.7L1239.9 1519.7L1240.7 1530.5L1241.5 1538.1L1242.3 1542.6L1243.1 1544.1L1243.9 1543L1244.7 1539.5L1245.5 1534.2L1246.3 1528.2L1247.1 1523.3L1247.9 1521.5L1248.8 1524.4L1249.6 1531.6L1250.4 1541.4L1251.2 1552L1252 1562L1252.8 1570.8L1253.6 1578.2L1254.4 1584.3L1255.2 1589.2L1256 1593.1L1256.8 1596.3L1257.6 1598.8L1258.5 1600.8L1259.3 1602.4L1260.1 1603.8L1260.9 1604.9L1261.7 1605.9L1262.5 1606.7L1263.3 1607.4L1264.1 1608.1L1264.9 1608.6L1265.7 1609.1L1266.5 1609.6L1267.3 1610L1268.1 1610.3L1269 1610.7L1269.8 1611L1270.6 1611.2L1271.4 1611.5L1272.2 1611.7L1273 1611.9L1273.8 1612.1L1274.6 1612.2L1275.4 1612.4L1276.2 1612.5L1277 1612.7L1277.8 1612.8L1278.7 1612.9L1279.5 1613L1280.3 1613.1L1281.1 1613.2L1281.9 1613.3L1282.7 1613.4L1283.5 1613.4L1284.3 1613.5L1285.1 1613.6L1285.9 1613.6L1286.7 1613.7L1287.5 1613.7L1288.3 1613.8L1289.2 1613.8L1290 1613.8L1290.8 1613.9L1291.6 1613.9L1292.4 1613.9L1293.2 1614L1294 1614L1294.8 1614L1295.6 1614L1296.4 1614.1L1297.2 1614.1L1298 1614.1L1298.9 1614.1L1299.7 1614.1L1300.5 1614.1L1301.3 1614.1L1302.1 1614.1L1302.9 1614.1L1303.7 1614.1L1304.5 1614.1L1305.3 1614.1L1306.1 1614.1L1306.9 1614.1L1307.7 1614.1L1308.5 1614L1309.4 1614L1310.2 1614L1311 1614L1311.8 1614L1312.6 1613.9L1313.4 1613.9L1314.2 1613.8L1315 1613.8L1315.8 1613.8L1316.6 1613.7L1317.4 1613.6L1318.2 1613.6L1319.1 1613.5L1319.9 1613.4L1320.7 1613.2L1321.5 1613.1L1322.3 1612.8L1323.1 1612.5L1323.9 1612.1L1324.7 1611.6L1325.5 1610.9L1326.3 1610.1L1327.1 1609L1327.9 1607.9L1328.7 1606.6L1329.6 1605.5L1330.4 1604.5L1331.2 1604L1332 1604.1L1332.8 1604.8L1333.6 1605.8L1334.4 1606.9L1335.2 1608.1L1336 1609.1L1336.8 1610L1337.6 1610.7L1338.4 1611.2L1339.3 1611.6L1340.1 1611.9L1340.9 1612.1L1341.7 1612.2L1342.5 1612.3L1343.3 1612.3L1344.1 1612.2L1344.9 1612.2L1345.7 1612.1L1346.5 1611.9L1347.3 1611.8L1348.1 1611.5L1348.9 1611.2L1349.8 1610.7L1350.6 1610.2L1351.4 1609.7L1352.2 1609L1353 1608.2L1353.8 1607.4L1354.6 1606.6L1355.4 1606.1L1356.2 1605.7L1357 1605.7L1357.8 1605.8L1358.6 1605.9L1359.5 1606L1360.3 1605.8L1361.1 1605.3L1361.9 1604.5L1362.7 1603.3L1363.5 1601.8L1364.3 1600.1L1365.1 1598.7L1365.9 1598L1366.7 1598.2L1367.5 1599.4L1368.3 1601.3L1369.1 1603.3L1370 1605.2L1370.8 1606.8L1371.6 1608.2L1372.4 1609.3L1373.2 1610.2L1374 1610.9L1374.8 1611.5L1375.6 1611.9L1376.4 1612.2L1377.2 1612.4L1378 1612.5L1378.8 1612.4L1379.7 1612L1380.5 1611.4L1381.3 1610.3L1382.1 1608.7L1382.9 1606.4L1383.7 1603.6L1384.5 1600.2L1385.3 1596.4L1386.1 1592.5L1386.9 1589L1387.7 1586.3L1388.5 1585.1L1389.3 1585.5L1390.2 1587.5L1391 1590.7L1391.8 1594.6L1392.6 1598.7L1393.4 1602.5L1394.2 1605.9L1395 1608.7L1395.8 1610.9L1396.6 1612.6L1397.4 1613.7L1398.2 1614.5L1399 1615L1399.9 1615.3L1400.7 1615.5L1401.5 1615.5L1402.3 1615.4L1403.1 1615.4L1403.9 1615.3L1404.7 1615.1L1405.5 1615L1406.3 1614.7L1407.1 1614.5L1407.9 1614.2L1408.7 1613.9L1409.5 1613.5L1410.4 1612.9L1411.2 1612.2L1412 1611.2L1412.8 1609.9L1413.6 1607.9L1414.4 1605.1L1415.2 1601.2L1416 1595.9L1416.8 1588.9L1417.6 1580.2L1418.4 1569.9L1419.2 1558.5L1420.1 1546.6L1420.9 1535.6L1421.7 1527.3L1422.5 1523.2L1423.3 1524.5L1424.1 1530.7L1424.9 1540.5L1425.7 1551.9L1426.5 1563.6L1427.3 1574.5L1428.1 1583.9L1428.9 1591.6L1429.7 1597.6L1430.6 1602L1431.4 1605.2L1432.2 1607.3L1433 1608.7L1433.8 1609.6L1434.6 1610.1L1435.4 1610.2L1436.2 1610.1L1437 1609.7L1437.8 1609.1L1438.6 1608.3L1439.4 1607.2L1440.3 1606L1441.1 1604.8L1441.9 1603.7L1442.7 1603.1L1443.5 1603L1444.3 1603.7L1445.1 1604.8L1445.9 1606.1L1446.7 1607.5L1447.5 1608.8L1448.3 1609.8L1449.1 1610.7L1449.9 1611.4L1450.8 1612L1451.6 1612.3L1452.4 1612.6L1453.2 1612.7L1454 1612.7L1454.8 1612.6L1455.6 1612.4L1456.4 1612L1457.2 1611.3L1458 1610.1L1458.8 1608.5L1459.6 1606.1L1460.5 1603L1461.3 1599.1L1462.1 1594.5L1462.9 1589.5L1463.7 1584.4L1464.5 1579.9L1465.3 1576.6L1466.1 1575.1L1466.9 1575.6L1467.7 1578.1L1468.5 1582L1469.3 1586.8L1470.1 1591.9L1471 1596.7L1471.8 1600.9L1472.6 1604.4L1473.4 1607L1474.2 1609L1475 1610.3L1475.8 1611.2L1476.6 1611.8L1477.4 1612.1L1478.2 1612.3L1479 1612.4L1479.8 1612.5L1480.7 1612.5L1481.5 1612.5L1482.3 1612.5L1483.1 1612.5L1483.9 1612.5L1484.7 1612.4L1485.5 1612.4L1486.3 1612.4L1487.1 1612.3L1487.9 1612.3L1488.7 1612.2L1489.5 1612.2L1490.3 1612.1L1491.2 1612L1492 1612L1492.8 1611.9L1493.6 1611.8L1494.4 1611.8L1495.2 1611.7L1496 1611.6L1496.8 1611.5L1497.6 1611.4L1498.4 1611.3L1499.2 1611.2L1500 1611L1500.9 1611.1L1501.7 1611.1L1502.5 1611.1L1503.3 1611L1504.1 1611L1504.9 1610.9L1505.7 1610.9L1506.5 1610.7L1507.3 1610.6L1508.1 1610.4L1508.9 1610.1L1509.7 1609.8L1510.5 1609.4L1511.4 1608.8L1512.2 1608.2L1513 1607.3L1513.8 1606.2L1514.6 1604.8L1515.4 1603.1L1516.2 1601.1L1517 1598.9L1517.8 1596.8L1518.6 1595.4L1519.4 1595L1520.2 1595.9L1521.1 1597.7L1521.9 1600L1522.7 1602.2L1523.5 1604.2L1524.3 1605.8L1525.1 1607.2L1525.9 1608.2L1526.7 1609.1L1527.5 1609.7L1528.3 1610.2L1529.1 1610.6L1529.9 1610.9L1530.7 1611.1L1531.6 1611.2L1532.4 1611.3L1533.2 1611.3L1534 1611.2L1534.8 1611.1L1535.6 1610.9L1536.4 1610.6L1537.2 1610.2L1538 1609.7L1538.8 1609L1539.6 1608.2L1540.4 1607.1L1541.3 1605.8L1542.1 1604L1542.9 1601.6L1543.7 1598.6L1544.5 1594.6L1545.3 1589.6L1546.1 1583.3L1546.9 1575.6L1547.7 1566.6L1548.5 1556.8L1549.3 1547.2L1550.1 1539.6L1550.9 1536.1L1551.8 1537.9L1552.6 1544.4L1553.4 1553.8L1554.2 1563.9L1555 1573.5L1555.8 1582L1556.6 1589L1557.4 1594.8L1558.2 1599.3L1559 1602.9L1559.8 1605.8L1560.6 1608L1561.5 1609.7L1562.3 1611.1L1563.1 1612.2L1563.9 1613.1L1564.7 1613.9L1565.5 1614.5L1566.3 1615L1567.1 1615.4L1567.9 1615.7L1568.7 1615.8L1569.5 1615.9L1570.3 1615.7L1571.1 1615.3L1572 1614.5L1572.8 1613.2L1573.6 1611L1574.4 1607.8L1575.2 1603.2L1576 1597L1576.8 1589L1577.6 1579.5L1578.4 1568.7L1579.2 1557.5L1580 1547L1580.8 1538.7L1581.7 1534.4L1582.5 1535L1583.3 1540.5L1584.1 1549.6L1584.9 1560.8L1585.7 1572.4L1586.5 1583.5L1587.3 1593.3L1588.1 1601.4L1588.9 1607.9L1589.7 1612.7L1590.5 1616.3L1591.3 1618.8L1592.2 1620.6L1593 1621.9L1593.8 1622.8L1594.6 1623.5L1595.4 1624.1L1596.2 1624.5L1597 1625L1597.8 1625.3L1598.6 1625.6L1599.4 1626L1600.2 1626.2L1601 1626.3L1601.9 1626.5L1602.7 1626.6L1603.5 1626.7L1604.3 1626.7L1605.1 1626.8L1605.9 1626.8L1606.7 1626.8L1607.5 1626.8L1608.3 1626.7L1609.1 1626.6L1609.9 1626.3L1610.7 1626L1611.5 1625.3L1612.4 1624.4L1613.2 1622.9L1614 1620.6L1614.8 1617.4L1615.6 1612.9L1616.4 1607.2L1617.2 1600.2L1618 1592.3L1618.8 1583.8L1619.6 1575.7L1620.4 1568.6L1621.2 1563.5L1622.1 1560.9L1622.9 1561.1L1623.7 1563.7L1624.5 1568.3L1625.3 1573.9L1626.1 1579.7L1626.9 1585.1L1627.7 1589.5L1628.5 1592.9L1629.3 1595.1L1630.1 1596.4L1630.9 1597.1L1631.7 1597.3L1632.6 1597.3L1633.4 1597.3L1634.2 1597.5L1635 1598L1635.8 1598.7L1636.6 1599.6L1637.4 1600.9L1638.2 1602.3L1639 1603.9L1639.8 1605.6L1640.6 1607.4L1641.4 1609.3L1642.3 1611.1L1643.1 1613L1643.9 1614.8L1644.7 1616.5L1645.5 1618.1L1646.3 1619.6L1647.1 1621.1L1647.9 1622.4L1648.7 1623.6L1649.5 1624.7L1650.3 1625.6L1651.1 1626.5L1651.9 1627.2L1652.8 1627.9L1653.6 1628.5L1654.4 1628.9L1655.2 1629.4L1656 1629.7L1656.8 1630.1L1657.6 1630.3L1658.4 1630.6L1659.2 1630.8L1660 1630.9L1660.8 1631.1L1661.6 1631.2L1662.5 1631.4L1663.3 1631.5L1664.1 1631.6L1664.9 1631.6L1665.7 1631.7L1666.5 1631.8L1667.3 1631.8L1668.1 1631.9L1668.9 1632L1669.7 1632L1670.5 1632.1L1671.3 1632.1L1672.1 1632.1L1673 1632.2L1673.8 1632.2L1674.6 1632.2L1675.4 1632.3L1676.2 1632.3L1677 1632.3L1677.8 1632.3L1678.6 1632.3L1679.4 1632.2L1680.2 1632.2L1681 1632.1L1681.8 1631.9L1682.7 1631.7L1683.5 1631.4L1684.3 1631L1685.1 1630.4L1685.9 1629.7L1686.7 1628.8L1687.5 1627.7L1688.3 1626.4L1689.1 1624.7L1689.9 1622.8L1690.7 1620.6L1691.5 1618.2L1692.3 1615.5L1693.2 1612.5L1694 1609.5L1694.8 1606.3L1695.6 1603.2L1696.4 1600.2L1697.2 1597.4L1698 1594.9L1698.8 1592.9L1699.6 1591.4L1700.4 1590.4L1701.2 1590L1702 1590.2L1702.9 1591L1703.7 1592.4L1704.5 1594.2L1705.3 1596.4L1706.1 1598.9L1706.9 1601.5L1707.7 1604.2L1708.5 1606.8L1709.3 1609.3L1710.1 1611.5L1710.9 1613.5L1711.7 1615.1L1712.5 1616.3L1713.4 1617.1L1714.2 1617.5L1715 1617.5L1715.8 1617.2L1716.6 1616.5L1717.4 1615.5L1718.2 1614.3L1719 1612.8L1719.8 1611.1L1720.6 1609.4L1721.4 1607.8L1722.2 1606.3L1723.1 1605.1L1723.9 1604.3L1724.7 1604L1725.5 1604.2L1726.3 1605L1727.1 1606.2L1727.9 1607.7L1728.7 1609.4L1729.5 1611.3L1730.3 1613.1L1731.1 1614.9L1731.9 1616.6L1732.7 1618.2L1733.6 1619.7L1734.4 1621L1735.2 1622.2L1736 1623.3L1736.8 1624.2L1737.6 1625L1738.4 1625.7L1739.2 1626.3L1740 1626.8L1740.8 1627.2L1741.6 1627.6L1742.4 1627.9L1743.3 1628.2L1744.1 1628.4L1744.9 1628.6L1745.7 1628.7L1746.5 1628.8L1747.3 1628.8L1748.1 1628.8L1748.9 1628.8L1749.7 1628.7L1750.5 1628.6L1751.3 1628.5L1752.1 1628.3L1752.9 1628.1L1753.8 1627.8L1754.6 1627.5L1755.4 1627.1L1756.2 1626.6L1757 1626.1L1757.8 1625.5L1758.6 1624.9L1759.4 1624.2L1760.2 1623.5L1761 1622.8L1761.8 1622.1L1762.6 1621.4L1763.5 1620.8L1764.3 1620.4L1765.1 1620.1L1765.9 1620L1766.7 1620.1L1767.5 1620.4L1768.3 1620.8L1769.1 1621.4L1769.9 1622L1770.7 1622.6L1771.5 1623.1L1772.3 1623.7L1773.1 1624.1L1774 1624.5L1774.8 1624.8L1775.6 1624.9L1776.4 1625L1777.2 1625L1778 1624.9L1778.8 1624.7L1779.6 1624.4L1780.4 1624.1L1781.2 1623.7L1782 1623.4L1782.8 1623.1L1783.7 1622.8L1784.5 1622.6L1785.3 1622.6L1786.1 1622.7L1786.9 1623L1787.7 1623.3L1788.5 1623.8L1789.3 1624.4L1790.1 1625L1790.9 1625.6L1791.7 1626.2L1792.5 1626.7L1793.3 1627.2L1794.2 1627.7L1795 1628.1L1795.8 1628.5L1796.6 1628.8L1797.4 1629.1L1798.2 1629.3L1799 1629.5L1799.8 1629.6L1800.6 1629.7L1801.4 1629.7L1802.2 1629.7L1803 1629.6L1803.9 1629.5L1804.7 1629.3L1805.5 1629L1806.3 1628.7L1807.1 1628.3L1807.9 1627.8L1808.7 1627.3L1809.5 1626.6L1810.3 1625.8L1811.1 1624.9L1811.9 1623.9L1812.7 1622.8L1813.5 1621.5L1814.4 1620.1L1815.2 1618.6L1816 1617.1L1816.8 1615.5L1817.6 1613.9L1818.4 1612.4L1819.2 1611.1L1820 1610L1820.8 1609.3L1821.6 1609L1822.4 1609.2L1823.2 1609.7L1824.1 1610.5L1824.9 1611.6L1825.7 1612.8L1826.5 1613.9L1827.3 1615.1L1828.1 1616L1828.9 1616.9L1829.7 1617.5L1830.5 1617.9L1831.3 1618.1L1832.1 1618.2L1832.9 1618L1833.7 1617.8L1834.6 1617.4L1835.4 1617L1836.2 1616.6L1837 1616.2L1837.8 1616L1838.6 1615.9L1839.4 1616L1840.2 1616.3L1841 1616.8L1841.8 1617.5L1842.6 1618.4L1843.4 1619.5L1844.3 1620.6L1845.1 1621.8L1845.9 1623L1846.7 1624.3L1847.5 1625.4L1848.3 1626.5L1849.1 1627.6L1849.9 1628.5L1850.7 1629.2L1851.5 1629.8L1852.3 1630.2L1853.1 1630.6L1853.9 1630.9L1854.8 1631.1L1855.6 1631.3L1856.4 1631.4L1857.2 1631.4L1858 1631.4L1858.8 1631.4L1859.6 1631.3L1860.4 1631.2L1861.2 1631.1L1862 1631L1862.8 1630.9L1863.6 1630.7L1864.5 1630.6L1865.3 1630.5L1866.1 1630.3L1866.9 1630.1L1867.7 1630L1868.5 1629.8L1869.3 1629.7L1870.1 1629.5L1870.9 1629.3L1871.7 1629.1L1872.5 1628.9L1873.3 1628.8L1874.1 1628.6L1875 1628.4L1875.8 1628.2L1876.6 1628L1877.4 1627.8L1878.2 1627.6L1879 1627.3L1879.8 1627.1L1880.6 1626.9L1881.4 1626.7L1882.2 1626.4L1883 1626.2L1883.8 1625.9L1884.7 1625.7L1885.5 1625.4L1886.3 1625.2L1887.1 1624.9L1887.9 1624.6L1888.7 1624.3L1889.5 1624L1890.3 1623.6L1891.1 1623.3L1891.9 1622.9L1892.7 1622.6L1893.5 1622.2L1894.3 1621.7L1895.2 1621.3L1896 1620.8L1896.8 1620.3L1897.6 1619.8L1898.4 1619.2L1899.2 1618.5L1900 1617.8L1900.8 1617.2L1901.6 1616.5L1902.4 1615.7L1903.2 1614.8L1904 1613.8L1904.9 1612.7L1905.7 1611.5L1906.5 1610.1L1907.3 1608.7L1908.1 1607L1908.9 1605.3L1909.7 1603.5L1910.5 1601.5L1911.3 1599.7L1912.1 1597.9L1912.9 1596.3L1913.7 1595L1914.5 1594.2L1915.4 1593.9L1916.2 1594.2L1917 1594.9L1917.8 1596.1L1918.6 1597.6L1919.4 1599.3L1920.2 1601.1L1921 1602.8L1921.8 1604.5L1922.6 1606.1L1923.4 1607.6L1924.2 1608.9L1925.1 1610.1L1925.9 1611.1L1926.7 1612L1927.5 1612.9L1928.3 1613.6L1929.1 1614.2L1929.9 1614.8L1930.7 1615.3L1931.5 1615.7L1932.3 1616.1L1933.1 1616.4L1933.9 1616.7L1934.7 1616.9L1935.6 1617.1L1936.4 1617.3L1937.2 1617.4L1938 1617.5L1938.8 1617.6L1939.6 1617.7L1940.4 1617.7L1941.2 1617.8L1942 1617.8L1942.8 1617.8L1943.6 1617.7L1944.4 1617.7L1945.3 1617.6L1946.1 1617.5L1946.9 1617.4L1947.7 1617.2L1948.5 1617L1949.3 1616.8L1950.1 1616.6L1950.9 1616.6L1951.7 1616.5L1952.5 1616.4L1953.3 1616.2L1954.1 1616L1954.9 1615.7L1955.8 1615.4L1956.6 1615L1957.4 1614.6L1958.2 1614.1L1959 1613.7L1959.8 1613.2L1960.6 1612.9L1961.4 1612.6L1962.2 1612.5L1963 1612.6L1963.8 1612.9L1964.6 1613.4L1965.5 1614.1L1966.3 1614.8L1967.1 1615.6L1967.9 1616.5L1968.7 1617.3L1969.5 1618.1L1970.3 1618.9L1971.1 1619.6L1971.9 1620.3L1972.7 1620.9L1973.5 1621.4L1974.3 1622L1975.1 1622.4L1976 1622.9L1976.8 1623.3L1977.6 1623.7L1978.4 1624L1979.2 1624.4L1980 1624.7L1980.8 1625L1981.6 1625.3L1982.4 1625.5L1983.2 1625.8L1984 1626L1984.8 1626.2L1985.7 1626.4L1986.5 1626.5L1987.3 1626.7L1988.1 1626.8L1988.9 1626.8L1989.7 1626.8L1990.5 1626.8L1991.3 1626.7L1992.1 1626.6L1992.9 1626.4L1993.7 1626.1L1994.5 1625.8L1995.3 1625.4L1996.2 1625L1997 1624.5L1997.8 1623.9L1998.6 1623.4L1999.4 1622.8L2000.2 1622.2L2001 1621.7L2001.8 1621.3L2002.6 1621L2003.4 1620.7L2004.2 1620.7L2005 1620.8L2005.9 1621.1L2006.7 1621.5L2007.5 1622.1L2008.3 1622.9L2009.1 1623.7L2009.9 1624.6L2010.7 1625.5L2011.5 1626.4L2012.3 1627.4L2013.1 1628.3L2013.9 1629.2L2014.7 1630L2015.5 1630.7L2016.4 1631.4L2017.2 1632.1L2018 1632.6L2018.8 1633.1L2019.6 1633.6L2020.4 1634L2021.2 1634.4L2022 1634.7L2022.8 1635L2023.6 1635.3L2024.4 1635.5L2025.2 1635.8L2026.1 1636L2026.9 1636.2L2027.7 1636.4L2028.5 1636.6L2029.3 1636.8L2030.1 1637L2030.9 1637.2L2031.7 1637.3L2032.5 1637.5L2033.3 1637.7L2034.1 1637.9L2034.9 1638L2035.7 1638.2L2036.6 1638.4L2037.4 1638.5L2038.2 1638.7L2039 1638.9L2039.8 1639L2040.6 1639.2L2041.4 1639.4L2042.2 1639.5L2043 1639.7L2043.8 1639.8L2044.6 1640L2045.4 1640.1L2046.3 1640.3L2047.1 1640.4L2047.9 1640.6L2048.7 1640.7L2049.5 1640.9L2050.3 1641L2051.1 1641L2051.9 1640.9L2052.7 1640.9L2053.5 1640.9L2054.3 1640.9L2055.1 1640.8L2055.9 1640.8L2056.8 1640.8L2057.6 1640.7L2058.4 1640.7L2059.2 1640.6L2060 1640.6L2060.8 1640.5L2061.6 1640.4L2062.4 1640.4L2063.2 1640.3L2064 1640.2L2064.8 1640.1L2065.6 1639.9L2066.5 1639.8L2067.3 1639.6L2068.1 1639.5L2068.9 1639.3L2069.7 1639L2070.5 1638.8L2071.3 1638.5L2072.1 1638.2L2072.9 1637.8L2073.7 1637.4L2074.5 1636.9L2075.3 1636.4L2076.1 1635.8L2077 1635.1L2077.8 1634.4L2078.6 1633.6L2079.4 1632.8L2080.2 1631.9L2081 1630.9L2081.8 1630L2082.6 1629.1L2083.4 1628.3L2084.2 1627.5L2085 1627L2085.8 1626.6L2086.7 1626.4L2087.5 1626.4L2088.3 1626.4L2089.1 1626.5L2089.9 1626.5L2090.7 1626.5L2091.5 1626.4L2092.3 1626.2L2093.1 1625.9L2093.9 1625.5L2094.7 1624.9L2095.5 1624.3L2096.3 1623.6L2097.2 1623L2098 1622.4L2098.8 1622L2099.6 1621.9L2100.4 1622L2101.2 1622.4L2102 1623.1L2102.8 1624L2103.6 1625.1L2104.4 1626.3L2105.2 1627.6L2106 1628.8L2106.9 1630L2107.7 1631.1L2108.5 1632.1L2109.3 1633.1L2110.1 1633.9L2110.9 1634.6L2111.7 1635.2L2112.5 1635.7L2113.3 1636.1L2114.1 1636.3L2114.9 1636.5L2115.7 1636.5L2116.5 1636.5L2117.4 1636.4L2118.2 1636.2L2119 1635.9L2119.8 1635.6L2120.6 1635.3L2121.4 1634.9L2122.2 1634.5L2123 1634.1L2123.8 1633.8L2124.6 1633.6L2125.4 1633.4L2126.2 1633.4L2127.1 1633.5L2127.9 1633.7L2128.7 1634L2129.5 1634.4L2130.3 1634.9L2131.1 1635.5L2131.9 1636.1L2132.7 1636.6L2133.5 1637.2L2134.3 1637.8L2135.1 1638.3L2135.9 1638.8L2136.7 1639.2L2137.6 1639.6L2138.4 1640L2139.2 1640.3L2140 1640.5L2140.8 1640.8L2141.6 1640.9L2142.4 1641.1L2143.2 1641.2L2144 1641.3L2144.8 1641.4L2145.6 1641.5L2146.4 1641.5L2147.3 1641.6L2148.1 1641.6L2148.9 1641.6L2149.7 1641.6L2150.5 1641.5L2151.3 1641.5L2152.1 1641.4L2152.9 1641.3L2153.7 1641.2L2154.5 1641.1L2155.3 1640.9L2156.1 1640.8L2156.9 1640.5L2157.8 1640.3L2158.6 1640L2159.4 1639.6L2160.2 1639.2L2161 1638.7L2161.8 1638.2L2162.6 1637.5L2163.4 1636.8L2164.2 1636.1L2165 1635.3L2165.8 1634.4L2166.6 1633.5L2167.5 1632.5L2168.3 1631.6L2169.1 1630.7L2169.9 1629.9L2170.7 1629.2L2171.5 1628.7L2172.3 1628.5L2173.1 1628.5L2173.9 1628.8L2174.7 1629.4L2175.5 1630.1L2176.3 1630.9L2177.1 1631.9L2178 1632.8L2178.8 1633.8L2179.6 1634.7L2180.4 1635.6L2181.2 1636.4L2182 1637.1L2182.8 1637.8L2183.6 1638.4L2184.4 1639L2185.2 1639.5L2186 1639.9L2186.8 1640.3L2187.7 1640.6L2188.5 1640.8L2189.3 1641.1L2190.1 1641.3L2190.9 1641.4L2191.7 1641.6L2192.5 1641.7L2193.3 1641.8L2194.1 1641.9L2194.9 1642L2195.7 1642.1L2196.5 1642.2L2197.3 1642.2L2198.2 1642.3L2199 1642.3L2199.8 1642.4L2200.6 1642.5L2201.4 1642.6L2202.2 1642.7L2203 1642.9L2203.8 1643L2204.6 1643.1L2205.4 1643.2L2206.2 1643.3L2207 1643.5L2207.9 1643.6L2208.7 1643.7L2209.5 1643.8L2210.3 1643.9L2211.1 1644L2211.9 1644.1L2212.7 1644.2L2213.5 1644.3L2214.3 1644.4L2215.1 1644.5L2215.9 1644.7L2216.7 1644.8L2217.5 1644.9L2218.4 1645L2219.2 1645.1L2220 1645.2L2220.8 1645.3L2221.6 1645.4L2222.4 1645.5L2223.2 1645.6L2224 1645.7L2224.8 1645.8L2225.6 1645.9L2226.4 1646L2227.2 1646.1L2228.1 1646.1L2228.9 1646.2L2229.7 1646.3L2230.5 1646.4L2231.3 1646.5L2232.1 1646.6L2232.9 1646.7L2233.7 1646.8L2234.5 1646.9L2235.3 1647L2236.1 1647.1L2236.9 1647.2L2237.7 1647.3L2238.6 1647.4L2239.4 1647.5L2240.2 1647.6L2241 1647.7L2241.8 1647.8L2242.6 1647.9L2243.4 1647.9L2244.2 1648L2245 1648.1L2245.8 1648.2L2246.6 1648.3L2247.4 1648.4L2248.3 1648.5L2249.1 1648.6L2249.9 1648.7L2250.7 1648.7L2251.5 1648.7L2252.3 1648.7L2253.1 1648.7L2253.9 1648.7L2254.7 1648.7L2255.5 1648.7L2256.3 1648.7L2257.1 1648.7L2257.9 1648.7L2258.8 1648.7L2259.6 1648.7L2260.4 1648.7L2261.2 1648.6L2262 1648.6L2262.8 1648.6L2263.6 1648.6L2264.4 1648.6L2265.2 1648.6L2266 1648.6L2266.8 1648.6L2267.6 1648.6L2268.5 1648.6L2269.3 1648.6L2270.1 1648.5L2270.9 1648.5L2271.7 1648.5L2272.5 1648.5L2273.3 1648.5L2274.1 1648.4L2274.9 1648.4L2275.7 1648.4L2276.5 1648.3L2277.3 1648.3L2278.1 1648.2L2279 1648.2L2279.8 1648.1L2280.6 1648L2281.4 1647.9L2282.2 1647.7L2283 1647.6L2283.8 1647.4L2284.6 1647.2L2285.4 1646.9L2286.2 1646.7L2287 1646.4L2287.8 1646.1L2288.7 1645.7L2289.5 1645.4L2290.3 1645L2291.1 1644.6L2291.9 1644.3L2292.7 1644L2293.5 1643.7L2294.3 1643.5L2295.1 1643.3L2295.9 1643.3L2296.7 1643.3L2297.5 1643.5L2298.3 1643.7L2299.2 1644L2300 1644.3L2300.8 1644.6L2301.6 1645L2302.4 1645.4L2303.2 1645.7L2304 1646.1L2304.8 1646.4L2305.6 1646.7L2306.4 1646.9L2307.2 1647.2L2308 1647.4L2308.9 1647.6L2309.7 1647.7L2310.5 1647.9L2311.3 1648L2312.1 1648.1L2312.9 1648.1" stroke="#ff0000" stroke-width="6.5"/>
<path d="M172.5 1890.1L173.3 1887.2L174.1 1889.8L174.9 1892.3L175.7 1888.2L176.5 1888.8L177.3 1890.3L178.2 1890.4L179 1889.9L179.8 1886.6L180.6 1889.8L181.4 1887.2L182.2 1887.8L183 1889.8L183.8 1888.6L184.6 1890.2L185.4 1893.7L186.2 1890.2L187 1890.1L187.9 1887.7L188.7 1888L189.5 1887.4L190.3 1888.2L191.1 1887.4L191.9 1888L192.7 1888.7L193.5 1887.5L194.3 1886.9L195.1 1887L195.9 1889.7L196.7 1889.1L197.5 1890.5L198.4 1890.6L199.2 1888.5L200 1890L200.8 1886.8L201.6 1892.4L202.4 1890.8L203.2 1888.7L204 1887.3L204.8 1889.6L205.6 1886.2L206.4 1887.8L207.2 1890.1L208.1 1889.1L208.9 1888.3L209.7 1890.4L210.5 1887.4L211.3 1889.4L212.1 1888.3L212.9 1887.7L213.7 1889.7L214.5 1887.5L215.3 1891.9L216.1 1888.1L216.9 1892L217.7 1887.4L218.6 1889.9L219.4 1887.2L220.2 1887L221 1889.2L221.8 1890L222.6 1887.1L223.4 1890.8L224.2 1887.8L225 1889.2L225.8 1889.6L226.6 1889.9L227.4 1886.3L228.3 1891.4L229.1 1889.8L229.9 1888.4L230.7 1887.5L231.5 1886.5L232.3 1887L232.8 1889.8L233.1 1888.5L233.9 1887.3L234.7 1888.2L235.5 1891.3L236.3 1888.5L237.1 1888.1L237.9 1891L238.8 1889.7L239.6 1889.1L240.4 1888.1L241.2 1886.7L242 1887.2L242.8 1888.3L243.6 1888.7L244.4 1889.5L245.2 1889.8L246 1889.3L246.8 1889.3L247.6 1887.5L248.5 1885.8L249.3 1888.2L250.1 1887.7L250.9 1889.7L251.7 1891.8L252.5 1891.8L253.3 1893.6L254.1 1896.6L254.9 1898.4L255.7 1897.6L256.5 1898.5L257.3 1896.5L258.1 1894.5L259 1895.2L259.8 1897.2L260.6 1892.5L261.4 1894.4L262.2 1893.7L263 1892.5L263.8 1887.6L264.6 1890.4L265.4 1886.2L266.2 1884.2L267 1882.8L267.8 1882.6L268.7 1880.4L269.5 1878.6L270.3 1879.4L271.1 1875L271.9 1873.1L272.7 1874.4L273.5 1872.9L274.3 1872L275.1 1867.4L275.9 1869.2L276.7 1866.8L277.5 1869.7L278.3 1866.3L279.2 1869.7L280 1870.1L280.8 1869.3L281.6 1879.6L282.4 1894.5L283.2 1904.2L284 1916L284.8 1930.5L285.6 1920.9L286.4 1904.5L286.5 1900.3L287.2 1886.5L288 1871.7L288.9 1876.6L289.7 1885.6L290.5 1897.2L291.3 1907.5L292.1 1912.6L292.9 1919.6L293.7 1921.5L294.5 1916.8L295.3 1912.7L296.1 1908.4L296.9 1901.9L297.7 1895.7L298.5 1891.6L299.4 1884.5L300.2 1880.5L301 1876.2L301.8 1878.6L302.6 1873.2L303.4 1868.1L304.2 1865.3L305 1863.5L305.8 1859.1L306.6 1857.9L307.4 1855.3L308.2 1855.2L309.1 1850.6L309.9 1847.5L310.7 1844L311.5 1841.7L312.3 1840.8L313.1 1837.9L313.9 1838.3L314.7 1840.2L315.5 1847.4L316.3 1850.8L317.1 1855L317.9 1856.6L318.7 1879L319.6 1904.7L320.4 1928.3L321.2 1949.1L322 1972.6L322.8 1993.5L323.6 1973.4L324.4 1937.6L325 1914L325.2 1903.8L326 1867.6L326.8 1853.7L327.6 1872.9L328.4 1890.4L329.3 1906.5L330.1 1928.1L330.9 1943.8L331.7 1961.2L332.5 1974.8L333.3 1963.4L334.1 1951.1L334.9 1941.3L335.7 1928.2L336.5 1918.2L337.3 1905.1L338.1 1899.6L338.9 1889.4L339.8 1891.9L340.6 1888.3L341.4 1886.7L342.2 1886.6L343 1885.9L343.8 1885.1L344.6 1885.5L345.4 1882L346.2 1881.5L347 1877.9L347.8 1878.5L348.6 1876.3L349.5 1875.5L350.3 1876.3L351.1 1876.6L351.9 1877.2L352.7 1877.8L353.5 1876.7L354.3 1876.6L355.1 1879.1L355.9 1875.6L356.7 1877.5L357.5 1881L358.3 1874.9L359.1 1878.1L360 1880.4L360.8 1877.2L361.6 1883.8L362.4 1876.3L363.2 1882.5L364 1883L364.8 1882.3L365.6 1881L366.4 1882.5L367.2 1881.2L368 1884.4L368.8 1882.1L369.7 1884L370.5 1886.5L371.3 1884L372.1 1885.7L372.9 1887.1L373.7 1885.5L374.5 1889.9L375.3 1889.2L376.1 1887.1L376.9 1889.9L377.7 1889.4L378.5 1890.2L379.3 1891.9L380.2 1890.7L381 1892.8L381.8 1890L382.6 1892.2L383.4 1890.3L384.2 1891.3L385 1888.8L385.8 1888.5L386.6 1887.2L387.4 1889.4L388.2 1889.6L389 1891L389.9 1889.4L390.7 1887.5L391.5 1886.4L392.3 1887L393.1 1886L393.9 1887.9L394.7 1886.7L395.5 1883.7L396.3 1883.6L397.1 1886.3L397.9 1884.4L398.7 1883.2L399.5 1885L400.4 1882.2L401.2 1882L402 1881.4L402.8 1879.1L403.6 1883.4L404.4 1880.4L405.2 1881.4L406 1881.2L406.8 1883.5L407.6 1882.3L408.4 1882.5L409.2 1880.1L410.1 1882.5L410.9 1880.5L411.7 1883.2L412.5 1883.4L413.3 1882.9L414.1 1886L414.9 1884.5L415.7 1886L416.5 1886.7L417.3 1887.6L418.1 1892.2L418.9 1903.2L419.7 1910.4L420.6 1924.7L421.4 1926.9L422.2 1921.2L423 1914L423.4 1908.1L423.8 1905.2L424.6 1903.3L425.4 1894.5L426.2 1891.3L427 1898.8L427.8 1902.6L428.6 1905.3L429.4 1908.1L430.3 1906.7L431.1 1907L431.9 1904.1L432.7 1901.3L433.5 1899.6L434.3 1897.6L435.1 1891.1L435.9 1891.3L436.7 1888.1L437.5 1885L438.3 1883.5L439.1 1881.8L439.9 1881.8L440.8 1880.2L441.6 1881.9L442.4 1885.8L443.2 1881.4L444 1880.6L444.8 1883.8L445.6 1884.5L446.4 1884.4L447.2 1882.3L448 1885.6L448.8 1883.2L449.6 1882.8L450.5 1883.8L451.3 1884.7L452.1 1886.2L452.9 1886.2L453.7 1885.5L454.5 1887.1L455.3 1886L456.1 1887.4L456.9 1884.2L457.7 1884.1L458.5 1887.8L459.3 1884.8L460.1 1886.6L461 1886.9L461.8 1886.3L462.6 1886.4L463.4 1889.2L464.2 1883.3L465 1888.5L465.8 1890.6L466.6 1887.2L467.4 1887.2L468.2 1888.3L469 1890L469.8 1885.5L470.7 1887.4L471.5 1887L472.3 1888.1L473.1 1887.6L473.9 1888.3L474.7 1886.7L475.5 1887.5L476.3 1886.4L477.1 1886.4L477.9 1887.2L478.7 1887.3L479.5 1885.7L480.3 1889.9L481.2 1887.3L482 1885.5L482.8 1889.2L483.6 1886.5L484.4 1888.4L485.2 1887.6L486 1888L486.8 1887.9L487.6 1886.8L488.4 1887.8L489.2 1890.8L490 1884.4L490.9 1887.9L491.7 1888.4L492.5 1886.2L493.3 1885.8L494.1 1891.1L494.9 1887.3L495.7 1891L496.5 1888.7L497.3 1888L498.1 1888.7L498.9 1888.9L499.7 1889.8L500.5 1888.7L501.4 1888.2L502.2 1888.3L503 1890.1L503.8 1889.3L504.6 1886.6L505.4 1887.1L506.2 1888.6L507 1887.2L507.8 1887.6L508.6 1886.7L509.4 1887.8L510.2 1888.8L511.1 1889.7L511.9 1888.2L512.7 1891.3L513.5 1888.1L514.3 1893L515.1 1889.8L515.9 1889L516.7 1887.5L517.5 1884.1L518.3 1888.1L519.1 1888.6L519.9 1891.2L520.7 1886.3L521.6 1891.2L522.4 1888L523.2 1889.5L524 1884.6L524.8 1888.6L525.6 1887.9L526.4 1889.5L527.2 1888.6L528 1886.8L528.8 1889.9L529.6 1889.5L530.4 1889.4L531.3 1890L532.1 1890.2L532.9 1888.5L533.7 1886.5L534.5 1886.5L535.3 1890.6L536.1 1889.7L536.9 1888.8L537.7 1888L538.5 1888.7L539.3 1888.7L540.1 1888.2L540.9 1887.6L541.8 1891.9L542.6 1889.1L543.4 1887.8L544.2 1886.8L545 1887.7L545.8 1889.8L546.6 1889.9L547.4 1888.5L548.2 1888.9L549 1888.4L549.8 1887.2L550.6 1890.8L551.5 1889.4L552.3 1892.6L553.1 1887.8L553.9 1888.7L554.7 1890.2L555.5 1888.6L556.3 1886.9L557.1 1887.5L557.9 1889.1L558.7 1889.5L559.5 1888.9L560.3 1890.5L561.1 1890.5L562 1889.5L562.8 1889L563.6 1888.6L564.4 1889.8L565.2 1890.4L566 1889.1L566.8 1889.7L567.6 1888.5L568.4 1886.9L569.2 1887.5L570 1890.1L570.8 1889.7L571.7 1891.4L572.5 1889.1L573.3 1890.3L574.1 1891L574.9 1890.5L575.7 1888.1L576.5 1888.7L577.3 1889.2L578.1 1887.5L578.3 1889.7L578.9 1890.5L579.7 1888.3L580.5 1892L581.3 1888.6L582.2 1888.7L583 1888.6L583.8 1887.9L584.6 1891.3L585.4 1893.1L586.2 1897.9L587 1898.7L587.8 1900.9L588.6 1902.1L589.4 1896.4L590.2 1892.7L591 1885.9L591.9 1882.9L592.7 1875.7L593.5 1872.5L594.3 1865.6L595.1 1860.5L595.9 1854.2L596.7 1848.9L597.5 1844.2L598.3 1838.8L599.1 1829.7L599.9 1824.8L600.7 1821.4L601.5 1810.7L602 1806.7L602.4 1803.1L603.2 1795.3L604 1792.7L604.8 1802.2L605.6 1820.7L606.4 1841.3L607.2 1860.5L608 1873.6L608.8 1894.8L609.6 1904.2L610.4 1901.9L611.2 1900.2L612.1 1897.5L612.9 1898.1L613.7 1894.7L614.5 1893.4L615.3 1894.5L616.1 1893.8L616.9 1892.9L617.7 1892.5L618.5 1894.4L619.3 1892.4L620.1 1891.3L620.9 1889.9L621.7 1890.5L622.6 1889.4L623.4 1891L624.2 1891.2L625 1887.7L625.8 1890.7L626.6 1891.6L627.4 1890.8L628.2 1889.1L629 1892.4L629.8 1889.4L630.6 1888.5L631.4 1888.7L632.3 1890.2L633.1 1891.6L633.9 1891.9L634.7 1890.4L635.5 1888.2L636.3 1889L637.1 1888.5L637.9 1889.6L638.7 1887.1L639.5 1889.9L640.3 1890.6L641.1 1889.4L641.9 1890.2L642.8 1888.1L643.6 1887.2L644.4 1888.4L645.2 1891L646 1890.8L646.8 1888.5L647.6 1890.9L648.4 1888.6L649.2 1891.3L650 1889.7L650.8 1888.2L651.6 1890L652.5 1887.6L653.3 1887.3L654.1 1886.5L654.9 1889L655.7 1888.5L656.5 1888.4L657.3 1887.8L658.1 1890.5L658.9 1887.7L659.7 1887.2L660.5 1890L661.3 1890.3L662.1 1888.6L663 1885.4L663.8 1883.9L664.6 1882.3L665.4 1877.9L666.2 1876.8L667 1869L667.8 1868.7L668.6 1863.3L669.4 1867.5L670.2 1869.2L671 1874.7L671.8 1876L672.7 1878.7L673.5 1883L674.3 1887.6L675.1 1890.5L675.9 1893.7L676.7 1893.9L677.5 1892.2L678.3 1890.2L679.1 1891.5L679.9 1890.6L680.7 1893.7L681.5 1891.9L682.3 1892.1L683.2 1890.7L684 1888.2L684.8 1890L685.6 1889.4L686.4 1891.6L687.2 1891.1L688 1889.7L688.8 1890.2L689.6 1893.1L690.4 1889.2L691.2 1889.2L692 1890.2L692.9 1889.4L693.7 1889.8L694.5 1891.1L695.3 1892.9L696.1 1887.5L696.9 1890.1L697.7 1890.1L698.5 1889.9L699.3 1889.6L700.1 1889.4L700.9 1891.3L701.7 1889L702.5 1889.5L703.4 1889.6L704.2 1889.7L705 1889.2L705.8 1890.9L706.6 1889.3L707.4 1889.5L708.2 1889.1L709 1887.6L709.8 1887.8L710.6 1887.4L711.4 1889.2L712.2 1887.8L713.1 1887.2L713.9 1889L714.7 1889.4L715.5 1885.9L716.3 1891L717.1 1888.5L717.9 1888.2L718.7 1889.9L719.5 1888.3L720.3 1887.2L721.1 1891.4L721.9 1886.4L722.7 1886.7L723.6 1886.9L724.4 1882.8L725.2 1883L726 1882.5L726.8 1884.2L727.6 1878.1L728.4 1878.1L729.2 1880L730 1880.3L730.8 1879.6L731.6 1883.2L732.4 1883.9L733.3 1885.6L734.1 1887.7L734.9 1887.5L735.7 1886.6L736.5 1886.5L737.3 1884.4L738.1 1885.8L738.9 1886.3L739.7 1885.4L740.5 1884.6L741.3 1880.7L742.1 1881.8L742.9 1880.3L743.8 1874L744.6 1872.7L745.4 1869.3L746.2 1869.1L747 1866L747.8 1868.5L748.6 1871.1L749.4 1874.6L750.2 1876L751 1881.5L751.8 1882.5L752.6 1887.4L753.5 1889.9L754.3 1894.3L755.1 1895.7L755.9 1900.3L756.7 1897.3L757.5 1897.4L758.3 1894L759.1 1892.4L759.9 1890L760.7 1889.2L761.5 1883.6L762.3 1886.5L763.1 1883.2L764 1886.7L764.8 1881.3L765.6 1882.2L766.4 1880.6L767.2 1886.8L768 1884.1L768.8 1887.8L769.6 1888.4L770.4 1888L771.2 1891.6L772 1894.5L772.8 1894.6L773.7 1897.6L774.5 1897L775.3 1896.8L776.1 1894.5L776.9 1893.9L777.7 1894.6L778.5 1890.6L779.3 1889.3L780.1 1888.1L780.9 1887.9L781.7 1891.2L782.5 1887.3L783.3 1887.6L784.2 1888.9L785 1888.4L785.8 1891.9L786.6 1885.5L787.4 1889.5L788.2 1890.1L789 1887.3L789.8 1888L790.6 1889.6L791.4 1891.4L792.2 1887.6L793 1886.6L793.9 1890.5L794.7 1891.3L795.5 1888.5L796.3 1885.7L797.1 1891.2L797.9 1888.7L798.7 1890.7L799.5 1888.9L800.3 1888.4L801.1 1888.3L801.9 1891.2L802.7 1891.2L803.5 1885.8L804.4 1887.6L805.2 1891.7L806 1888.4L806.8 1887L807.6 1889L808.4 1888.8L809.2 1888.9L810 1888.3L810.8 1888.5L811.6 1888.3L812.4 1889.5L813.2 1887.8L814.1 1888.6L814.9 1888.8L815.7 1891L816.5 1889.6L817.3 1888.8L818.1 1889.8L818.9 1889.6L819.7 1890.6L820.5 1889.8L821.3 1891.7L822.1 1891L822.9 1888.9L823.7 1888.4L824.6 1890.3L825.4 1889.8L826.2 1888.9L827 1886.8L827.8 1886.3L828.6 1889.5L829.4 1890.2L830.2 1891.2L831 1891.9L831.8 1899.1L832.6 1900.6L833.4 1902.1L834.3 1893.7L835.1 1883.5L835.9 1875.5L836.7 1871.3L837.5 1872.3L838.3 1870.3L839.1 1872.9L839.9 1873.9L840.7 1878.1L841.5 1880.1L842.3 1881.5L843.1 1885.9L843.9 1887.7L844.8 1892L845.6 1892.4L846.4 1890.3L847.2 1891.7L848 1891.6L848.8 1890.9L849.6 1892.6L850.4 1893.7L851.2 1890.4L852 1890.3L852.8 1887.4L853.6 1890.4L854.5 1889.8L855.3 1887.1L856.1 1890.6L856.9 1891L857.7 1888.9L858.5 1889.3L859.3 1888.2L860.1 1890.7L860.9 1887.2L861.7 1888.8L862.5 1892.1L863.3 1889.1L864.1 1889.6L865 1888.6L865.8 1886.9L866.6 1888.5L867.4 1889L868.2 1886.7L869 1888.6L869.8 1889.9L870.6 1889.5L871.4 1885.4L872.2 1886.1L873 1885.1L873.8 1889L874.7 1888.1L875.5 1888.1L876.3 1884.4L877.1 1880L877.9 1877.9L878.7 1874L879.5 1868.6L880.3 1866.2L881.1 1873.6L881.9 1882.9L882.7 1891L883.5 1899.4L884.3 1912.1L885.2 1922.8L885.5 1926.4L886 1921.9L886.8 1909.2L887.6 1899.1L888.4 1885.8L889.2 1873.8L890 1866.5L890.8 1872.4L891.6 1878.9L892.4 1882.5L893.2 1887.4L894 1890.1L894.9 1884.3L895.7 1874.7L896.5 1868.5L897.3 1858L898.1 1856L898.9 1873.9L899.7 1894.7L900.5 1917.2L901 1927.5L901.3 1923.2L902.1 1910.8L902.9 1897.3L903.7 1884.5L904.5 1872.6L905.4 1861L906.2 1848.2L907 1855.2L907.8 1862.5L908.6 1868.9L909.4 1877.5L910.2 1884.3L911 1895L911.8 1898.2L912.6 1904.9L913.4 1906.8L914.2 1900.7L915.1 1897.5L915.9 1897.2L916.7 1897.1L917.5 1893L918.3 1892.1L919.1 1889.4L919.9 1886.6L920.7 1889.9L921.5 1883.3L922.3 1882.4L923.1 1882.7L923.9 1884.2L924.7 1884.4L925.6 1885.2L926.4 1884.4L927.2 1882.3L928 1885.5L928.8 1884.4L929.6 1884.6L930.4 1883.1L931.2 1884.6L932 1884.6L932.8 1885.9L933.6 1883.9L934.4 1886.4L935.3 1886.7L936.1 1885.1L936.9 1886L937.7 1885.9L938.5 1888.7L939.3 1883.8L940.1 1887.3L940.9 1885.5L941.7 1887.6L942.5 1889.7L943.3 1887.7L944.1 1889.1L944.9 1887.8L945.8 1892.2L946.6 1890.9L947.4 1891.4L948.2 1887.9L949 1888.5L949.8 1891.9L950.6 1890.2L951.4 1890.4L952.2 1891.5L953 1887.3L953.8 1888L954.6 1884.6L955.5 1882.9L956.3 1878.9L957.1 1878.3L957.9 1874.2L958.7 1874.3L959.5 1878.4L960.3 1885.8L961.1 1893L961.9 1900.9L962.7 1903.6L963.5 1916.6L964.2 1911.7L964.3 1910.9L965.1 1902.4L966 1892.9L966.8 1886.3L967.6 1880.2L968.4 1877.9L969.2 1876.4L970 1877.6L970.8 1882.8L971.6 1880.9L972.4 1887L973.2 1885.5L974 1885.7L974.8 1890.2L975.7 1891.8L976.5 1887.4L977.3 1892.2L978.1 1889.7L978.9 1892.6L979.7 1890.1L980.5 1888.6L981.3 1892L982.1 1893L982.9 1895L983.7 1894.8L984.5 1893.5L985.3 1892.4L986.2 1892.2L987 1892.1L987.8 1891L988.6 1891.5L989.4 1887.7L990.2 1891.5L991 1890.8L991.8 1894.4L992.6 1891.3L993.4 1889.1L994.2 1890.3L995 1887.3L995.9 1887.9L996.7 1885.6L997.5 1890.2L998.3 1888.6L999.1 1885.6L999.9 1887L1000.7 1887.2L1001.5 1885.1L1002.3 1883.5L1003.1 1880.2L1003.9 1879.2L1004.7 1875.3L1005.5 1871.2L1006.4 1863.3L1007.2 1857.5L1008 1861.5L1008.8 1863.3L1009.6 1871.1L1010.4 1874.7L1011.2 1880L1012 1883.7L1012.8 1884.7L1013.6 1887.3L1014.4 1887.2L1015.2 1890.1L1016.1 1894.6L1016.9 1896.8L1017.7 1895.6L1018.5 1896L1019.3 1891.9L1020.1 1890.7L1020.9 1890.9L1021.7 1888.4L1022.5 1887.8L1023.3 1886.2L1024.1 1889.1L1024.9 1885.9L1025.7 1888.1L1026.6 1885.1L1027.4 1888.7L1028.2 1885.4L1029 1888L1029.8 1884.3L1030.6 1885.8L1031.4 1888.1L1032.2 1885L1033 1886.2L1033.8 1885.2L1034.6 1882.3L1035.4 1886.1L1036.3 1886.2L1037.1 1883.7L1037.9 1886.1L1038.7 1883.9L1039.5 1883.4L1040.3 1884.8L1041.1 1883.7L1041.9 1888L1042.7 1882.1L1043.5 1885.4L1044.3 1885.6L1045.1 1881L1045.9 1881.2L1046.8 1884.5L1047.6 1882.8L1048.4 1884L1049.2 1885L1050 1882.6L1050.8 1881.4L1051.6 1879L1052.4 1883.4L1053.2 1881.7L1054 1883.6L1054.8 1883.6L1055.6 1881.2L1056.5 1885.9L1057.3 1885L1058.1 1884.6L1058.9 1881.6L1059.7 1882.8L1060.5 1882.7L1061.3 1882.9L1062.1 1881.9L1062.9 1884.3L1063.7 1884L1064.5 1884.2L1065.3 1883L1066.1 1885.7L1067 1884.1L1067.8 1879.8L1068.6 1882.9L1069.4 1883.9L1070.2 1885.4L1071 1883.6L1071.8 1883.7L1072.6 1883.1L1073.4 1885.1L1074.2 1883.5L1075 1883.3L1075.8 1883.2L1076.7 1885.1L1077.5 1883.6L1078.3 1881.9L1079.1 1885.4L1079.9 1883.4L1080.7 1885.1L1081.5 1885.1L1082.3 1886.4L1083.1 1886.2L1083.9 1883.8L1084.7 1884.5L1085.5 1882.8L1086.3 1887.3L1087.2 1885.5L1088 1887L1088.8 1884.4L1089.6 1881.9L1090.4 1887.3L1091.2 1885.2L1092 1885.3L1092.8 1885.2L1093.6 1886.1L1094.4 1886L1095.2 1882.9L1096 1886.9L1096.9 1884.5L1097.7 1884.7L1098.5 1888L1099.3 1886.8L1100.1 1885L1100.9 1882.8L1101.7 1885.8L1102.5 1886.4L1103.3 1885.5L1104.1 1883.8L1104.9 1884.6L1105.7 1883.9L1106.5 1886.1L1107.4 1887.1L1108.2 1887.4L1109 1884.8L1109.8 1886.3L1110.6 1885.8L1111.4 1882.8L1112.2 1881.9L1113 1883.8L1113.8 1879.5L1114.6 1879.1L1115.4 1875.7L1116.2 1875L1117.1 1870.9L1117.9 1872L1118.7 1872.4L1119.5 1873.2L1120.3 1871.9L1121.1 1871.3L1121.9 1870.4L1122.7 1869.5L1123.5 1870.3L1124.3 1871.5L1125.1 1869.5L1125.9 1872.2L1126.7 1869.4L1127.6 1868.3L1128.4 1869.5L1129.2 1868.6L1130 1869.2L1130.8 1873L1131.6 1871.1L1132.4 1871.8L1133.2 1873.3L1134 1873.6L1134.8 1871L1135.6 1873.8L1136.4 1872.5L1137.3 1872.8L1138.1 1876.1L1138.9 1875.9L1139.7 1879.4L1140.5 1883.1L1141.3 1886.7L1142.1 1887.9L1142.9 1890.8L1143.7 1895.1L1144.5 1898.4L1145.3 1900L1146.1 1902.6L1146.9 1898.3L1147.8 1896.7L1148.6 1895.9L1149.4 1893.2L1150.2 1891.2L1151 1892.7L1151.8 1888.1L1152.6 1886.5L1153.4 1888.7L1154.2 1890.7L1155 1888.1L1155.8 1889.8L1156.6 1887.3L1157.5 1887.2L1158.3 1886.9L1159.1 1887.7L1159.9 1890.7L1160.7 1886.2L1161.5 1890.3L1162.3 1886.4L1163.1 1887.5L1163.9 1889.1L1164.7 1888.8L1165.5 1888.2L1166.3 1885.3L1167.1 1888.3L1168 1886.3L1168.8 1891.6L1169.6 1887.4L1170.4 1888L1171.2 1886L1172 1887L1172.8 1885.8L1173.6 1889.2L1174.4 1887.3L1175.2 1888.5L1176 1886.7L1176.8 1886.9L1177.7 1889.6L1178.5 1886.2L1179.3 1884.9L1180.1 1888.2L1180.9 1885.9L1181.7 1887L1182.5 1889L1183.3 1886.4L1184.1 1888.9L1184.9 1886.5L1185.7 1889.8L1186.5 1889.5L1187.3 1886.8L1188.2 1887.2L1189 1886.3L1189.8 1887.8L1190.6 1889.2L1191.4 1885.3L1192.2 1888.8L1193 1885.5L1193.8 1886.2L1194.6 1884.8L1195.4 1890.6L1196.2 1887.5L1197 1887.8L1197.9 1886.4L1198.7 1889L1199.5 1884.2L1200.3 1887.4L1201.1 1890.7L1201.9 1886.8L1202.7 1887.4L1203.5 1888.3L1204.3 1886.1L1205.1 1887.3L1205.9 1888.7L1206.7 1887.6L1207.5 1887.8L1208.4 1886.7L1209.2 1887.7L1210 1887.3L1210.8 1889.4L1211.6 1888.3L1212.4 1886.8L1213.2 1883.5L1214 1888.3L1214.8 1888.3L1215.6 1885.8L1216.4 1884.2L1217.2 1885.4L1218.1 1888.5L1218.9 1885.5L1219.7 1886.4L1220.5 1887.4L1221.3 1888.9L1222.1 1887.1L1222.9 1886.9L1223.7 1886.2L1224.5 1889.5L1225.3 1888.6L1226.1 1886.9L1226.9 1884.9L1227.7 1885.8L1228.6 1886.7L1229.4 1883L1230.2 1883.7L1231 1881.2L1231.8 1879.3L1232.6 1878.1L1233.4 1876.2L1234.2 1872.4L1235 1871.5L1235.8 1873.7L1236.6 1866.7L1237.4 1866.1L1238.3 1868.2L1239.1 1867.3L1239.9 1867.4L1240.7 1867.6L1241.5 1871.4L1242.3 1873.1L1243.1 1874.7L1243.9 1873.7L1244.7 1876.2L1245.5 1874.4L1246.3 1877.7L1247.1 1877.9L1247.9 1880.7L1248.8 1883.1L1249.6 1885.1L1250.4 1883.5L1251.2 1888.3L1252 1887.2L1252.8 1887.9L1253.6 1890.7L1254.4 1890.2L1255.2 1893.9L1256 1895.2L1256.8 1893.7L1257.6 1894L1258.5 1892L1259.3 1891.7L1260.1 1888.7L1260.9 1890.2L1261.7 1888L1262.5 1888.3L1263.3 1888.8L1264.1 1889.2L1264.9 1886.5L1265.7 1886.6L1266.5 1888.5L1267.3 1889.6L1268.1 1889.4L1269 1890.2L1269.8 1890.8L1270.6 1889.6L1271.4 1888.8L1272.2 1887.3L1273 1887.4L1273.8 1888.1L1274.6 1889.2L1275.4 1889.1L1276.2 1888.7L1277 1888.5L1277.8 1889.6L1278.7 1889L1279.5 1889.1L1280.3 1889.1L1281.1 1887.8L1281.9 1887.1L1282.7 1889.3L1283.5 1889.2L1284.3 1888.2L1285.1 1887.9L1285.9 1892L1286.7 1887.4L1287.5 1888.2L1288.3 1888.9L1289.2 1886.8L1290 1888.6L1290.8 1891.2L1291.6 1889.8L1292.4 1889.4L1293.2 1889.3L1294 1888.6L1294.8 1889.8L1295.6 1888.1L1296.4 1887.7L1297.2 1888.5L1298 1889.7L1298.9 1888.8L1299.7 1889.3L1300.5 1885.2L1301.3 1890L1302.1 1891.8L1302.9 1890.2L1303.7 1887.7L1304.5 1886.9L1305.3 1888.6L1306.1 1886.7L1306.9 1889.2L1307.7 1887.3L1308.5 1889.6L1309.4 1890.1L1310.2 1885L1311 1888.5L1311.8 1887L1312.6 1885.9L1313.4 1887.1L1314.2 1887.7L1315 1889.5L1315.8 1884.7L1316.6 1887.6L1317.4 1888L1318.2 1884.9L1319.1 1883.9L1319.9 1882L1320.7 1879.3L1321.5 1880.9L1322.3 1879.7L1323.1 1879.2L1323.9 1881L1324.7 1879L1325.5 1879.5L1326.3 1882.2L1327.1 1878.8L1327.9 1880.1L1328.7 1882.2L1329.6 1882.8L1330.4 1885.8L1331.2 1885.3L1332 1889.4L1332.8 1890L1333.6 1889.2L1334.4 1887.4L1335.2 1888.9L1336 1889.2L1336.8 1886.4L1337.6 1888.5L1338.4 1889.1L1339.3 1888.3L1340.1 1890.4L1340.9 1889.8L1341.7 1886.8L1342.5 1888.2L1343.3 1886.7L1344.1 1888.9L1344.9 1886.7L1345.7 1889.4L1346.5 1888.6L1347.3 1889.5L1348.1 1887.8L1348.9 1885.8L1349.8 1890.6L1350.6 1887.7L1351.4 1890.1L1352.2 1888.6L1353 1889L1353.8 1890.7L1354.6 1888.5L1355.4 1890.1L1356.2 1885.8L1357 1889.3L1357.8 1887.6L1358.6 1887.8L1359.5 1888L1360.3 1888.5L1361.1 1890.5L1361.9 1885.2L1362.7 1888.1L1363.5 1886.9L1364.3 1889.7L1365.1 1887.4L1365.9 1888.7L1366.7 1887.4L1367.5 1889L1368.3 1889.5L1369.1 1887.4L1370 1888.1L1370.8 1885.9L1371.6 1888.5L1372.4 1889.3L1373.2 1887.2L1374 1889.7L1374.8 1884.9L1375.6 1885.2L1376.4 1885.9L1377.2 1887.3L1378 1888L1378.8 1887.9L1379.7 1887.9L1380.5 1889.1L1381.3 1887.3L1382.1 1886L1382.9 1884.7L1383.7 1888.4L1384.5 1880.4L1385.3 1882.4L1386.1 1883.5L1386.9 1880.8L1387.7 1877.5L1388.5 1877.4L1389.3 1879.3L1390.2 1881.2L1391 1879.5L1391.8 1883.4L1392.6 1884.1L1393.4 1886.8L1394.2 1888.7L1395 1887.5L1395.8 1885.8L1396.6 1888.6L1397.4 1890.7L1398.2 1889L1399 1888.3L1399.9 1891.6L1400.7 1886.4L1401.5 1889.4L1402.3 1887.1L1403.1 1888.1L1403.9 1888.1L1404.7 1890.3L1405.5 1886.6L1406.3 1887.2L1407.1 1885.6L1407.9 1888.7L1408.7 1887.3L1409.5 1888.6L1410.4 1886.4L1411.2 1887.5L1412 1889.6L1412.8 1887.7L1413.6 1888.9L1414.4 1888.8L1415.2 1887.5L1416 1885.7L1416.8 1889.5L1417.6 1888.3L1418.4 1890.9L1419.2 1889L1420.1 1892.1L1420.9 1893.9L1421.7 1898.4L1422.5 1903.9L1423.3 1904L1424.1 1900.7L1424.9 1898.5L1425.7 1897L1426.5 1893L1427.3 1891.6L1428.1 1889.2L1428.9 1885.7L1429.7 1888.4L1430.6 1891L1431.4 1888.4L1432.2 1888.8L1433 1888.1L1433.8 1888.3L1434.6 1890.7L1435.4 1888.6L1436.2 1887.5L1437 1884.3L1437.8 1888.1L1438.6 1886L1439.4 1886.3L1440.3 1890.2L1441.1 1890.1L1441.9 1886.1L1442.7 1890.3L1443.5 1889.7L1444.3 1887.8L1445.1 1890.1L1445.9 1886.6L1446.7 1887.2L1447.5 1886.8L1448.3 1887.3L1449.1 1890.3L1449.9 1887L1450.8 1887.3L1451.6 1887.6L1452.4 1889.3L1453.2 1888.5L1454 1890.3L1454.8 1887.9L1455.6 1887.1L1456.4 1888.2L1457.2 1889.1L1458 1887.6L1458.8 1889.4L1459.6 1891.7L1460.5 1888.1L1461.3 1889.1L1462.1 1891L1462.9 1888L1463.7 1887.7L1464.5 1887.3L1465.3 1889.6L1466.1 1889.8L1466.9 1888.8L1467.7 1889L1468.5 1890.9L1469.3 1890.3L1470.1 1886.9L1471 1889L1471.8 1889.1L1472.6 1890L1473.4 1888.6L1474.2 1888L1475 1888.3L1475.8 1886.3L1476.6 1888.9L1477.4 1888.1L1478.2 1889.7L1479 1887.4L1479.8 1888.3L1480.7 1887.5L1481.5 1887.4L1482.3 1890L1483.1 1888.3L1483.9 1889.6L1484.7 1887.3L1485.5 1889.1L1486.3 1886.4L1487.1 1888.2L1487.9 1888.2L1488.7 1889.8L1489.5 1889.2L1490.3 1888.7L1491.2 1890.2L1492 1889.2L1492.8 1889.7L1493.6 1890.1L1494.4 1888.8L1495.2 1888.5L1496 1889.4L1496.8 1888.3L1497.6 1889.5L1498.4 1890.6L1499.2 1890.2L1500 1888.3L1500.9 1886.1L1501.7 1887.1L1502.5 1886.1L1503.3 1887.1L1504.1 1884.1L1504.9 1883.5L1505.7 1884L1506.5 1881.4L1507.3 1881L1508.1 1884.2L1508.9 1884.8L1509.7 1884.5L1510.5 1885L1511.4 1884.2L1512.2 1887.5L1513 1887.7L1513.8 1889L1514.6 1888.1L1515.4 1888.9L1516.2 1888.6L1517 1889.4L1517.8 1891L1518.6 1889.4L1519.4 1886.4L1520.2 1887.4L1521.1 1886.4L1521.9 1887.6L1522.7 1889.6L1523.5 1889.4L1524.3 1887.9L1525.1 1889.1L1525.9 1887.6L1526.7 1886.6L1527.5 1886.6L1528.3 1887.4L1529.1 1890.8L1529.9 1886.7L1530.7 1890.5L1531.6 1890.6L1532.4 1888.4L1533.2 1888.5L1534 1887.7L1534.8 1888.5L1535.6 1889.6L1536.4 1888.6L1537.2 1890L1538 1890.3L1538.8 1889L1539.6 1889L1540.4 1888.4L1541.3 1889L1542.1 1886.8L1542.9 1889.1L1543.7 1888.7L1544.5 1887.1L1545.3 1891.6L1546.1 1886.9L1546.9 1887.1L1547.7 1888.8L1548.5 1885.5L1549.3 1887.2L1550.1 1886L1550.9 1886.9L1551.8 1888.1L1552.6 1888.8L1553.4 1889.9L1554.2 1889.5L1555 1890L1555.8 1889.1L1556.6 1887.5L1557.4 1889.9L1558.2 1887.5L1559 1887.3L1559.8 1890.5L1560.6 1889.3L1561.5 1888.5L1562.3 1889.3L1563.1 1889.4L1563.9 1886.1L1564.7 1887.9L1565.5 1886.3L1566.3 1888.2L1567.1 1887L1567.9 1890.1L1568.7 1888.8L1569.5 1886.8L1570.3 1888L1571.1 1886.2L1572 1888L1572.8 1888.8L1573.6 1888.3L1574.4 1885L1575.2 1887.2L1576 1887.6L1576.8 1886.3L1577.6 1886.7L1578.4 1882.1L1579.2 1883.9L1580 1881.3L1580.8 1881.6L1581.7 1881L1582.5 1880.6L1583.3 1878.4L1584.1 1880.7L1584.9 1879.9L1585.7 1880.6L1586.5 1884.7L1587.3 1885L1588.1 1883.8L1588.9 1886.1L1589.7 1888.6L1590.5 1891.2L1591.3 1890.5L1592.2 1890.1L1593 1886.2L1593.8 1888.8L1594.6 1889.6L1595.4 1889.5L1596.2 1889.5L1597 1888.6L1597.8 1891.5L1598.6 1891.1L1599.4 1888.8L1600.2 1887.4L1601 1892L1601.9 1888.1L1602.7 1890.7L1603.5 1891.8L1604.3 1887.5L1605.1 1889.3L1605.9 1888.4L1606.7 1889.7L1607.5 1889.4L1608.3 1891.8L1609.1 1889.8L1609.9 1888.9L1610.7 1890.6L1611.5 1888.5L1612.4 1888.4L1613.2 1892.3L1614 1887.7L1614.8 1888.2L1615.6 1889L1616.4 1887.3L1617.2 1885.7L1618 1890.5L1618.8 1887.7L1619.6 1888.1L1620.4 1888.4L1621.2 1887.4L1622.1 1887.3L1622.9 1889.2L1623.7 1892.5L1624.5 1890L1625.3 1890L1626.1 1886.7L1626.9 1888.9L1627.7 1887.1L1628.5 1890.1L1629.3 1888.6L1630.1 1889L1630.9 1888.8L1631.7 1888L1632.6 1886.6L1633.4 1889.8L1634.2 1886.8L1635 1887.1L1635.8 1888.5L1636.6 1887.9L1637.4 1889.3L1638.2 1890.4L1639 1889.3L1639.8 1889.2L1640.6 1888.9L1641.4 1890.2L1642.3 1886.1L1643.1 1889.5L1643.9 1887.5L1644.7 1887.1L1645.5 1888.9L1646.3 1888.3L1647.1 1889.8L1647.9 1890.6L1648.7 1885.4L1649.5 1888.8L1650.3 1891.8L1651.1 1890.2L1651.9 1891.1L1652.8 1889.1L1653.6 1886.8L1654.4 1887.2L1655.2 1890L1656 1890.3L1656.8 1887.8L1657.6 1888.5L1658.4 1889.3L1659.2 1886.3L1660 1888.4L1660.8 1891.3L1661.6 1892.2L1662.5 1888.7L1663.3 1891.7L1664.1 1888.1L1664.9 1887.7L1665.7 1885.6L1666.5 1890.3L1667.3 1888.4L1668.1 1892.4L1668.9 1889.4L1669.7 1889.2L1670.5 1886.2L1671.3 1891.2L1672.1 1888.4L1673 1888.7L1673.8 1885.6L1674.6 1890.3L1675.4 1890.4L1676.2 1888L1677 1889.1L1677.8 1889.5L1678.6 1890.4L1679.4 1889.1L1680.2 1891.5L1681 1888.6L1681.8 1888L1682.7 1888.2L1683.5 1885.1L1684.3 1887.7L1685.1 1890.4L1685.9 1889.3L1686.7 1887.7L1687.5 1889.4L1688.3 1885.9L1689.1 1888.5L1689.9 1889.7L1690.7 1890L1691.5 1887.8L1692.3 1890.3L1693.2 1891.7L1694 1888.3L1694.8 1890L1695.6 1886.6L1696.4 1886L1697.2 1889.8L1698 1889L1698.8 1889.2L1699.6 1888L1700.4 1888.5L1701.2 1890.1L1702 1891.6L1702.9 1890.3L1703.7 1889.8L1704.5 1895.8L1705.3 1896.4L1706.1 1898.1L1706.9 1899L1707.7 1903.8L1708.5 1900L1709.3 1899.1L1710.1 1893.9L1710.9 1894.2L1711.7 1892.4L1712.5 1891.8L1713.4 1890.7L1714.2 1887.8L1715 1891.5L1715.8 1887.3L1716.6 1888.2L1717.4 1889.2L1718.2 1887L1719 1889.7L1719.8 1889.7L1720.6 1888.3L1721.4 1891.6L1722.2 1888.9L1723.1 1889.1L1723.9 1887.3L1724.7 1886.2L1725.5 1887.7L1726.3 1888.2L1727.1 1888L1727.9 1889.8L1728.7 1885L1729.5 1886.9L1730.3 1885.8L1731.1 1890.6L1731.9 1887.7L1732.7 1887.7L1733.6 1886.8L1734.4 1889.8L1735.2 1887.8L1736 1888.8L1736.8 1885.4L1737.6 1890.2L1738.4 1889L1739.2 1889.2L1740 1890.2L1740.8 1888.1L1741.6 1888.1L1742.4 1889.4L1743.3 1888.9L1744.1 1887.9L1744.9 1888.3L1745.7 1887.5L1746.5 1889.3L1747.3 1889.6L1748.1 1888.2L1748.9 1891L1749.7 1885.8L1750.5 1887.8L1751.3 1890.7L1752.1 1887.5L1752.9 1885.7L1753.8 1890.2L1754.6 1888.9L1755.4 1886.2L1756.2 1889.2L1757 1886.5L1757.8 1886L1758.6 1887.7L1759.4 1887.2L1760.2 1885.7L1761 1884.8L1761.8 1881.8L1762.6 1881.3L1763.5 1879.1L1764.3 1878.2L1765.1 1874.4L1765.9 1871L1766.7 1873.4L1767.5 1877.6L1768.3 1882.8L1769.1 1884.3L1769.9 1884.6L1770.7 1889.5L1771.5 1887.2L1772.3 1890.5L1773.1 1888.4L1774 1890.1L1774.8 1889.9L1775.6 1888.5L1776.4 1889.4L1777.2 1887.3L1778 1888.8L1778.8 1890.6L1779.6 1895.1L1780.4 1890L1781.2 1889.1L1782 1887.4L1782.8 1890.5L1783.7 1886.4L1784.5 1887.7L1785.3 1889.5L1786.1 1887.1L1786.9 1891.2L1787.7 1890.6L1788.5 1888.1L1789.3 1888.1L1790.1 1886.9L1790.9 1886.8L1791.7 1889.6L1792.5 1889.9L1793.3 1889.5L1794.2 1889.3L1795 1888.1L1795.8 1889.5L1796.6 1886.7L1797.4 1888.9L1798.2 1891.1L1799 1890.9L1799.8 1888.2L1800.6 1888.4L1801.4 1891L1802.2 1891.6L1803 1886.7L1803.9 1888.3L1804.7 1889.3L1805.5 1890.8L1806.3 1887.7L1807.1 1889.9L1807.9 1888.5L1808.7 1892.5L1809.5 1888.7L1810.3 1886.5L1811.1 1884.8L1811.9 1885.5L1812.7 1883.5L1813.5 1879.5L1814.4 1880L1815.2 1877.6L1816 1880L1816.8 1880.8L1817.6 1882.3L1818.4 1884.8L1819.2 1885.9L1820 1889.7L1820.8 1890.1L1821.6 1888.6L1822.4 1887.2L1823.2 1890.1L1824.1 1885.9L1824.9 1886L1825.7 1890L1826.5 1889.9L1827.3 1890.4L1828.1 1888.6L1828.9 1887L1829.7 1888.2L1830.5 1889.8L1831.3 1887.8L1832.1 1887.9L1832.9 1886.8L1833.7 1887.2L1834.6 1890.2L1835.4 1889.6L1836.2 1887.2L1837 1887.3L1837.8 1888.1L1838.6 1889.8L1839.4 1887.2L1840.2 1888.7L1841 1885.7L1841.8 1887L1842.6 1889.6L1843.4 1890.3L1844.3 1887.2L1845.1 1887.8L1845.9 1890.1L1846.7 1888.3L1847.5 1888.1L1848.3 1889.7L1849.1 1889.2L1849.9 1890.6L1850.7 1890.1L1851.5 1888.1L1852.3 1888.8L1853.1 1888.8L1853.9 1886.9L1854.8 1887.5L1855.6 1890.4L1856.4 1886.5L1857.2 1890.4L1858 1889.4L1858.8 1888.7L1859.6 1889.7L1860.4 1889.7L1861.2 1890.8L1862 1888.3L1862.8 1888.6L1863.6 1888.6L1864.5 1891.8L1865.3 1890.4L1866.1 1887.5L1866.9 1888.4L1867.7 1887.9L1868.5 1889L1869.3 1889.3L1870.1 1892.4L1870.9 1886.2L1871.7 1890.5L1872.5 1889.6L1873.3 1887.9L1874.1 1888.7L1875 1888.2L1875.8 1889L1876.6 1890.5L1877.4 1886.7L1878.2 1890.9L1879 1888.4L1879.8 1891.2L1880.6 1889.6L1881.4 1890.8L1882.2 1889.8L1883 1890.6L1883.8 1889L1884.7 1887.7L1885.5 1890L1886.3 1890L1887.1 1892.1L1887.9 1885.9L1888.7 1888.6L1889.5 1890.5L1890.3 1887.1L1891.1 1888.6L1891.9 1892.1L1892.7 1891.1L1893.5 1887.6L1894.3 1891.1L1895.2 1890.7L1896 1890.1L1896.8 1889.5L1897.6 1889.3L1898.4 1887.6L1899.2 1888.2L1900 1890.1L1900.8 1889.2L1901.6 1891.7L1902.4 1888.5L1903.2 1885.3L1904 1888.5L1904.9 1889.4L1905.7 1889.5L1906.5 1889.1L1907.3 1887.7L1908.1 1891.2L1908.9 1888L1909.7 1890L1910.5 1888.5L1911.3 1887.2L1912.1 1891.1L1912.9 1885.2L1913.7 1887.7L1914.5 1889.6L1915.4 1888.4L1916.2 1890.1L1917 1888.8L1917.8 1888.3L1918.6 1892.2L1919.4 1888.6L1920.2 1888.7L1921 1887.3L1921.8 1887.8L1922.6 1889.9L1923.4 1889.8L1924.2 1889L1925.1 1887.9L1925.9 1890L1926.7 1886.4L1927.5 1888.5L1928.3 1888.6L1929.1 1887.7L1929.9 1889.2L1930.7 1888L1931.5 1887.8L1932.3 1891.7L1933.1 1890.1L1933.9 1890.8L1934.7 1889.1L1935.6 1890.4L1936.4 1890.2L1937.2 1890.8L1938 1892.5L1938.8 1888.6L1939.6 1889.4L1940.4 1888.9L1941.2 1883.7L1942 1886.9L1942.8 1889L1943.6 1889.9L1944.4 1888.1L1945.3 1890.7L1946.1 1890.9L1946.9 1888.4L1947.7 1891.1L1948.5 1891.6L1949.3 1889.7L1950.1 1887.5L1950.9 1891.2L1951.7 1888.7L1952.5 1888.4L1953.3 1889.2L1954.1 1888.2L1954.9 1890.6L1955.8 1890.2L1956.6 1890.8L1957.4 1889.9L1958.2 1887.8L1959 1888.8L1959.8 1890.3L1960.6 1888.4L1961.4 1893.4L1962.2 1888.6L1963 1888.1L1963.8 1890.7L1964.6 1890.1L1965.5 1889L1966.3 1888.7L1967.1 1889.6L1967.9 1890.3L1968.7 1890.1L1969.5 1888.5L1970.3 1889.6L1971.1 1890.3L1971.9 1890.1L1972.7 1884.4L1973.5 1887.7L1974.3 1887.8L1975.1 1888.7L1976 1889.3L1976.8 1890.4L1977.6 1889.9L1978.4 1888.8L1979.2 1888.8L1980 1890.2L1980.8 1885.4L1981.6 1885.6L1982.4 1886.3L1983.2 1883.3L1984 1878.5L1984.8 1882.2L1985.7 1882.2L1986.5 1883.8L1987.3 1886.7L1988.1 1887L1988.9 1887L1989.7 1889.9L1990.5 1889.7L1991.3 1889.2L1992.1 1889.5L1992.9 1889.4L1993.7 1888.5L1994.5 1888.3L1995.3 1889L1996.2 1887.6L1997 1887.1L1997.8 1891L1998.6 1888.6L1999.4 1889L2000.2 1888.8L2001 1889L2001.8 1889L2002.6 1889.1L2003.4 1887.8L2004.2 1890.4L2005 1888L2005.9 1890.6L2006.7 1886.1L2007.5 1887.4L2008.3 1890.5L2009.1 1888.8L2009.9 1888L2010.7 1889.6L2011.5 1887.4L2012.3 1889.1L2013.1 1885.7L2013.9 1888.3L2014.7 1888L2015.5 1889.8L2016.4 1890.3L2017.2 1887.7L2018 1891.4L2018.8 1888.1L2019.6 1885.9L2020.4 1885.4L2021.2 1891.3L2022 1888.9L2022.8 1888L2023.6 1887.9L2024.4 1887.4L2025.2 1891L2026.1 1888.9L2026.9 1891.7L2027.7 1888.7L2028.5 1885.5L2029.3 1890.3L2030.1 1888.4L2030.9 1888.6L2031.7 1891.4L2032.5 1888.6L2033.3 1890.7L2034.1 1889L2034.9 1887.9L2035.7 1889.8L2036.6 1888.1L2037.4 1890.8L2038.2 1890.4L2039 1889.1L2039.8 1889.9L2040.6 1889.8L2041.4 1888.6L2042.2 1890.3L2043 1888.7L2043.8 1889.9L2044.6 1887.6L2045.4 1889.2L2046.3 1889.6L2047.1 1887.8L2047.9 1888.4L2048.7 1888.2L2049.5 1890.1L2050.3 1887.9L2051.1 1889.7L2051.9 1891.3L2052.7 1889.5L2053.5 1886.6L2054.3 1889.2L2055.1 1890.6L2055.9 1888.6L2056.8 1890.7L2057.6 1889.9L2058.4 1889.6L2059.2 1888.6L2060 1888.2L2060.8 1888.6L2061.6 1889.1L2062.4 1889.8L2063.2 1889.6L2064 1888.6L2064.8 1889.1L2065.6 1889.6L2066.5 1886.6L2067.3 1887.9L2068.1 1887.8L2068.9 1888.7L2069.7 1888.6L2070.5 1888.6L2071.3 1887.7L2072.1 1890L2072.9 1889.4L2073.7 1886.6L2074.5 1889L2075.3 1887.3L2076.1 1891.6L2077 1888.3L2077.8 1888.4L2078.6 1889.1L2079.4 1888.7L2080.2 1888.9L2081 1891.3L2081.8 1889.4L2082.6 1890.3L2083.4 1890.7L2084.2 1887.6L2085 1891.6L2085.8 1890.1L2086.7 1890.5L2087.5 1887.7L2088.3 1890.3L2089.1 1889.6L2089.9 1888.2L2090.7 1892.5L2091.5 1889.9L2092.3 1888.7L2093.1 1889.3L2093.9 1890.4L2094.7 1890.7L2095.5 1889.9L2096.3 1890.9L2097.2 1891.2L2098 1887.2L2098.8 1888.3L2099.6 1887.6L2100.4 1889.2L2101.2 1891.2L2102 1890L2102.8 1887.5L2103.6 1888.6L2104.4 1890.6L2105.2 1888.2L2106 1888.9L2106.9 1889.5L2107.7 1886.3L2108.5 1890.2L2109.3 1889.5L2110.1 1889.9L2110.9 1887.6L2111.7 1887.9L2112.5 1888.1L2113.3 1889.4L2114.1 1889.1L2114.9 1889.2L2115.7 1891.7L2116.5 1891L2117.4 1888L2118.2 1888L2119 1891.6L2119.8 1888.6L2120.6 1891.1L2121.4 1891.4L2122.2 1888.2L2123 1888.6L2123.8 1889.2L2124.6 1887.7L2125.4 1887.6L2126.2 1888.4L2127.1 1890.3L2127.9 1888.4L2128.7 1888.7L2129.5 1888.3L2130.3 1887L2131.1 1891.3L2131.9 1885.5L2132.7 1888L2133.5 1889.9L2134.3 1886.9L2135.1 1889.9L2135.9 1890.9L2136.7 1887.7L2137.6 1889.3L2138.4 1887.4L2139.2 1889.8L2140 1889.2L2140.8 1889.4L2141.6 1891.1L2142.4 1889.7L2143.2 1891L2144 1890L2144.8 1887.2L2145.6 1889.4L2146.4 1889.8L2147.3 1886.9L2148.1 1891L2148.9 1889.1L2149.7 1889.6L2150.5 1887.7L2151.3 1889.1L2152.1 1889.5L2152.9 1888.5L2153.7 1889.1L2154.5 1885.8L2155.3 1891.1L2156.1 1887.4L2156.9 1885.8L2157.8 1887.6L2158.6 1887.8L2159.4 1889.3L2160.2 1885.9L2161 1886.6L2161.8 1883.5L2162.6 1887.1L2163.4 1883.4L2164.2 1884.4L2165 1880.3L2165.8 1884L2166.6 1882.7L2167.5 1886.2L2168.3 1887.5L2169.1 1885.3L2169.9 1887.1L2170.7 1887.3L2171.5 1886.8L2172.3 1888L2173.1 1887.6L2173.9 1886.9L2174.7 1889.2L2175.5 1889.9L2176.3 1887.1L2177.1 1888.3L2178 1889.1L2178.8 1888.8L2179.6 1888.1L2180.4 1890.4L2181.2 1890.4L2182 1890.2L2182.8 1888.9L2183.6 1892.2L2184.4 1891.8L2185.2 1888.6L2186 1889.1L2186.8 1891L2187.7 1888.1L2188.5 1889.9L2189.3 1889.4L2190.1 1888.2L2190.9 1889L2191.7 1887L2192.5 1888.5L2193.3 1886.3L2194.1 1892.8L2194.9 1891.6L2195.7 1891.2L2196.5 1889.8L2197.3 1890.9L2198.2 1891.3L2199 1890.9L2199.8 1890.8L2200.6 1888.1L2201.4 1890.1L2202.2 1888.7L2203 1887.7L2203.8 1887.8L2204.6 1890.1L2205.4 1891.1L2206.2 1887.5L2207 1892.1L2207.9 1891.7L2208.7 1889L2209.5 1888.9L2210.3 1889.5L2211.1 1891L2211.9 1889L2212.7 1887.9L2213.5 1890.1L2214.3 1886.5L2215.1 1889.8L2215.9 1891.4L2216.7 1890.1L2217.5 1890.8L2218.4 1890.4L2219.2 1890.8L2220 1889.9L2220.8 1888.5L2221.6 1889.4L2222.4 1889.6L2223.2 1891.6L2224 1892.2L2224.8 1890.4L2225.6 1888.6L2226.4 1888.7L2227.2 1889.5L2228.1 1891.9L2228.9 1890.3L2229.7 1889.7L2230.5 1888.7L2231.3 1891.2L2232.1 1890.3L2232.9 1889.8L2233.7 1890L2234.5 1892.4L2235.3 1889.7L2236.1 1892.5L2236.9 1891.8L2237.7 1890L2238.6 1891.3L2239.4 1889.8L2240.2 1888.7L2241 1889.6L2241.8 1888.6L2242.6 1890.8L2243.4 1890L2244.2 1890.9L2245 1891.3L2245.8 1885.4L2246.6 1890.5L2247.4 1887.4L2248.3 1890.3L2249.1 1888.8L2249.9 1890.3L2250.7 1892.2L2251.5 1887.6L2252.3 1890.4L2253.1 1890L2253.9 1887.3L2254.7 1891.1L2255.5 1890.2L2256.3 1889.4L2257.1 1889.1L2257.9 1895L2258.8 1889.6L2259.6 1887.5L2260.4 1888.9L2261.2 1889.7L2262 1889.7L2262.8 1890.2L2263.6 1888.7L2264.4 1891.1L2265.2 1889.6L2266 1888.3L2266.8 1889.1L2267.6 1889.8L2268.5 1891.6L2269.3 1891.1L2270.1 1889.9L2270.9 1890.4L2271.7 1890.7L2272.5 1893.5L2273.3 1889.5L2274.1 1891.1L2274.9 1891.5L2275.7 1889L2276.5 1890.8L2277.3 1890.7L2278.1 1889.8L2279 1891.4L2279.8 1892.1L2280.6 1892.2L2281.4 1890.3L2282.2 1890.8L2283 1894.1L2283.8 1888.9L2284.6 1890.9L2285.4 1891.9L2286.2 1890.8L2287 1891.6L2287.8 1890.9L2288.7 1891.8L2289.5 1892.6L2290.3 1890.3L2291.1 1891L2291.9 1890.6L2292.7 1890.1L2293.5 1890.7L2294.3 1889L2295.1 1891.9L2295.9 1893.3L2296.7 1893.3L2297.5 1892.7L2298.3 1889.3L2299.2 1893.1L2300 1889.7L2300.8 1890.7L2301.6 1893.6L2302.4 1889.2L2303.2 1892.1L2304 1891.3L2304.8 1890.6L2305.6 1889.6L2306.4 1891.5L2307.2 1890.2L2308 1892.5L2308.9 1892.8L2309.7 1888.9L2310.5 1890.2L2311.3 1890.5L2312.1 1889.2L2312.9 1889.3" stroke="#0000ff" stroke-width="2.3"/>
<path d="M172.5 814.9L173.3 814.8L174.1 814.5L174.9 814.2L175.7 814L176.5 814.2L177.3 814.8L178.2 814.9L179 814.6L179.8 814.4L180.6 814.6L181.4 814.8L182.2 814.3L183 814.2L183.8 814.3L184.6 814.2L185.4 814L186.2 813.2L187 813.1L187.9 812.7L188.7 813.1L189.5 813L190.3 813.6L191.1 813.6L191.9 813.9L192.7 813L193.5 812.7L194.3 812.6L195.1 813.3L195.9 812.8L196.7 812.6L197.5 812.1L198.4 812.2L199.2 812.4L200 812.3L200.8 812.3L201.6 812.1L202.4 811.9L203.2 811.6L204 811.1L204.8 810.9L205.6 810.3L206.4 809.9L207.2 809.8L208.1 809.3L208.9 809L209.7 808.1L210.5 807.7L211.3 807.3L212.1 806.8L212.9 805.7L213.7 804.1L214.5 803L215.3 802L216.1 800.7L216.9 798.9L217.7 797.2L218.6 795.2L219.4 792.3L220.2 789.1L221 784.7L221.8 780.4L222.6 774.2L223.4 766.8L224.2 756.6L225 743.1L225.8 722.8L226.6 691.7L227.4 646.5L228.3 583.4L229.1 499.4L229.9 395.5L230.7 278.1L231.5 166.4L232.3 89.7L232.8 74.5L233.1 79.4L233.9 141.3L234.7 248.7L235.5 367L236.3 475.4L237.1 564.3L237.9 632.6L238.8 681.7L239.6 715.2L240.4 738.3L241.2 753.8L242 765.5L242.8 773.7L243.6 779.9L244.4 784.6L245.2 788.3L246 791.9L246.8 794.5L247.6 797.2L248.5 798.5L249.3 800.4L250.1 801.2L250.9 802.3L251.7 803.3L252.5 804.6L253.3 806.2L254.1 807.8L254.9 808.6L255.7 809L256.5 809L257.3 809.9L258.1 810.6L259 810.9L259.8 811.4L260.6 812L261.4 812.1L262.2 812.2L263 812.3L263.8 812.6L264.6 813L265.4 812.9L266.2 813.8L267 814L267.8 814.5L268.7 814.2L269.5 814.3L270.3 813.8L271.1 813.8L271.9 814.1L272.7 814.2L273.5 814.9L274.3 814.4L275.1 815.4L275.9 815L276.7 815.8L277.5 815.7L278.3 815.6L279.2 815.9L280 816.4L280.8 816.9L281.6 816.5L282.4 816.1L283.2 815.9L284 816.4L284.8 816.3L285.6 816.7L286.4 816.2L286.5 816.2L287.2 815.9L288 816.5L288.9 816.7L289.7 817.5L290.5 817.1L291.3 817L292.1 816.7L292.9 816.6L293.7 816.8L294.5 816.8L295.3 817L296.1 816.6L296.9 816.5L297.7 817.1L298.5 817.4L299.4 817.3L300.2 817L301 817.6L301.8 817.5L302.6 817.4L303.4 816.8L304.2 816.8L305 817.1L305.8 817.3L306.6 817.9L307.4 817.4L308.2 817.6L309.1 817.4L309.9 817.6L310.7 817.2L311.5 817L312.3 817.5L313.1 817.7L313.9 818.1L314.7 817.8L315.5 817.8L316.3 817.6L317.1 817.8L317.9 817.8L318.7 818L319.6 817.8L320.4 818.3L321.2 818.5L322 818.6L322.8 818.1L323.6 817.5L324.4 817.7L325 818.2L325.2 818.6L326 818.5L326.8 818.4L327.6 818.7L328.4 818.8L329.3 818.5L330.1 818.7L330.9 818.1L331.7 818.5L332.5 818.2L333.3 818.8L334.1 819.1L334.9 819.5L335.7 818.9L336.5 817.8L337.3 817.6L338.1 817.7L338.9 818.2L339.8 818.2L340.6 818L341.4 817.4L342.2 817.2L343 817.7L343.8 818.3L344.6 818.3L345.4 818L346.2 817.6L347 817.6L347.8 817.5L348.6 817.5L349.5 817.7L350.3 818L351.1 818.6L351.9 818.2L352.7 818L353.5 817.6L354.3 817.6L355.1 817.9L355.9 818L356.7 818.4L357.5 818.4L358.3 819.3L359.1 818.8L360 818.9L360.8 818.3L361.6 818.7L362.4 818L363.2 817.9L364 818.2L364.8 818.6L365.6 818.7L366.4 818.4L367.2 818.8L368 818.8L368.8 818.2L369.7 817.7L370.5 817.1L371.3 816.8L372.1 816.9L372.9 817.8L373.7 818.8L374.5 818.7L375.3 818L376.1 818.3L376.9 818.7L377.7 819L378.5 818.7L379.3 818.6L380.2 818.9L381 819.1L381.8 819.1L382.6 818.6L383.4 818.6L384.2 818.3L385 819L385.8 818.4L386.6 818.6L387.4 818.3L388.2 818.3L389 818.8L389.9 819.3L390.7 819.5L391.5 819.3L392.3 818.9L393.1 818.3L393.9 818.1L394.7 818L395.5 818.8L396.3 818.4L397.1 818.4L397.9 818.3L398.7 819L399.5 819.1L400.4 819.2L401.2 819.3L402 819L402.8 818.9L403.6 817.9L404.4 818.5L405.2 818.9L406 819.7L406.8 819.4L407.6 819.2L408.4 819L409.2 818.7L410.1 818.6L410.9 818.5L411.7 819L412.5 819.2L413.3 819.2L414.1 818.6L414.9 818.2L415.7 818.7L416.5 819L417.3 819.2L418.1 818.6L418.9 818.1L419.7 818.1L420.6 818.4L421.4 818.6L422.2 818.6L423 818.2L423.4 818.4L423.8 817.9L424.6 817.9L425.4 817.6L426.2 818.4L427 818.2L427.8 818.6L428.6 818.8L429.4 818.9L430.3 818.5L431.1 818.1L431.9 818.2L432.7 818.1L433.5 818.2L434.3 818.7L435.1 819L435.9 818.7L436.7 817.8L437.5 818L438.3 817.7L439.1 817.6L439.9 817.9L440.8 818L441.6 818.6L442.4 818.7L443.2 819L444 818.9L444.8 819L445.6 818.8L446.4 818.5L447.2 817.5L448 817.5L448.8 818.1L449.6 818.8L450.5 818.5L451.3 817.8L452.1 817.3L452.9 817.7L453.7 817.9L454.5 818.1L455.3 818.1L456.1 818L456.9 817.9L457.7 817.9L458.5 818L459.3 818.1L460.1 818.6L461 818.8L461.8 818.6L462.6 817.6L463.4 817.5L464.2 816.9L465 816.9L465.8 817.1L466.6 817.9L467.4 818.2L468.2 817.4L469 817.1L469.8 816.9L470.7 817.6L471.5 818.4L472.3 818.7L473.1 818.2L473.9 817.2L474.7 817.1L475.5 817.2L476.3 817.2L477.1 817.3L477.9 817L478.7 817.6L479.5 817.9L480.3 818.6L481.2 818.1L482 817.9L482.8 817.5L483.6 817.5L484.4 817.3L485.2 816.9L486 816.6L486.8 816.9L487.6 817.2L488.4 817.7L489.2 817.7L490 817.3L490.9 816.9L491.7 816.7L492.5 817.3L493.3 817.4L494.1 817.7L494.9 817.6L495.7 817.3L496.5 816.7L497.3 816.9L498.1 817.4L498.9 817.1L499.7 817.2L500.5 817.2L501.4 818.2L502.2 817.7L503 817.4L503.8 816.6L504.6 817.5L505.4 817.5L506.2 818.3L507 817.3L507.8 817.4L508.6 816.4L509.4 816.5L510.2 816.7L511.1 816.8L511.9 817.2L512.7 817L513.5 817.1L514.3 816.6L515.1 816.3L515.9 816.6L516.7 816.5L517.5 816.4L518.3 816.3L519.1 816.1L519.9 816L520.7 816L521.6 816.6L522.4 816.5L523.2 816.5L524 816L524.8 816.1L525.6 816.4L526.4 816.4L527.2 817.1L528 816.5L528.8 816.8L529.6 816.2L530.4 816.2L531.3 816.2L532.1 816.1L532.9 816.4L533.7 816L534.5 815.5L535.3 815L536.1 814.6L536.9 814.7L537.7 814L538.5 813.6L539.3 812.7L540.1 813.4L540.9 813.5L541.8 813.9L542.6 814L543.4 814.9L544.2 815.2L545 815L545.8 814.4L546.6 814.6L547.4 815L548.2 814.9L549 815L549.8 815L550.6 814.9L551.5 815.1L552.3 814.6L553.1 814.3L553.9 813.5L554.7 814.3L555.5 814.4L556.3 814.8L557.1 814.1L557.9 814L558.7 813.8L559.5 814.1L560.3 813.4L561.1 812.6L562 811.4L562.8 810.9L563.6 811.1L564.4 811.1L565.2 810.6L566 809.1L566.8 807.8L567.6 807.4L568.4 805.4L569.2 803.6L570 799.9L570.8 796.8L571.7 790.1L572.5 781.3L573.3 767.9L574.1 751.2L574.9 730.8L575.7 707.3L576.5 682.6L577.3 661.2L578.1 650L578.3 649.6L578.9 654.2L579.7 671.6L580.5 695.3L581.3 719.9L582.2 742.5L583 761.2L583.8 776.4L584.6 787.5L585.4 794.8L586.2 799.3L587 802.1L587.8 804.4L588.6 806.1L589.4 807.4L590.2 808.3L591 809.5L591.9 810.2L592.7 811.2L593.5 811.4L594.3 811.6L595.1 811.7L595.9 811.9L596.7 812.3L597.5 812.9L598.3 813.1L599.1 813.1L599.9 813.2L600.7 812.9L601.5 813.3L602 813.2L602.4 813.1L603.2 813.4L604 813.6L604.8 814.2L605.6 814.2L606.4 814.1L607.2 813.9L608 814L608.8 814L609.6 814.3L610.4 814.1L611.2 814.3L612.1 814.4L612.9 814.7L613.7 814.5L614.5 814.7L615.3 814.2L616.1 814.5L616.9 814.4L617.7 815L618.5 815L619.3 814.7L620.1 814.5L620.9 814.6L621.7 814.9L622.6 815.1L623.4 814.4L624.2 814.5L625 814.7L625.8 815.5L626.6 815.4L627.4 814.6L628.2 814.5L629 814.4L629.8 814.1L630.6 813.9L631.4 813.5L632.3 813.9L633.1 813.6L633.9 814.4L634.7 814.6L635.5 814.9L636.3 815L637.1 815.6L637.9 815.5L638.7 814.9L639.5 814L640.3 813.8L641.1 814L641.9 814.5L642.8 814.7L643.6 814.8L644.4 814.5L645.2 814.4L646 814.3L646.8 814.7L647.6 815L648.4 814.9L649.2 814.6L650 814.4L650.8 813.9L651.6 813.5L652.5 813.6L653.3 813.8L654.1 814.4L654.9 813.7L655.7 813.6L656.5 813.3L657.3 813.5L658.1 812.9L658.9 813L659.7 813.5L660.5 814.2L661.3 814.1L662.1 813.9L663 813.9L663.8 813.3L664.6 813.2L665.4 813.1L666.2 814.1L667 814.7L667.8 814.8L668.6 814.7L669.4 814.3L670.2 814.1L671 813.8L671.8 813.7L672.7 813.7L673.5 814.5L674.3 814.4L675.1 814.1L675.9 813.5L676.7 814L677.5 814L678.3 814.3L679.1 813.6L679.9 813.5L680.7 813L681.5 813.5L682.3 813.9L683.2 813.4L684 812.9L684.8 812.7L685.6 812.9L686.4 812.7L687.2 812.9L688 813.2L688.8 813.8L689.6 813.3L690.4 813.5L691.2 813.2L692 813.7L692.9 813.1L693.7 812.8L694.5 812.6L695.3 812.6L696.1 813L696.9 813L697.7 812.9L698.5 812.7L699.3 812.5L700.1 813L700.9 812.8L701.7 812.7L702.5 812.8L703.4 813.6L704.2 814.3L705 813.9L705.8 813.3L706.6 813.1L707.4 813L708.2 812.6L709 812.2L709.8 812.3L710.6 812.3L711.4 811.8L712.2 811.2L713.1 811.6L713.9 811.8L714.7 812.2L715.5 812L716.3 812.4L717.1 812.3L717.9 812.3L718.7 811.9L719.5 811.8L720.3 811.3L721.1 811.9L721.9 812L722.7 812L723.6 811.5L724.4 811.4L725.2 811.8L726 811.4L726.8 811.2L727.6 810.8L728.4 812L729.2 812.6L730 812.6L730.8 812L731.6 812.3L732.4 812.3L733.3 811.9L734.1 811.6L734.9 811.8L735.7 812.1L736.5 811.5L737.3 811.9L738.1 812.2L738.9 812.5L739.7 812.1L740.5 810.9L741.3 810.9L742.1 810.6L742.9 811.3L743.8 811.3L744.6 811.2L745.4 810.5L746.2 810.4L747 810.2L747.8 810.6L748.6 810.3L749.4 810.4L750.2 809.8L751 810.3L751.8 810.4L752.6 811.4L753.5 811.6L754.3 811.5L755.1 810.6L755.9 809.7L756.7 809.3L757.5 809.6L758.3 809.9L759.1 809.6L759.9 809.8L760.7 809.3L761.5 810L762.3 809.8L763.1 810.1L764 810L764.8 809.8L765.6 809.7L766.4 809.2L767.2 809.3L768 810L768.8 811.1L769.6 811.4L770.4 811.1L771.2 810.2L772 810.2L772.8 810L773.7 810.1L774.5 809.6L775.3 809.6L776.1 809.4L776.9 809.5L777.7 809.1L778.5 809.1L779.3 809.7L780.1 810L780.9 810L781.7 809.5L782.5 809.7L783.3 809.4L784.2 809.1L785 809.1L785.8 809.5L786.6 809.6L787.4 809.8L788.2 809.4L789 809.4L789.8 808.7L790.6 809.4L791.4 808.7L792.2 808.6L793 808L793.9 808.7L794.7 809.1L795.5 809.6L796.3 808.9L797.1 808.9L797.9 808.4L798.7 808.6L799.5 808.5L800.3 808.3L801.1 807.8L801.9 807.5L802.7 807.3L803.5 807.7L804.4 807.9L805.2 808.4L806 809L806.8 808.8L807.6 808.2L808.4 807.5L809.2 807.2L810 807.3L810.8 807.6L811.6 807.6L812.4 807.4L813.2 807.4L814.1 807.5L814.9 808.1L815.7 807.9L816.5 808.1L817.3 807.9L818.1 808.2L818.9 808.1L819.7 808.1L820.5 807.8L821.3 807.1L822.1 806.8L822.9 806.5L823.7 806.8L824.6 806.3L825.4 806.6L826.2 806.2L827 805.7L827.8 804L828.6 803L829.4 802.1L830.2 801L831 799.5L831.8 797.6L832.6 796.4L833.4 795L834.3 794.6L835.1 795.1L835.9 797.2L836.7 798.4L837.5 799.6L838.3 800.1L839.1 802L839.9 802.9L840.7 803.9L841.5 804.3L842.3 804.8L843.1 805L843.9 805.1L844.8 804.9L845.6 804.8L846.4 804.9L847.2 805.6L848 806L848.8 805.6L849.6 805.4L850.4 805.7L851.2 806.4L852 806.5L852.8 806L853.6 806L854.5 805.8L855.3 805.7L856.1 805.2L856.9 805.8L857.7 806.1L858.5 806.7L859.3 806L860.1 806.2L860.9 805.6L861.7 805.6L862.5 806L863.3 806.3L864.1 806.2L865 805.3L865.8 805.1L866.6 805.5L867.4 805.2L868.2 804.4L869 803.8L869.8 803.8L870.6 804.2L871.4 804.4L872.2 804.2L873 804L873.8 802.7L874.7 802.1L875.5 801.4L876.3 800.5L877.1 798.3L877.9 795L878.7 791.8L879.5 787.2L880.3 782.3L881.1 776.8L881.9 772.5L882.7 768.7L883.5 767.2L884.3 768L885.2 771.4L885.5 773.1L886 775.6L886.8 780.6L887.6 785.8L888.4 790.1L889.2 793.6L890 796.2L890.8 798.3L891.6 799.9L892.4 800.4L893.2 801.8L894 802.9L894.9 804.2L895.7 804.1L896.5 803.8L897.3 803.3L898.1 803.6L898.9 803.9L899.7 803.5L900.5 803.8L901 803.4L901.3 804.2L902.1 803.9L902.9 803.8L903.7 803.4L904.5 803.6L905.4 803.8L906.2 803.8L907 803.4L907.8 802.7L908.6 802.8L909.4 803.1L910.2 803.7L911 803.4L911.8 803.4L912.6 803.1L913.4 802.7L914.2 802.1L915.1 802.4L915.9 801.9L916.7 802L917.5 800.9L918.3 800.2L919.1 799.2L919.9 798L920.7 796L921.5 793.2L922.3 790.8L923.1 788.5L923.9 785.4L924.7 782.5L925.6 780.6L926.4 780.2L927.2 781.4L928 783.5L928.8 786.5L929.6 789.2L930.4 792L931.2 794.5L932 796.4L932.8 797.7L933.6 799L934.4 800L935.3 800.8L936.1 801.1L936.9 801.4L937.7 801.9L938.5 801.3L939.3 801.3L940.1 800.4L940.9 801.1L941.7 801.2L942.5 800.5L943.3 799.4L944.1 798.7L944.9 799L945.8 798.9L946.6 797.7L947.4 796.2L948.2 794.3L949 791.6L949.8 788.2L950.6 782.5L951.4 776.8L952.2 769.1L953 762.3L953.8 754.2L954.6 747.6L955.5 743.4L956.3 743L957.1 746.6L957.9 752.4L958.7 760.3L959.5 768.6L960.3 776.5L961.1 782.5L961.9 787.5L962.7 790.9L963.5 793.7L964.2 795.2L964.3 795.8L965.1 797.1L966 797.8L966.8 798.1L967.6 798.7L968.4 798.9L969.2 799.5L970 799.6L970.8 800.2L971.6 799.8L972.4 800.2L973.2 800.3L974 800.5L974.8 801.1L975.7 801.1L976.5 801.9L977.3 801.6L978.1 801.3L978.9 800.7L979.7 800.6L980.5 800.8L981.3 800.9L982.1 800.7L982.9 800.2L983.7 800.1L984.5 799.5L985.3 800.2L986.2 800L987 800.5L987.8 800.3L988.6 800.6L989.4 800.3L990.2 799.9L991 799.4L991.8 799.2L992.6 799.5L993.4 800.2L994.2 800.5L995 801L995.9 800.1L996.7 800.5L997.5 800.1L998.3 800.5L999.1 800.6L999.9 801.2L1000.7 801.2L1001.5 801.1L1002.3 800.2L1003.1 800.3L1003.9 800.2L1004.7 800.7L1005.5 800.5L1006.4 801.1L1007.2 800.2L1008 800.1L1008.8 799.9L1009.6 800.3L1010.4 800.1L1011.2 799.8L1012 799.4L1012.8 799.7L1013.6 800.5L1014.4 801.2L1015.2 800.8L1016.1 799.8L1016.9 799.3L1017.7 799.9L1018.5 799.9L1019.3 799.8L1020.1 799.7L1020.9 800.1L1021.7 800.2L1022.5 799.6L1023.3 798.8L1024.1 798.6L1024.9 798.3L1025.7 798.9L1026.6 798.8L1027.4 799.6L1028.2 799.9L1029 800.3L1029.8 799.8L1030.6 799.4L1031.4 799.3L1032.2 799.3L1033 798.6L1033.8 798.1L1034.6 797.7L1035.4 798.3L1036.3 797.4L1037.1 797.4L1037.9 796.6L1038.7 797L1039.5 797.1L1040.3 796.8L1041.1 796.4L1041.9 796L1042.7 794.5L1043.5 793.4L1044.3 791.3L1045.1 789.7L1045.9 786.8L1046.8 782.8L1047.6 777.5L1048.4 771.4L1049.2 764.6L1050 756.6L1050.8 748.9L1051.6 742.4L1052.4 737.3L1053.2 735.4L1054 737.9L1054.8 744.2L1055.6 751.7L1056.5 759L1057.3 766.3L1058.1 773.2L1058.9 778.9L1059.7 784L1060.5 787.6L1061.3 790.3L1062.1 791.7L1062.9 793.2L1063.7 794.1L1064.5 795.1L1065.3 796L1066.1 796.8L1067 797.3L1067.8 797.4L1068.6 797.5L1069.4 797.5L1070.2 797.5L1071 797.8L1071.8 797.7L1072.6 798.3L1073.4 798.1L1074.2 798.3L1075 797.8L1075.8 797.7L1076.7 798L1077.5 798L1078.3 798.6L1079.1 798.3L1079.9 797.9L1080.7 797.4L1081.5 797L1082.3 797.7L1083.1 798.3L1083.9 799.1L1084.7 798.7L1085.5 798.2L1086.3 798.5L1087.2 799L1088 799.3L1088.8 799.1L1089.6 799.7L1090.4 800.1L1091.2 799.8L1092 799.2L1092.8 799L1093.6 798.7L1094.4 798.3L1095.2 798.1L1096 798L1096.9 798.3L1097.7 798.3L1098.5 799.3L1099.3 799.1L1100.1 799L1100.9 798.2L1101.7 798.6L1102.5 799L1103.3 798.8L1104.1 798.5L1104.9 797.6L1105.7 797.5L1106.5 797.9L1107.4 798.4L1108.2 798.3L1109 798.1L1109.8 798L1110.6 798.5L1111.4 798.4L1112.2 798.3L1113 797.6L1113.8 797.4L1114.6 797.9L1115.4 797.8L1116.2 798L1117.1 797.6L1117.9 798.1L1118.7 798L1119.5 797.9L1120.3 798L1121.1 798.2L1121.9 797.6L1122.7 797.5L1123.5 797.3L1124.3 797.7L1125.1 797.8L1125.9 798.2L1126.7 798.6L1127.6 798.3L1128.4 798.4L1129.2 798.5L1130 798.9L1130.8 799L1131.6 798.6L1132.4 798.2L1133.2 798L1134 797.6L1134.8 797.7L1135.6 797.2L1136.4 797.5L1137.3 796.9L1138.1 796.7L1138.9 796.8L1139.7 797.5L1140.5 798L1141.3 798L1142.1 797.6L1142.9 797L1143.7 797.1L1144.5 797L1145.3 797.3L1146.1 797.6L1146.9 797.6L1147.8 796.9L1148.6 796L1149.4 795.4L1150.2 795.3L1151 795.8L1151.8 796L1152.6 795.6L1153.4 795.1L1154.2 794.8L1155 794.5L1155.8 793.1L1156.6 791.3L1157.5 789.8L1158.3 788L1159.1 785.8L1159.9 782.8L1160.7 779.4L1161.5 775.6L1162.3 771.6L1163.1 767.6L1163.9 765.2L1164.7 764.7L1165.5 766.3L1166.3 769.3L1167.1 772.7L1168 776.3L1168.8 780.2L1169.6 783.9L1170.4 787.2L1171.2 789.4L1172 791.4L1172.8 792.9L1173.6 792.9L1174.4 793.2L1175.2 793.5L1176 794.4L1176.8 795L1177.7 795.7L1178.5 796L1179.3 795.8L1180.1 796.1L1180.9 796.2L1181.7 796.3L1182.5 795.8L1183.3 796.1L1184.1 796.3L1184.9 796.5L1185.7 796.3L1186.5 796.3L1187.3 796.1L1188.2 796.5L1189 796.6L1189.8 796.7L1190.6 796.4L1191.4 797.5L1192.2 797.2L1193 797.6L1193.8 796.8L1194.6 796.9L1195.4 796.7L1196.2 797L1197 797.4L1197.9 797.3L1198.7 796.9L1199.5 796.3L1200.3 796.4L1201.1 796.7L1201.9 797.3L1202.7 797.3L1203.5 797.4L1204.3 797.4L1205.1 797.3L1205.9 796.5L1206.7 795.7L1207.5 795.2L1208.4 796.1L1209.2 796.2L1210 797L1210.8 796.7L1211.6 797.4L1212.4 797.3L1213.2 797L1214 796.4L1214.8 796L1215.6 795.9L1216.4 795.7L1217.2 795.4L1218.1 795.6L1218.9 794.8L1219.7 794.5L1220.5 793.1L1221.3 793.1L1222.1 792.5L1222.9 792L1223.7 791.4L1224.5 790L1225.3 789.9L1226.1 789.2L1226.9 789.9L1227.7 790L1228.6 790L1229.4 790.3L1230.2 791L1231 793L1231.8 794L1232.6 794.6L1233.4 794.3L1234.2 795L1235 795.9L1235.8 796.5L1236.6 796.3L1237.4 795.4L1238.3 795.7L1239.1 796.7L1239.9 797.5L1240.7 797.6L1241.5 797L1242.3 796.5L1243.1 796.6L1243.9 796.1L1244.7 796.3L1245.5 796L1246.3 796.7L1247.1 796.9L1247.9 796.9L1248.8 796.4L1249.6 795.9L1250.4 795.8L1251.2 795.8L1252 795.8L1252.8 795.4L1253.6 795.5L1254.4 795.3L1255.2 795.3L1256 794.9L1256.8 795.5L1257.6 796L1258.5 797.1L1259.3 796.6L1260.1 796.2L1260.9 795.9L1261.7 796.3L1262.5 796.3L1263.3 796.6L1264.1 796.5L1264.9 796.2L1265.7 795.2L1266.5 795.4L1267.3 795.7L1268.1 795.6L1269 795.1L1269.8 795.1L1270.6 795.5L1271.4 795.4L1272.2 795.1L1273 794.8L1273.8 794.1L1274.6 793.4L1275.4 792.9L1276.2 792.8L1277 791.7L1277.8 790.9L1278.7 790.7L1279.5 791.4L1280.3 790.4L1281.1 790.7L1281.9 789.8L1282.7 790.7L1283.5 790.4L1284.3 791.3L1285.1 791.3L1285.9 790.8L1286.7 790.8L1287.5 790.6L1288.3 790.2L1289.2 790.7L1290 791L1290.8 792.1L1291.6 790.7L1292.4 790.8L1293.2 790.6L1294 791.4L1294.8 791.1L1295.6 790.6L1296.4 790.5L1297.2 790.3L1298 790.7L1298.9 791.2L1299.7 792.1L1300.5 793L1301.3 793.3L1302.1 794.5L1302.9 795.2L1303.7 795.4L1304.5 795.3L1305.3 794.7L1306.1 794.6L1306.9 794.3L1307.7 793.9L1308.5 793.5L1309.4 792.3L1310.2 791.9L1311 791.5L1311.8 790.6L1312.6 789.4L1313.4 787.4L1314.2 786.1L1315 784.8L1315.8 785.1L1316.6 786.4L1317.4 787.6L1318.2 788L1319.1 788.8L1319.9 789.8L1320.7 791.5L1321.5 792.4L1322.3 793.5L1323.1 794.2L1323.9 794.5L1324.7 794.7L1325.5 794.3L1326.3 794.6L1327.1 794.4L1327.9 795L1328.7 795L1329.6 795.5L1330.4 795.8L1331.2 795.7L1332 795.4L1332.8 795.1L1333.6 795.7L1334.4 796.5L1335.2 797.1L1336 796.8L1336.8 796.7L1337.6 796L1338.4 796.6L1339.3 796L1340.1 795.6L1340.9 796L1341.7 796.6L1342.5 797.2L1343.3 796.4L1344.1 795.9L1344.9 796.3L1345.7 795.8L1346.5 795.6L1347.3 795.7L1348.1 796.3L1348.9 796.8L1349.8 796.7L1350.6 797.4L1351.4 796.8L1352.2 796.8L1353 795.6L1353.8 795.4L1354.6 795.7L1355.4 796L1356.2 796.6L1357 796.1L1357.8 796.1L1358.6 795.8L1359.5 795.7L1360.3 795.9L1361.1 796.2L1361.9 796.6L1362.7 796.5L1363.5 796L1364.3 795.9L1365.1 796.1L1365.9 796.6L1366.7 797.3L1367.5 797.6L1368.3 797.3L1369.1 796.5L1370 795.9L1370.8 795.7L1371.6 795.4L1372.4 795.6L1373.2 795.7L1374 796.2L1374.8 796.2L1375.6 796.3L1376.4 795.7L1377.2 796.3L1378 796.5L1378.8 797.4L1379.7 797.2L1380.5 797.4L1381.3 796.8L1382.1 796.8L1382.9 797.2L1383.7 796.9L1384.5 797L1385.3 796.7L1386.1 797.2L1386.9 797L1387.7 796.9L1388.5 796.6L1389.3 796.5L1390.2 795.8L1391 795.8L1391.8 795.5L1392.6 795.7L1393.4 795.9L1394.2 796.2L1395 795.7L1395.8 796.2L1396.6 796.3L1397.4 796.8L1398.2 795.9L1399 795.2L1399.9 794.7L1400.7 794.6L1401.5 793.8L1402.3 793.9L1403.1 794.8L1403.9 795.1L1404.7 795.6L1405.5 795.1L1406.3 795.9L1407.1 796.2L1407.9 795.9L1408.7 796L1409.5 796.1L1410.4 796.4L1411.2 796.3L1412 795.9L1412.8 795.8L1413.6 796.4L1414.4 796.1L1415.2 796.5L1416 795.6L1416.8 796.1L1417.6 795.8L1418.4 795.4L1419.2 795.2L1420.1 794.9L1420.9 795.5L1421.7 796L1422.5 796L1423.3 795.8L1424.1 795.8L1424.9 796.1L1425.7 796.9L1426.5 796.6L1427.3 796.3L1428.1 795.8L1428.9 796L1429.7 796.6L1430.6 796.6L1431.4 796.2L1432.2 795.9L1433 795.7L1433.8 796.3L1434.6 796.3L1435.4 796.1L1436.2 795.4L1437 795.6L1437.8 796.1L1438.6 796.2L1439.4 795.8L1440.3 795.6L1441.1 795.1L1441.9 794.9L1442.7 795.1L1443.5 795.4L1444.3 795.9L1445.1 796L1445.9 796.4L1446.7 796.2L1447.5 796.5L1448.3 796.5L1449.1 796.3L1449.9 795.9L1450.8 795.8L1451.6 795.6L1452.4 795.3L1453.2 795.1L1454 794.7L1454.8 794.6L1455.6 794.6L1456.4 795L1457.2 794.5L1458 794.4L1458.8 794.5L1459.6 794.9L1460.5 794.6L1461.3 794.7L1462.1 794.2L1462.9 794.4L1463.7 794.5L1464.5 794.6L1465.3 794.3L1466.1 794.1L1466.9 794L1467.7 793.9L1468.5 793.4L1469.3 793.5L1470.1 792.6L1471 791.8L1471.8 790.5L1472.6 790.1L1473.4 789L1474.2 787.7L1475 786.3L1475.8 783.9L1476.6 781.3L1477.4 777.7L1478.2 773.5L1479 768.7L1479.8 763.7L1480.7 758.6L1481.5 753.1L1482.3 748.1L1483.1 744.8L1483.9 744.2L1484.7 745.8L1485.5 749.1L1486.3 753.7L1487.1 759.1L1487.9 764.7L1488.7 770L1489.5 774.1L1490.3 778.1L1491.2 781.3L1492 785.1L1492.8 787.4L1493.6 789.2L1494.4 789.6L1495.2 790.7L1496 791.8L1496.8 792.6L1497.6 793.7L1498.4 793.9L1499.2 794.6L1500 794.2L1500.9 794.6L1501.7 793.9L1502.5 793.9L1503.3 793.8L1504.1 794.3L1504.9 793.8L1505.7 794.1L1506.5 794.2L1507.3 794.8L1508.1 794.5L1508.9 794.6L1509.7 794.9L1510.5 794.6L1511.4 794.5L1512.2 794.5L1513 794.9L1513.8 795.1L1514.6 794.9L1515.4 794.6L1516.2 794.7L1517 795.3L1517.8 795.2L1518.6 795.7L1519.4 795.6L1520.2 795.8L1521.1 795.6L1521.9 794.9L1522.7 794.6L1523.5 793.9L1524.3 794.3L1525.1 794.7L1525.9 794.9L1526.7 795.1L1527.5 794.5L1528.3 794.8L1529.1 794.4L1529.9 794.8L1530.7 794.6L1531.6 794.6L1532.4 794.4L1533.2 794.3L1534 794.6L1534.8 795.2L1535.6 795.7L1536.4 795.4L1537.2 794.9L1538 794.5L1538.8 794.9L1539.6 794.5L1540.4 795.2L1541.3 794.9L1542.1 795.3L1542.9 795L1543.7 795.5L1544.5 795.8L1545.3 796L1546.1 795.7L1546.9 796L1547.7 796L1548.5 796L1549.3 796L1550.1 795.7L1550.9 795.7L1551.8 795L1552.6 794.9L1553.4 795.1L1554.2 794.9L1555 795.2L1555.8 795.1L1556.6 795.5L1557.4 794.7L1558.2 794.5L1559 794.6L1559.8 795.1L1560.6 795.1L1561.5 794.2L1562.3 794.6L1563.1 794.4L1563.9 795.3L1564.7 794.5L1565.5 794.9L1566.3 794.6L1567.1 795.4L1567.9 794.8L1568.7 794.7L1569.5 795.1L1570.3 795L1571.1 794.9L1572 794.1L1572.8 793.9L1573.6 794.3L1574.4 794.8L1575.2 794.7L1576 793.6L1576.8 793.2L1577.6 793.5L1578.4 794.1L1579.2 794L1580 793.3L1580.8 793.1L1581.7 792.4L1582.5 792.4L1583.3 792.9L1584.1 793.3L1584.9 794.6L1585.7 794.5L1586.5 794.7L1587.3 794.4L1588.1 795L1588.9 795.4L1589.7 794.8L1590.5 794.4L1591.3 794.7L1592.2 794.9L1593 794.6L1593.8 794.4L1594.6 794.6L1595.4 794.5L1596.2 794L1597 793.7L1597.8 794L1598.6 794.1L1599.4 794.6L1600.2 794.6L1601 793.9L1601.9 793.5L1602.7 793.4L1603.5 793.7L1604.3 793.7L1605.1 793L1605.9 792.2L1606.7 791.9L1607.5 791.4L1608.3 790.7L1609.1 790.5L1609.9 790.3L1610.7 790.7L1611.5 789.9L1612.4 789.7L1613.2 789.5L1614 790L1614.8 790.7L1615.6 790.6L1616.4 791.3L1617.2 791.1L1618 791.8L1618.8 792L1619.6 792.6L1620.4 792.7L1621.2 793.3L1622.1 793.3L1622.9 794L1623.7 793.6L1624.5 794.4L1625.3 794.3L1626.1 794.6L1626.9 794L1627.7 794.5L1628.5 794L1629.3 794.2L1630.1 794.4L1630.9 794.8L1631.7 794.9L1632.6 795L1633.4 795.1L1634.2 794.8L1635 794.3L1635.8 793.9L1636.6 794.4L1637.4 794.6L1638.2 794.8L1639 794.2L1639.8 793.9L1640.6 794.1L1641.4 794L1642.3 794.1L1643.1 793.5L1643.9 793.6L1644.7 793.3L1645.5 793.8L1646.3 794.1L1647.1 793.8L1647.9 794L1648.7 793.9L1649.5 794.1L1650.3 793.5L1651.1 793.1L1651.9 793.4L1652.8 793.5L1653.6 793.9L1654.4 794.1L1655.2 794.7L1656 795.1L1656.8 794.7L1657.6 794L1658.4 793.9L1659.2 794L1660 794.7L1660.8 794.4L1661.6 794.6L1662.5 794.5L1663.3 794.7L1664.1 794.5L1664.9 794.3L1665.7 794.1L1666.5 794L1667.3 794.2L1668.1 793.9L1668.9 794.4L1669.7 794L1670.5 794.4L1671.3 793.9L1672.1 793.8L1673 794.1L1673.8 794L1674.6 793.6L1675.4 792.8L1676.2 792.7L1677 793.7L1677.8 793.9L1678.6 794.3L1679.4 793.3L1680.2 793.2L1681 793.1L1681.8 793.9L1682.7 793.5L1683.5 793.4L1684.3 792.9L1685.1 792.7L1685.9 792.4L1686.7 792.1L1687.5 791.6L1688.3 791.7L1689.1 791.8L1689.9 792.2L1690.7 791.5L1691.5 791.6L1692.3 791.6L1693.2 792L1694 791.7L1694.8 791.2L1695.6 790.7L1696.4 789.7L1697.2 789.2L1698 788.1L1698.8 787L1699.6 785.9L1700.4 784.1L1701.2 781.5L1702 777.9L1702.9 774L1703.7 769L1704.5 763.3L1705.3 756.9L1706.1 750.3L1706.9 743.7L1707.7 737.4L1708.5 733.3L1709.3 731.1L1710.1 731.5L1710.9 733.6L1711.7 738.7L1712.5 744.9L1713.4 751.6L1714.2 757.7L1715 763.9L1715.8 769.8L1716.6 774.4L1717.4 778.8L1718.2 781.2L1719 783.8L1719.8 784.7L1720.6 786.9L1721.4 787.5L1722.2 788.5L1723.1 788.7L1723.9 789.5L1724.7 789.3L1725.5 789L1726.3 788.3L1727.1 788.6L1727.9 788.6L1728.7 788.8L1729.5 788.4L1730.3 788.1L1731.1 787.8L1731.9 788L1732.7 788.5L1733.6 788L1734.4 787.8L1735.2 787.3L1736 788.1L1736.8 788.1L1737.6 788.4L1738.4 788.2L1739.2 789.1L1740 789.5L1740.8 790.1L1741.6 790.3L1742.4 790.5L1743.3 790.4L1744.1 790.8L1744.9 791.2L1745.7 791.9L1746.5 792.2L1747.3 792.7L1748.1 792.6L1748.9 792.2L1749.7 792.4L1750.5 793.3L1751.3 793.4L1752.1 792.6L1752.9 792.1L1753.8 792.2L1754.6 792.1L1755.4 792.3L1756.2 792.1L1757 792.3L1757.8 792.6L1758.6 792.7L1759.4 793.1L1760.2 793L1761 793.5L1761.8 793.4L1762.6 793.2L1763.5 792.7L1764.3 793.3L1765.1 793.5L1765.9 793.4L1766.7 792.9L1767.5 792.9L1768.3 793.3L1769.1 793.8L1769.9 794L1770.7 793.6L1771.5 793L1772.3 792.1L1773.1 792.3L1774 792.3L1774.8 793.4L1775.6 793.2L1776.4 792.3L1777.2 791.1L1778 790.8L1778.8 790.6L1779.6 790.1L1780.4 789.3L1781.2 788.9L1782 788.2L1782.8 786.8L1783.7 785.6L1784.5 783.9L1785.3 782.3L1786.1 779.9L1786.9 778.1L1787.7 776.8L1788.5 775.5L1789.3 775L1790.1 775L1790.9 775.9L1791.7 777.1L1792.5 778.1L1793.3 780.3L1794.2 782.3L1795 784.4L1795.8 785.1L1796.6 785.9L1797.4 787.3L1798.2 789.4L1799 790.6L1799.8 791.3L1800.6 791.2L1801.4 791.4L1802.2 791.3L1803 791.9L1803.9 791.6L1804.7 792L1805.5 792.4L1806.3 792.5L1807.1 791.9L1807.9 791.6L1808.7 791.7L1809.5 791.4L1810.3 791.5L1811.1 791.6L1811.9 792.1L1812.7 792.3L1813.5 792.1L1814.4 791.7L1815.2 790.6L1816 789.7L1816.8 789L1817.6 788.2L1818.4 787.3L1819.2 786.2L1820 785.1L1820.8 783.9L1821.6 782.5L1822.4 780.4L1823.2 778.6L1824.1 777.4L1824.9 776.2L1825.7 776.2L1826.5 775.7L1827.3 776.5L1828.1 776.9L1828.9 778.7L1829.7 780.7L1830.5 783.3L1831.3 784.9L1832.1 786.3L1832.9 787.1L1833.7 788.2L1834.6 788.8L1835.4 789.7L1836.2 790L1837 790.9L1837.8 791.3L1838.6 791.9L1839.4 791.8L1840.2 791.6L1841 792.5L1841.8 792.5L1842.6 793.5L1843.4 793.2L1844.3 793.5L1845.1 792.8L1845.9 793L1846.7 793.6L1847.5 793.7L1848.3 793.4L1849.1 793.2L1849.9 793.6L1850.7 794.3L1851.5 793.9L1852.3 794L1853.1 793L1853.9 793.8L1854.8 793.5L1855.6 793.2L1856.4 792.5L1857.2 792.7L1858 794L1858.8 793.9L1859.6 794L1860.4 793.6L1861.2 794.1L1862 794.1L1862.8 794.3L1863.6 794L1864.5 793.9L1865.3 793.6L1866.1 793.5L1866.9 793.3L1867.7 793.6L1868.5 793.2L1869.3 793.8L1870.1 793.7L1870.9 794.1L1871.7 793.5L1872.5 793.1L1873.3 793.3L1874.1 793.7L1875 793.9L1875.8 794L1876.6 793.6L1877.4 793.6L1878.2 792.8L1879 793.1L1879.8 793.1L1880.6 793.4L1881.4 793.4L1882.2 793.5L1883 792.7L1883.8 792.2L1884.7 791.4L1885.5 792.4L1886.3 792.9L1887.1 792.9L1887.9 792.3L1888.7 791L1889.5 790.8L1890.3 790.5L1891.1 790.3L1891.9 789.3L1892.7 788.9L1893.5 787.6L1894.3 787.3L1895.2 786.5L1896 786.5L1896.8 785.8L1897.6 785.1L1898.4 784.8L1899.2 785.4L1900 786.4L1900.8 786.7L1901.6 787.6L1902.4 788.1L1903.2 789.3L1904 790L1904.9 790.8L1905.7 791.4L1906.5 792L1907.3 792.1L1908.1 792.9L1908.9 792.3L1909.7 792.8L1910.5 792.4L1911.3 793L1912.1 792.5L1912.9 792.1L1913.7 792.2L1914.5 792.3L1915.4 793.1L1916.2 792.8L1917 793.5L1917.8 793.4L1918.6 793.8L1919.4 793.2L1920.2 792.9L1921 792.7L1921.8 792.7L1922.6 793L1923.4 793.3L1924.2 793L1925.1 793L1925.9 792.8L1926.7 793.2L1927.5 793.9L1928.3 794.4L1929.1 794.2L1929.9 793.2L1930.7 792.6L1931.5 792.2L1932.3 792.9L1933.1 793.1L1933.9 793.6L1934.7 793.2L1935.6 793.4L1936.4 793.8L1937.2 793.8L1938 793.7L1938.8 793L1939.6 793.5L1940.4 793.3L1941.2 793.2L1942 792.5L1942.8 792.3L1943.6 792.8L1944.4 794L1945.3 794.1L1946.1 794.2L1946.9 793.5L1947.7 793.5L1948.5 793.1L1949.3 792.9L1950.1 793L1950.9 793.7L1951.7 793.2L1952.5 793.5L1953.3 793L1954.1 793.3L1954.9 793.2L1955.8 793.3L1956.6 793.5L1957.4 793.6L1958.2 793.5L1959 792.8L1959.8 793L1960.6 793.4L1961.4 794.2L1962.2 794L1963 792.8L1963.8 792.4L1964.6 791.7L1965.5 791.7L1966.3 791.8L1967.1 791.5L1967.9 791.3L1968.7 790L1969.5 789.6L1970.3 788.9L1971.1 788.4L1971.9 787.2L1972.7 786.4L1973.5 784.8L1974.3 783.1L1975.1 780.5L1976 779.3L1976.8 778.3L1977.6 776.8L1978.4 774.5L1979.2 772.5L1980 772L1980.8 771.9L1981.6 773L1982.4 774.2L1983.2 776.1L1984 777.7L1984.8 779.4L1985.7 781.8L1986.5 783.1L1987.3 784.9L1988.1 785.8L1988.9 787.2L1989.7 787.9L1990.5 788.9L1991.3 789.6L1992.1 789.7L1992.9 789.9L1993.7 791L1994.5 792.4L1995.3 793.1L1996.2 793.2L1997 792.6L1997.8 792.5L1998.6 792.3L1999.4 792.1L2000.2 791.9L2001 791.9L2001.8 792.1L2002.6 792.1L2003.4 792.1L2004.2 792.1L2005 792.6L2005.9 792.4L2006.7 792.2L2007.5 791.7L2008.3 791.4L2009.1 790.9L2009.9 790.4L2010.7 790.2L2011.5 790L2012.3 789.9L2013.1 788.5L2013.9 787.5L2014.7 786.3L2015.5 786.2L2016.4 785.5L2017.2 784.9L2018 784.7L2018.8 784.7L2019.6 784.6L2020.4 785.1L2021.2 785.8L2022 786.6L2022.8 787.1L2023.6 787.3L2024.4 788.6L2025.2 788.9L2026.1 789.6L2026.9 789.7L2027.7 790.1L2028.5 790.8L2029.3 791.4L2030.1 792L2030.9 792L2031.7 791.1L2032.5 791.3L2033.3 791L2034.1 792.3L2034.9 792.7L2035.7 793.4L2036.6 793.3L2037.4 792.9L2038.2 792.8L2039 792.8L2039.8 792.7L2040.6 792.5L2041.4 793L2042.2 793.1L2043 793.7L2043.8 793.3L2044.6 793.3L2045.4 792.9L2046.3 793.1L2047.1 793.3L2047.9 793.3L2048.7 792.9L2049.5 792.3L2050.3 792.7L2051.1 792.6L2051.9 792.6L2052.7 792.3L2053.5 792.4L2054.3 792.3L2055.1 791.3L2055.9 791.2L2056.8 790.5L2057.6 790.1L2058.4 788.6L2059.2 787.2L2060 785.8L2060.8 785L2061.6 784.6L2062.4 784.1L2063.2 782.9L2064 781.8L2064.8 781.5L2065.6 781.5L2066.5 782.5L2067.3 783.5L2068.1 785.5L2068.9 786.4L2069.7 786.7L2070.5 786.6L2071.3 786.2L2072.1 787L2072.9 788L2073.7 790L2074.5 790.9L2075.3 791.6L2076.1 791.8L2077 792.2L2077.8 792.7L2078.6 792.6L2079.4 792.4L2080.2 791.7L2081 792.6L2081.8 793.2L2082.6 793.9L2083.4 793.1L2084.2 792.8L2085 792.6L2085.8 792.9L2086.7 792.8L2087.5 793L2088.3 792.9L2089.1 793.1L2089.9 792.9L2090.7 792.8L2091.5 792.4L2092.3 792L2093.1 792.1L2093.9 791.7L2094.7 791.6L2095.5 790.8L2096.3 789.9L2097.2 789.5L2098 788.7L2098.8 788.8L2099.6 788L2100.4 787.3L2101.2 786.4L2102 785.8L2102.8 786L2103.6 786.1L2104.4 786.8L2105.2 787.5L2106 788.5L2106.9 788.8L2107.7 789.6L2108.5 789.8L2109.3 790.5L2110.1 791.1L2110.9 791.8L2111.7 792L2112.5 791.9L2113.3 792.2L2114.1 792.6L2114.9 793L2115.7 792.9L2116.5 793.1L2117.4 794L2118.2 794.2L2119 794.2L2119.8 793.6L2120.6 792.9L2121.4 792.9L2122.2 792.6L2123 793.8L2123.8 793.7L2124.6 793.7L2125.4 793.3L2126.2 793.4L2127.1 793.5L2127.9 793.5L2128.7 793.1L2129.5 793.2L2130.3 793.4L2131.1 794.4L2131.9 794.7L2132.7 794.6L2133.5 794.3L2134.3 794.4L2135.1 794.8L2135.9 794.8L2136.7 794.4L2137.6 794L2138.4 793.7L2139.2 793.7L2140 793.7L2140.8 793.3L2141.6 792.5L2142.4 792.1L2143.2 791.6L2144 792.1L2144.8 792.1L2145.6 792L2146.4 791.9L2147.3 791.9L2148.1 792.1L2148.9 792.1L2149.7 792.1L2150.5 791.4L2151.3 790.9L2152.1 790.2L2152.9 790.5L2153.7 790.4L2154.5 790L2155.3 789.8L2156.1 789.4L2156.9 789.6L2157.8 790.1L2158.6 790.2L2159.4 790.5L2160.2 791L2161 791.7L2161.8 792.4L2162.6 792L2163.4 792L2164.2 792L2165 792.7L2165.8 792.9L2166.6 793.5L2167.5 793.6L2168.3 793.9L2169.1 793.7L2169.9 794L2170.7 793.9L2171.5 794.3L2172.3 794.2L2173.1 794.5L2173.9 794.2L2174.7 794.2L2175.5 794.5L2176.3 794.8L2177.1 794.8L2178 794.7L2178.8 794.5L2179.6 794.8L2180.4 794.5L2181.2 793.9L2182 793.9L2182.8 793.9L2183.6 794.2L2184.4 793.8L2185.2 793.5L2186 794.5L2186.8 794.7L2187.7 794.5L2188.5 794L2189.3 793.8L2190.1 794.8L2190.9 794.3L2191.7 793.8L2192.5 793.2L2193.3 793.5L2194.1 794L2194.9 793.4L2195.7 793.6L2196.5 794.2L2197.3 794.3L2198.2 794.5L2199 793.8L2199.8 795.1L2200.6 794.9L2201.4 795L2202.2 794.6L2203 794.7L2203.8 794.5L2204.6 794.4L2205.4 794.1L2206.2 793.7L2207 794.1L2207.9 794.2L2208.7 794.5L2209.5 794L2210.3 793.6L2211.1 793.4L2211.9 793.1L2212.7 793.4L2213.5 793.8L2214.3 794.3L2215.1 794.3L2215.9 794.4L2216.7 794.2L2217.5 793.9L2218.4 793.8L2219.2 793.3L2220 793.8L2220.8 793.8L2221.6 794L2222.4 793.2L2223.2 793L2224 792.6L2224.8 793.1L2225.6 792.8L2226.4 792.7L2227.2 792.6L2228.1 792.6L2228.9 792.5L2229.7 792.4L2230.5 791.9L2231.3 791.8L2232.1 791.3L2232.9 791L2233.7 790.9L2234.5 790.7L2235.3 791.3L2236.1 791.9L2236.9 791.8L2237.7 791.9L2238.6 791.5L2239.4 791.9L2240.2 791.8L2241 792L2241.8 792.8L2242.6 792.8L2243.4 792.6L2244.2 792.4L2245 792.4L2245.8 792.9L2246.6 791.8L2247.4 792.4L2248.3 792.9L2249.1 794.2L2249.9 794.3L2250.7 794.7L2251.5 794.5L2252.3 794.6L2253.1 794L2253.9 794L2254.7 794.1L2255.5 794.5L2256.3 794.2L2257.1 794.1L2257.9 794L2258.8 794.2L2259.6 794.2L2260.4 794.2L2261.2 794L2262 793.5L2262.8 794.2L2263.6 794.2L2264.4 794.7L2265.2 794.3L2266 795L2266.8 794.6L2267.6 794.3L2268.5 794.2L2269.3 794.8L2270.1 794.7L2270.9 794.3L2271.7 794.4L2272.5 794.9L2273.3 795.4L2274.1 794.9L2274.9 794.7L2275.7 794.6L2276.5 795.1L2277.3 794.6L2278.1 794.6L2279 794.3L2279.8 794.4L2280.6 794.4L2281.4 794.5L2282.2 794.7L2283 794.7L2283.8 794.3L2284.6 794.4L2285.4 794.4L2286.2 795L2287 795.3L2287.8 794.8L2288.7 794.3L2289.5 794.1L2290.3 794.6L2291.1 795.6L2291.9 795.8L2292.7 795.4L2293.5 795L2294.3 794.6L2295.1 794.4L2295.9 794.9L2296.7 795.3L2297.5 795.9L2298.3 795.3L2299.2 795.8L2300 795.7L2300.8 795.9L2301.6 795L2302.4 794.5L2303.2 794.6L2304 795.3L2304.8 795.9L2305.6 795.6L2306.4 795.2L2307.2 794.8L2308 795.2L2308.9 795.4L2309.7 795.7L2310.5 795.4L2311.3 795.5L2312.1 795.5L2312.9 795.5" stroke="#8000ff" stroke-width="9.5"/>
</g>
</g>
<g fill="#000"><circle cx="233.4" cy="53.5" r="12.6"/><circle cx="579" cy="628.4" r="12.6"/><circle cx="834.3" cy="772.6" r="12.6"/><circle cx="883.6" cy="749.2" r="12.6"/><circle cx="926.1" cy="758.4" r="12.6"/><circle cx="955.9" cy="721.3" r="12.6"/><circle cx="1058.6" cy="682.5" r="12.6"/><circle cx="1165" cy="744.9" r="12.6"/><circle cx="1226.4" cy="772.8" r="12.6"/><circle cx="1281.5" cy="765.2" r="12.6"/><circle cx="1291.5" cy="765.2" r="12.6"/><circle cx="1311.1" cy="754.3" r="12.6"/><circle cx="1484.3" cy="726.4" r="12.6"/><circle cx="1582.4" cy="769.6" r="12.6"/><circle cx="1613.8" cy="765" r="12.6"/><circle cx="1709.9" cy="709" r="12.6"/><circle cx="1789.8" cy="752.7" r="12.6"/><circle cx="1826.9" cy="744.5" r="12.6"/><circle cx="1897.1" cy="758.4" r="12.6"/><circle cx="1979" cy="747.5" r="12.6"/><circle cx="2018.9" cy="758.4" r="12.6"/><circle cx="2063.3" cy="757" r="12.6"/><circle cx="2100.6" cy="764.8" r="12.6"/><circle cx="2155.3" cy="767.5" r="12.6"/><circle cx="2195.3" cy="773.8" r="12.6"/><circle cx="2237" cy="766.2" r="12.6"/></g>
<path d="M523.1 774.2H554.6L538.9 801.7ZM1029.5 700.3H1061L1045.3 727.8ZM1386.2 758.2H1417.8L1402 785.7Z" fill="#ff0000"/>
<rect x="172" y="30.8" width="2142.6" height="2014.4" fill="none" stroke="#000" stroke-width="8.8"/>
<path d="M293.2 2041V2005M697.3 2041V2005M1101.4 2041V2005M1505.5 2041V2005M1909.6 2041V2005M495.3 2041V2025M899.4 2041V2025M1303.5 2041V2025M1707.6 2041V2025M2111.7 2041V2025" stroke="#000" stroke-width="9" fill="none"/>
<g font-size="80.5"><text x="294.7" y="2149.5" text-anchor="middle">10</text><text x="698.8" y="2149.5" text-anchor="middle">20</text><text x="1102.9" y="2149.5" text-anchor="middle">30</text><text x="1507" y="2149.5" text-anchor="middle">40</text><text x="1911.1" y="2149.5" text-anchor="middle">50</text><text x="2315.2" y="2149.5" text-anchor="middle">60</text></g>
<text x="1028" y="2280" font-size="92">2</text><text font-size="92" font-style="italic" transform="translate(1083 2280) scale(1.2 1.03)">θ</text><text x="1147.5" y="2280" font-size="93.4">(degree)</text>
<text transform="translate(97 1311.5) rotate(-90)" font-size="93.5">Intensity (a.u.)</text>
<text x="2199" y="167.4" font-size="128">b</text>
<text x="2207" y="935" font-size="133">a</text>
<circle cx="1822.4" cy="238.5" r="13"/>
<path d="M1806.4 318.3H1838.4L1822.4 346.8Z" fill="#ff0000"/>
<text x="1906" y="258.7" font-size="62">(Fe<tspan font-size="43" dy="17">3.5</tspan><tspan dy="-17">Se</tspan><tspan font-size="43" dy="17">4</tspan><tspan dy="-17">)-dien</tspan></text>
<text x="1907" y="350.5" font-size="62">Fe<tspan font-size="43" dy="17">x</tspan><tspan dy="-17">Se</tspan></text>
<path d="M1840.8 1016.3h24m-12-12v24" stroke="#555" stroke-width="2.2" fill="none"/>
<path d="M1775 1099.7H1931" stroke="#ff0000" stroke-width="6.5"/>
<path d="M1776 1182.7H1929" stroke="#0000ff" stroke-width="2.8"/>
<g font-size="67.3">
<text x="1943" y="1038" font-size="66.3">Experimental</text>
<text x="1943" y="1120.6">Calculated</text>
<text x="1943" y="1204">Difference</text>
</g>
</svg>
</body></html>
